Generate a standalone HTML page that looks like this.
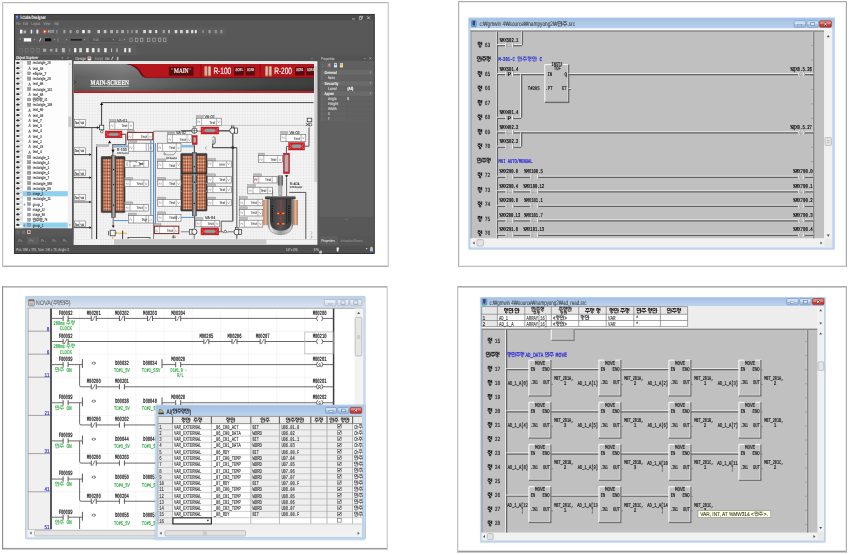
<!DOCTYPE html>
<html><head><meta charset="utf-8"><title>screens</title>
<style>html,body{margin:0;padding:0;background:#fff;overflow:hidden}svg{display:block}</style></head><body>
<svg width="851" height="555" viewBox="0 0 851 555" font-family="Liberation Sans, sans-serif" shape-rendering="auto" text-rendering="geometricPrecision">
<defs>
<pattern id="grid" width="2.78" height="2.78" patternUnits="userSpaceOnUse"><rect width="2.78" height="2.78" fill="#f5f5f5"/><path d="M0 0.4H2.78M0.4 0V2.78" stroke="#e9e9e9" stroke-width="0.8"/></pattern>
<linearGradient id="bannerg" x1="0" x2="1" y1="0" y2="0"><stop offset="0" stop-color="#5a5a5a"/><stop offset="0.2" stop-color="#6e6e6e"/><stop offset="0.5" stop-color="#525252"/><stop offset="0.8" stop-color="#3e3e3e"/><stop offset="1" stop-color="#383838"/></linearGradient>
<linearGradient id="tb7" x1="0" x2="0" y1="0" y2="1"><stop offset="0" stop-color="#a2c0e4"/><stop offset="1" stop-color="#bfd5ee"/></linearGradient>
<linearGradient id="tb7l" x1="0" x2="0" y1="0" y2="1"><stop offset="0" stop-color="#bed0e5"/><stop offset="1" stop-color="#dbe5f1"/></linearGradient>
<linearGradient id="copper" x1="0" x2="1" y1="0" y2="0"><stop offset="0" stop-color="#a85c3c"/><stop offset="0.5" stop-color="#cf8860"/><stop offset="1" stop-color="#a85c3c"/></linearGradient>
<linearGradient id="steel" x1="0" x2="1" y1="0" y2="0"><stop offset="0" stop-color="#555"/><stop offset="0.5" stop-color="#aaa"/><stop offset="1" stop-color="#555"/></linearGradient>
<filter id="soft" x="-2%" y="-2%" width="104%" height="104%"><feGaussianBlur stdDeviation="0.35"/></filter>
<pattern id="tubes" width="1.7" height="1.45" patternUnits="userSpaceOnUse"><rect width="1.7" height="1.45" fill="#c67a52"/><rect x="0" y="0" width="0.8" height="0.7" fill="#64281a"/><rect x="0.85" y="0.7" width="0.8" height="0.7" fill="#fbe4d2"/></pattern>
</defs>
<rect width="851" height="555" fill="#fff"/>
<g filter="url(#soft)">
<rect x="2.00" y="2.00" width="387.00" height="265.00" fill="#fff" />
<rect x="3.50" y="3.50" width="384.00" height="262.00" fill="none" stroke="#ededed" stroke-width="1" />
<line x1="2.00" y1="2.50" x2="389.00" y2="2.50" stroke="#b6b6b6" stroke-width="1.0" />
<line x1="2.00" y1="266.35" x2="389.00" y2="266.35" stroke="#acacac" stroke-width="1.3" />
<line x1="2.50" y1="2.00" x2="2.50" y2="267.00" stroke="#c2c2c2" stroke-width="1" />
<line x1="388.50" y1="2.00" x2="388.50" y2="267.00" stroke="#cfcfcf" stroke-width="1" />
<rect x="458.00" y="1.00" width="389.00" height="266.00" fill="#fff" />
<rect x="459.50" y="2.50" width="386.00" height="263.00" fill="none" stroke="#ededed" stroke-width="1" />
<line x1="458.00" y1="1.50" x2="847.00" y2="1.50" stroke="#ababab" stroke-width="1.0" />
<line x1="458.00" y1="266.50" x2="847.00" y2="266.50" stroke="#bdbdbd" stroke-width="1.0" />
<line x1="458.50" y1="1.00" x2="458.50" y2="267.00" stroke="#b4b4b4" stroke-width="1" />
<line x1="846.50" y1="1.00" x2="846.50" y2="267.00" stroke="#a8a8a8" stroke-width="1" />
<rect x="2.00" y="286.00" width="386.00" height="263.40" fill="#fff" />
<rect x="3.50" y="287.50" width="383.00" height="260.40" fill="none" stroke="#ededed" stroke-width="1" />
<line x1="2.00" y1="286.80" x2="388.00" y2="286.80" stroke="#b0b0b0" stroke-width="1.6" />
<line x1="2.00" y1="548.65" x2="388.00" y2="548.65" stroke="#9c9c9c" stroke-width="1.5" />
<line x1="2.50" y1="286.00" x2="2.50" y2="549.40" stroke="#8e8e8e" stroke-width="1" />
<line x1="387.50" y1="286.00" x2="387.50" y2="549.40" stroke="#d2d2d2" stroke-width="1" />
<rect x="457.00" y="286.00" width="390.00" height="266.40" fill="#fff" />
<rect x="458.50" y="287.50" width="387.00" height="263.40" fill="none" stroke="#ededed" stroke-width="1" />
<line x1="457.00" y1="286.75" x2="847.00" y2="286.75" stroke="#adadad" stroke-width="1.5" />
<line x1="457.00" y1="551.60" x2="847.00" y2="551.60" stroke="#9a9a9a" stroke-width="1.6" />
<line x1="457.50" y1="286.00" x2="457.50" y2="552.40" stroke="#c2c2c2" stroke-width="1" />
<line x1="846.50" y1="286.00" x2="846.50" y2="552.40" stroke="#b0b0b0" stroke-width="1" />
<rect x="468.20" y="17.60" width="366.80" height="232.10" fill="#bad3ee" rx="1.2" />
<rect x="468.50" y="17.90" width="366.20" height="231.50" fill="none" stroke="#d3e2f4" stroke-width="0.6" rx="1.2" />
<rect x="468.80" y="18.20" width="365.60" height="12.40" fill="url(#tb7)" />
<rect x="471.30" y="20.40" width="5.20" height="6.50" fill="#3fc9c0" rx="0.8" />
<path d="M472.60 20.70h2.4v3.6l-1.2 1.6l-1.2-1.6z" fill="#7a1e8a" />
<rect x="471.50" y="20.60" width="4.80" height="6.10" fill="none" stroke="#4a6a8a" stroke-width="0.4" rx="0.8" />
<text x="479.40" y="26.40" font-size="6.6" fill="#4a4a4a" font-family="Liberation Sans, sans-serif" textLength="78.00" lengthAdjust="spacingAndGlyphs" stroke="#4a4a4a" stroke-width="0.12">c:₩gmwin 4₩source₩nampyong2₩</text>
<g fill="none" stroke="#333" stroke-width="0.78" opacity="0.85"><path d="M558.00 21.62H560.32V23.80H558.00ZM561.55 21.2V26.40M561.55 23.54H562.54M558.34 24.84V26.14H560.81"/></g>
<g fill="none" stroke="#333" stroke-width="0.78" opacity="0.85"><path d="M562.89 21.72H566.85M564.87 21.72L563.14 23.80M564.87 21.98L566.75 23.80M562.40 24.63H567.34M564.87 24.63V26.40"/></g>
<text x="567.60" y="26.40" font-size="6.6" fill="#4a4a4a" font-family="Liberation Sans, sans-serif" textLength="7.40" lengthAdjust="spacingAndGlyphs" stroke="#4a4a4a" stroke-width="0.12">.src</text>
<rect x="794.10" y="20.80" width="11.50" height="6.50" fill="#a3bfe2" stroke="#7696c0" stroke-width="0.6" rx="1.2" />
<rect x="794.60" y="21.30" width="10.50" height="2.93" fill="#cfdff2" rx="0.8" />
<rect x="806.90" y="20.80" width="11.50" height="6.50" fill="#a3bfe2" stroke="#7696c0" stroke-width="0.6" rx="1.2" />
<rect x="807.40" y="21.30" width="10.50" height="2.93" fill="#cfdff2" rx="0.8" />
<rect x="797.85" y="24.30" width="4.00" height="1.60" fill="#eef2f8" stroke="#5f7696" stroke-width="0.45" />
<rect x="810.75" y="22.50" width="3.80" height="3.10" fill="#e4ecf6" stroke="#5f7696" stroke-width="0.6" />
<rect x="819.60" y="20.80" width="11.80" height="6.50" fill="#c23a2e" stroke="#8f3a36" stroke-width="0.6" rx="1.2" />
<rect x="820.10" y="21.30" width="10.80" height="2.93" fill="#de877c" rx="0.8" />
<path d="M824.20 22.80L826.80 25.30M826.80 22.80L824.20 25.30" fill="none" stroke="#6a2a26" stroke-width="1.9" />
<path d="M824.20 22.80L826.80 25.30M826.80 22.80L824.20 25.30" fill="none" stroke="#fff" stroke-width="1.0" />
<rect x="470.60" y="28.20" width="361.60" height="2.00" fill="#f6f8fb" />
<rect x="470.60" y="30.00" width="361.60" height="217.30" fill="#f0f0f0" />
<rect x="470.60" y="30.00" width="353.60" height="208.40" fill="#c0c0c0" />
<line x1="470.60" y1="30.20" x2="832.20" y2="30.20" stroke="#fbfbfb" stroke-width="0.8" />
<line x1="470.60" y1="31.00" x2="824.20" y2="31.00" stroke="#6e6e6e" stroke-width="1" />
<line x1="471.00" y1="30.50" x2="471.00" y2="238.40" stroke="#8c8c8c" stroke-width="0.8" />
<rect x="824.20" y="31.00" width="8.00" height="207.40" fill="#f1f1f1" />
<path d="M826.6 37.2l1.6-2.2l1.6 2.2z" fill="#555" />
<path d="M826.6 234.6l1.6 2.2l1.6-2.2z" fill="#555" />
<rect x="825.00" y="137.50" width="6.40" height="8.00" fill="#e4e4e4" stroke="#a8a8a8" stroke-width="0.6" rx="1" />
<line x1="826.80" y1="140.50" x2="829.60" y2="140.50" stroke="#999" stroke-width="0.5" />
<line x1="826.80" y1="142.50" x2="829.60" y2="142.50" stroke="#999" stroke-width="0.5" />
<rect x="470.60" y="238.40" width="361.60" height="8.90" fill="#f1f1f1" />
<path d="M474.6 241.4l-2 1.5l2 1.5z" fill="#555" />
<path d="M820.4 241.4l2 1.5l-2 1.5z" fill="#555" />
<rect x="477.00" y="239.60" width="6.40" height="6.40" fill="#e2e2e2" stroke="#a5a5a5" stroke-width="0.6" rx="1" />
<rect x="824.60" y="239.00" width="7.40" height="8.00" fill="#e9e9e9" />
<g fill="none" stroke="#000" stroke-width="0.84" opacity="1"><circle cx="479.10" cy="43.93" r="1.12"/><path d="M477.67 42.25H480.59M481.66 41.8V45.27M480.33 43.48H481.66"/><circle cx="480.06" cy="46.50" r="0.84"/></g>
<text x="484.80" y="46.68" font-size="6.2" fill="#2e2e2e" font-family="Liberation Mono, monospace" textLength="5.60" lengthAdjust="spacingAndGlyphs" stroke="#2e2e2e" stroke-width="0.2">63</text>
<g fill="none" stroke="#000" stroke-width="0.78" opacity="1"><path d="M477.40 56.72H479.72V58.90H477.40ZM480.95 56.300000000000004V61.50M480.95 58.64H481.94M477.74 59.94V61.24H480.21"/></g>
<g fill="none" stroke="#000" stroke-width="0.78" opacity="1"><path d="M482.09 56.82H486.05M484.07 56.82L482.34 58.90M484.07 57.08L485.95 58.90M481.60 59.73H486.54M484.07 59.73V61.50"/></g>
<g fill="none" stroke="#000" stroke-width="0.78" opacity="1"><circle cx="487.78" cy="58.28" r="1.04"/><path d="M486.45 56.72H489.16M490.15 56.300000000000004V59.52M488.92 57.86H490.15"/><circle cx="488.67" cy="60.67" r="0.78"/></g>
<g fill="none" stroke="#000" stroke-width="0.84" opacity="1"><circle cx="479.10" cy="73.33" r="1.12"/><path d="M477.67 71.65H480.59M481.66 71.2V74.67M480.33 72.88H481.66"/><circle cx="480.06" cy="75.90" r="0.84"/></g>
<text x="484.80" y="76.08" font-size="6.2" fill="#2e2e2e" font-family="Liberation Mono, monospace" textLength="5.60" lengthAdjust="spacingAndGlyphs" stroke="#2e2e2e" stroke-width="0.2">65</text>
<g fill="none" stroke="#000" stroke-width="0.84" opacity="1"><circle cx="479.10" cy="87.73" r="1.12"/><path d="M477.67 86.05H480.59M481.66 85.60000000000001V89.07M480.33 87.28H481.66"/><circle cx="480.06" cy="90.30" r="0.84"/></g>
<text x="484.80" y="90.48" font-size="6.2" fill="#2e2e2e" font-family="Liberation Mono, monospace" textLength="5.60" lengthAdjust="spacingAndGlyphs" stroke="#2e2e2e" stroke-width="0.2">66</text>
<g fill="none" stroke="#000" stroke-width="0.84" opacity="1"><circle cx="479.10" cy="102.13" r="1.12"/><path d="M477.67 100.45H480.59M481.66 100.0V103.47M480.33 101.68H481.66"/><circle cx="480.06" cy="104.70" r="0.84"/></g>
<text x="484.80" y="104.88" font-size="6.2" fill="#2e2e2e" font-family="Liberation Mono, monospace" textLength="5.60" lengthAdjust="spacingAndGlyphs" stroke="#2e2e2e" stroke-width="0.2">67</text>
<g fill="none" stroke="#000" stroke-width="0.84" opacity="1"><circle cx="479.10" cy="116.63" r="1.12"/><path d="M477.67 114.95H480.59M481.66 114.5V117.97M480.33 116.18H481.66"/><circle cx="480.06" cy="119.20" r="0.84"/></g>
<text x="484.80" y="119.38" font-size="6.2" fill="#2e2e2e" font-family="Liberation Mono, monospace" textLength="5.60" lengthAdjust="spacingAndGlyphs" stroke="#2e2e2e" stroke-width="0.2">68</text>
<g fill="none" stroke="#000" stroke-width="0.84" opacity="1"><circle cx="479.10" cy="131.13" r="1.12"/><path d="M477.67 129.45H480.59M481.66 129.00000000000003V132.47M480.33 130.68H481.66"/><circle cx="480.06" cy="133.70" r="0.84"/></g>
<text x="484.80" y="133.88" font-size="6.2" fill="#2e2e2e" font-family="Liberation Mono, monospace" textLength="5.60" lengthAdjust="spacingAndGlyphs" stroke="#2e2e2e" stroke-width="0.2">69</text>
<g fill="none" stroke="#000" stroke-width="0.84" opacity="1"><circle cx="479.10" cy="145.53" r="1.12"/><path d="M477.67 143.85H480.59M481.66 143.4V146.87M480.33 145.08H481.66"/><circle cx="480.06" cy="148.10" r="0.84"/></g>
<text x="484.80" y="148.28" font-size="6.2" fill="#2e2e2e" font-family="Liberation Mono, monospace" textLength="5.60" lengthAdjust="spacingAndGlyphs" stroke="#2e2e2e" stroke-width="0.2">70</text>
<g fill="none" stroke="#000" stroke-width="0.78" opacity="1"><path d="M477.40 158.22H479.72V160.40H477.40ZM480.95 157.79999999999998V163.00M480.95 160.14H481.94M477.74 161.44V162.74H480.21"/></g>
<g fill="none" stroke="#000" stroke-width="0.78" opacity="1"><path d="M482.09 158.32H486.05M484.07 158.32L482.34 160.40M484.07 158.58L485.95 160.40M481.60 161.23H486.54M484.07 161.23V163.00"/></g>
<g fill="none" stroke="#000" stroke-width="0.78" opacity="1"><circle cx="487.78" cy="159.78" r="1.04"/><path d="M486.45 158.22H489.16M490.15 157.79999999999998V161.02M488.92 159.36H490.15"/><circle cx="488.67" cy="162.17" r="0.78"/></g>
<g fill="none" stroke="#000" stroke-width="0.84" opacity="1"><circle cx="479.10" cy="174.53" r="1.12"/><path d="M477.67 172.85H480.59M481.66 172.4V175.87M480.33 174.08H481.66"/><circle cx="480.06" cy="177.10" r="0.84"/></g>
<text x="484.80" y="177.28" font-size="6.2" fill="#2e2e2e" font-family="Liberation Mono, monospace" textLength="5.60" lengthAdjust="spacingAndGlyphs" stroke="#2e2e2e" stroke-width="0.2">72</text>
<g fill="none" stroke="#000" stroke-width="0.84" opacity="1"><circle cx="479.10" cy="189.13" r="1.12"/><path d="M477.67 187.45H480.59M481.66 187.00000000000003V190.47M480.33 188.68H481.66"/><circle cx="480.06" cy="191.70" r="0.84"/></g>
<text x="484.80" y="191.88" font-size="6.2" fill="#2e2e2e" font-family="Liberation Mono, monospace" textLength="5.60" lengthAdjust="spacingAndGlyphs" stroke="#2e2e2e" stroke-width="0.2">73</text>
<g fill="none" stroke="#000" stroke-width="0.84" opacity="1"><circle cx="479.10" cy="203.63" r="1.12"/><path d="M477.67 201.95H480.59M481.66 201.50000000000003V204.97M480.33 203.18H481.66"/><circle cx="480.06" cy="206.20" r="0.84"/></g>
<text x="484.80" y="206.38" font-size="6.2" fill="#2e2e2e" font-family="Liberation Mono, monospace" textLength="5.60" lengthAdjust="spacingAndGlyphs" stroke="#2e2e2e" stroke-width="0.2">74</text>
<g fill="none" stroke="#000" stroke-width="0.84" opacity="1"><circle cx="479.10" cy="218.13" r="1.12"/><path d="M477.67 216.45H480.59M481.66 216.00000000000003V219.47M480.33 217.68H481.66"/><circle cx="480.06" cy="220.70" r="0.84"/></g>
<text x="484.80" y="220.88" font-size="6.2" fill="#2e2e2e" font-family="Liberation Mono, monospace" textLength="5.60" lengthAdjust="spacingAndGlyphs" stroke="#2e2e2e" stroke-width="0.2">75</text>
<g fill="none" stroke="#000" stroke-width="0.84" opacity="1"><circle cx="479.10" cy="232.53" r="1.12"/><path d="M477.67 230.85H480.59M481.66 230.4V233.87M480.33 232.08H481.66"/><circle cx="480.06" cy="235.10" r="0.84"/></g>
<text x="484.80" y="235.28" font-size="6.2" fill="#2e2e2e" font-family="Liberation Mono, monospace" textLength="5.60" lengthAdjust="spacingAndGlyphs" stroke="#2e2e2e" stroke-width="0.2">76</text>
<line x1="496.40" y1="31.50" x2="496.40" y2="238.40" stroke="#f4f4f4" stroke-width="0.9" />
<line x1="497.45" y1="31.50" x2="497.45" y2="238.40" stroke="#626262" stroke-width="1.2" />
<line x1="813.60" y1="31.50" x2="813.60" y2="238.40" stroke="#7d7d7d" stroke-width="1.3" />
<line x1="812.70" y1="31.50" x2="812.70" y2="238.40" stroke="#d8d8d8" stroke-width="0.6" />
<line x1="811.20" y1="45.60" x2="813.60" y2="45.60" stroke="#8a8a8a" stroke-width="0.7" />
<line x1="811.20" y1="60.10" x2="813.60" y2="60.10" stroke="#8a8a8a" stroke-width="0.7" />
<line x1="811.20" y1="75.00" x2="813.60" y2="75.00" stroke="#8a8a8a" stroke-width="0.7" />
<line x1="811.20" y1="89.40" x2="813.60" y2="89.40" stroke="#8a8a8a" stroke-width="0.7" />
<line x1="811.20" y1="103.80" x2="813.60" y2="103.80" stroke="#8a8a8a" stroke-width="0.7" />
<line x1="811.20" y1="118.30" x2="813.60" y2="118.30" stroke="#8a8a8a" stroke-width="0.7" />
<line x1="811.20" y1="132.80" x2="813.60" y2="132.80" stroke="#8a8a8a" stroke-width="0.7" />
<line x1="811.20" y1="147.20" x2="813.60" y2="147.20" stroke="#8a8a8a" stroke-width="0.7" />
<line x1="811.20" y1="161.60" x2="813.60" y2="161.60" stroke="#8a8a8a" stroke-width="0.7" />
<line x1="811.20" y1="176.20" x2="813.60" y2="176.20" stroke="#8a8a8a" stroke-width="0.7" />
<line x1="811.20" y1="190.80" x2="813.60" y2="190.80" stroke="#8a8a8a" stroke-width="0.7" />
<line x1="811.20" y1="205.30" x2="813.60" y2="205.30" stroke="#8a8a8a" stroke-width="0.7" />
<line x1="811.20" y1="219.80" x2="813.60" y2="219.80" stroke="#8a8a8a" stroke-width="0.7" />
<line x1="811.20" y1="234.20" x2="813.60" y2="234.20" stroke="#8a8a8a" stroke-width="0.7" />
<line x1="497.00" y1="44.65" x2="522.00" y2="44.65" stroke="#f4f4f4" stroke-width="0.9" />
<line x1="497.00" y1="45.70" x2="522.00" y2="45.70" stroke="#626262" stroke-width="1.2" />
<rect x="505.40" y="44.00" width="7.50" height="2.40" fill="#c0c0c0" />
<line x1="505.80" y1="42.90" x2="505.80" y2="47.50" stroke="#f4f4f4" stroke-width="1.1" />
<line x1="512.50" y1="42.90" x2="512.50" y2="47.50" stroke="#f4f4f4" stroke-width="1.1" />
<line x1="506.60" y1="42.90" x2="506.60" y2="47.50" stroke="#8a8a8a" stroke-width="0.6" />
<line x1="513.30" y1="42.90" x2="513.30" y2="47.50" stroke="#8a8a8a" stroke-width="0.6" />
<line x1="521.40" y1="31.50" x2="521.40" y2="45.20" stroke="#f4f4f4" stroke-width="0.9" />
<line x1="522.45" y1="31.50" x2="522.45" y2="45.20" stroke="#626262" stroke-width="1.2" />
<text x="499.80" y="41.70" font-size="5.9" fill="#111" font-family="Liberation Mono, monospace" textLength="18.60" lengthAdjust="spacingAndGlyphs" stroke="#111" stroke-width="0.22">%MX502.1</text>
<text x="498.40" y="61.10" font-size="5.9" fill="#1c1cd8" font-family="Liberation Mono, monospace" textLength="16.40" lengthAdjust="spacingAndGlyphs" stroke="#1c1cd8" stroke-width="0.22">M-201-C</text>
<g fill="none" stroke="#2222dd" stroke-width="0.72" opacity="0.95"><path d="M517.96 56.88H520.11V58.90H517.96ZM521.25 56.5V61.30M521.25 58.66H522.16M518.28 59.86V61.06H520.56"/></g>
<g fill="none" stroke="#2222dd" stroke-width="0.72" opacity="0.95"><path d="M522.96 56.98H526.60M524.78 56.98L523.18 58.90M524.78 57.22L526.51 58.90M522.50 59.67H527.06M524.78 59.67V61.30"/></g>
<g fill="none" stroke="#2222dd" stroke-width="0.72" opacity="0.95"><circle cx="528.86" cy="58.32" r="0.96"/><path d="M527.63 56.88H530.14M531.05 56.5V59.48M529.91 57.94H531.05"/><circle cx="529.68" cy="60.53" r="0.72"/></g>
<g fill="none" stroke="#2222dd" stroke-width="0.72" opacity="0.95"><path d="M532.66 56.88H534.81V58.90H532.66ZM535.95 56.5V61.30M535.95 58.66H536.86M532.98 59.86V61.06H535.26"/></g>
<text x="539.40" y="61.10" font-size="5.9" fill="#1c1cd8" font-family="Liberation Mono, monospace" textLength="2.80" lengthAdjust="spacingAndGlyphs" stroke="#1c1cd8" stroke-width="0.22">C</text>
<line x1="497.00" y1="73.65" x2="545.00" y2="73.65" stroke="#f4f4f4" stroke-width="0.9" />
<line x1="497.00" y1="74.70" x2="545.00" y2="74.70" stroke="#626262" stroke-width="1.2" />
<rect x="505.60" y="73.00" width="7.50" height="2.40" fill="#c0c0c0" />
<line x1="506.00" y1="71.90" x2="506.00" y2="76.50" stroke="#f4f4f4" stroke-width="1.1" />
<line x1="512.70" y1="71.90" x2="512.70" y2="76.50" stroke="#f4f4f4" stroke-width="1.1" />
<line x1="506.80" y1="71.90" x2="506.80" y2="76.50" stroke="#8a8a8a" stroke-width="0.6" />
<line x1="513.50" y1="71.90" x2="513.50" y2="76.50" stroke="#8a8a8a" stroke-width="0.6" />
<text x="509.40" y="76.30" font-size="5.6" fill="#111" text-anchor="middle" font-weight="bold" >P</text>
<text x="499.80" y="70.70" font-size="5.9" fill="#111" font-family="Liberation Mono, monospace" textLength="18.60" lengthAdjust="spacingAndGlyphs" stroke="#111" stroke-width="0.22">%MX501.4</text>
<line x1="520.60" y1="74.20" x2="520.60" y2="117.90" stroke="#f4f4f4" stroke-width="0.9" />
<line x1="521.65" y1="74.20" x2="521.65" y2="117.90" stroke="#626262" stroke-width="1.2" />
<rect x="544.80" y="64.60" width="23.80" height="37.80" fill="#c0c0c0" />
<line x1="544.80" y1="64.60" x2="544.80" y2="102.40" stroke="#f6f6f6" stroke-width="1.1" />
<line x1="544.80" y1="64.60" x2="551.50" y2="64.60" stroke="#f6f6f6" stroke-width="1.1" />
<line x1="562.50" y1="64.60" x2="568.60" y2="64.60" stroke="#f6f6f6" stroke-width="1.1" />
<line x1="568.60" y1="64.60" x2="568.60" y2="102.40" stroke="#6a6a6a" stroke-width="1.4" />
<line x1="544.80" y1="102.40" x2="569.30" y2="102.40" stroke="#6a6a6a" stroke-width="1.4" />
<line x1="567.60" y1="65.10" x2="567.60" y2="101.40" stroke="#e6e6e6" stroke-width="0.6" />
<text x="551.60" y="66.00" font-size="5.6" fill="#222" font-family="Liberation Mono, monospace" textLength="10.80" lengthAdjust="spacingAndGlyphs" stroke="#222" stroke-width="0.22">INST3</text>
<text x="554.00" y="70.40" font-size="5.6" fill="#222" font-family="Liberation Mono, monospace" textLength="6.60" lengthAdjust="spacingAndGlyphs" stroke="#222" stroke-width="0.22">TOF</text>
<text x="547.40" y="75.60" font-size="5.6" fill="#222" font-family="Liberation Mono, monospace" textLength="4.80" lengthAdjust="spacingAndGlyphs" stroke="#222" stroke-width="0.22">IN</text>
<text x="564.60" y="75.60" font-size="5.6" fill="#222" font-family="Liberation Mono, monospace" textLength="2.60" lengthAdjust="spacingAndGlyphs" stroke="#222" stroke-width="0.22">Q</text>
<text x="545.60" y="90.20" font-size="5.6" fill="#222" font-family="Liberation Mono, monospace" textLength="6.80" lengthAdjust="spacingAndGlyphs" stroke="#222" stroke-width="0.22">.PT</text>
<text x="562.00" y="90.20" font-size="5.6" fill="#222" font-family="Liberation Mono, monospace" textLength="4.60" lengthAdjust="spacingAndGlyphs" stroke="#222" stroke-width="0.22">ET</text>
<line x1="568.60" y1="73.65" x2="813.60" y2="73.65" stroke="#f4f4f4" stroke-width="0.9" />
<line x1="568.60" y1="74.70" x2="813.60" y2="74.70" stroke="#626262" stroke-width="1.2" />
<line x1="568.60" y1="88.45" x2="571.00" y2="88.45" stroke="#f4f4f4" stroke-width="0.9" />
<line x1="568.60" y1="89.50" x2="571.00" y2="89.50" stroke="#626262" stroke-width="1.2" />
<text x="527.80" y="90.20" font-size="5.6" fill="#222" font-family="Liberation Mono, monospace" textLength="11.80" lengthAdjust="spacingAndGlyphs" stroke="#222" stroke-width="0.22">T#20S</text>
<rect x="797.80" y="73.00" width="7.00" height="2.40" fill="#c0c0c0" />
<path d="M799.60 71.80Q797.60 74.20 799.60 76.60" fill="none" stroke="#f4f4f4" stroke-width="1" />
<path d="M803.00 71.80Q805.00 74.20 803.00 76.60" fill="none" stroke="#f4f4f4" stroke-width="1" />
<path d="M800.30 71.80Q798.30 74.20 800.30 76.60" fill="none" stroke="#888" stroke-width="0.5" />
<path d="M803.70 71.80Q805.70 74.20 803.70 76.60" fill="none" stroke="#888" stroke-width="0.5" />
<text x="790.40" y="70.50" font-size="5.9" fill="#111" font-family="Liberation Mono, monospace" textLength="21.60" lengthAdjust="spacingAndGlyphs" stroke="#111" stroke-width="0.22">%QX0.5.26</text>
<line x1="497.00" y1="117.35" x2="521.20" y2="117.35" stroke="#f4f4f4" stroke-width="0.9" />
<line x1="497.00" y1="118.40" x2="521.20" y2="118.40" stroke="#626262" stroke-width="1.2" />
<rect x="505.60" y="116.70" width="7.50" height="2.40" fill="#c0c0c0" />
<line x1="506.00" y1="115.60" x2="506.00" y2="120.20" stroke="#f4f4f4" stroke-width="1.1" />
<line x1="512.70" y1="115.60" x2="512.70" y2="120.20" stroke="#f4f4f4" stroke-width="1.1" />
<line x1="506.80" y1="115.60" x2="506.80" y2="120.20" stroke="#8a8a8a" stroke-width="0.6" />
<line x1="513.50" y1="115.60" x2="513.50" y2="120.20" stroke="#8a8a8a" stroke-width="0.6" />
<text x="509.40" y="120.00" font-size="5.6" fill="#111" text-anchor="middle" font-weight="bold" >P</text>
<text x="499.80" y="114.40" font-size="5.9" fill="#111" font-family="Liberation Mono, monospace" textLength="18.60" lengthAdjust="spacingAndGlyphs" stroke="#111" stroke-width="0.22">%MX401.4</text>
<line x1="497.00" y1="131.85" x2="813.60" y2="131.85" stroke="#f4f4f4" stroke-width="0.9" />
<line x1="497.00" y1="132.90" x2="813.60" y2="132.90" stroke="#626262" stroke-width="1.2" />
<rect x="505.60" y="131.20" width="7.50" height="2.40" fill="#c0c0c0" />
<line x1="506.00" y1="130.10" x2="506.00" y2="134.70" stroke="#f4f4f4" stroke-width="1.1" />
<line x1="512.70" y1="130.10" x2="512.70" y2="134.70" stroke="#f4f4f4" stroke-width="1.1" />
<line x1="506.80" y1="130.10" x2="506.80" y2="134.70" stroke="#8a8a8a" stroke-width="0.6" />
<line x1="513.50" y1="130.10" x2="513.50" y2="134.70" stroke="#8a8a8a" stroke-width="0.6" />
<text x="499.80" y="128.90" font-size="5.9" fill="#111" font-family="Liberation Mono, monospace" textLength="18.60" lengthAdjust="spacingAndGlyphs" stroke="#111" stroke-width="0.22">%MX402.2</text>
<rect x="797.80" y="131.20" width="7.00" height="2.40" fill="#c0c0c0" />
<path d="M799.60 130.00Q797.60 132.40 799.60 134.80" fill="none" stroke="#f4f4f4" stroke-width="1" />
<path d="M803.00 130.00Q805.00 132.40 803.00 134.80" fill="none" stroke="#f4f4f4" stroke-width="1" />
<path d="M800.30 130.00Q798.30 132.40 800.30 134.80" fill="none" stroke="#888" stroke-width="0.5" />
<path d="M803.70 130.00Q805.70 132.40 803.70 134.80" fill="none" stroke="#888" stroke-width="0.5" />
<text x="790.40" y="128.70" font-size="5.9" fill="#111" font-family="Liberation Mono, monospace" textLength="21.60" lengthAdjust="spacingAndGlyphs" stroke="#111" stroke-width="0.22">%QX0.5.27</text>
<line x1="520.60" y1="132.40" x2="520.60" y2="146.80" stroke="#f4f4f4" stroke-width="0.9" />
<line x1="521.65" y1="132.40" x2="521.65" y2="146.80" stroke="#626262" stroke-width="1.2" />
<line x1="497.00" y1="146.25" x2="521.20" y2="146.25" stroke="#f4f4f4" stroke-width="0.9" />
<line x1="497.00" y1="147.30" x2="521.20" y2="147.30" stroke="#626262" stroke-width="1.2" />
<rect x="505.60" y="145.60" width="7.50" height="2.40" fill="#c0c0c0" />
<line x1="506.00" y1="144.50" x2="506.00" y2="149.10" stroke="#f4f4f4" stroke-width="1.1" />
<line x1="512.70" y1="144.50" x2="512.70" y2="149.10" stroke="#f4f4f4" stroke-width="1.1" />
<line x1="506.80" y1="144.50" x2="506.80" y2="149.10" stroke="#8a8a8a" stroke-width="0.6" />
<line x1="513.50" y1="144.50" x2="513.50" y2="149.10" stroke="#8a8a8a" stroke-width="0.6" />
<text x="499.80" y="143.30" font-size="5.9" fill="#111" font-family="Liberation Mono, monospace" textLength="18.60" lengthAdjust="spacingAndGlyphs" stroke="#111" stroke-width="0.22">%MX502.2</text>
<text x="498.60" y="162.60" font-size="5.9" fill="#1c1cd8" font-family="Liberation Mono, monospace" textLength="34.00" lengthAdjust="spacingAndGlyphs" stroke="#1c1cd8" stroke-width="0.22">MHI AUTO/MENUAL</text>
<line x1="497.00" y1="176.25" x2="813.60" y2="176.25" stroke="#f4f4f4" stroke-width="0.9" />
<line x1="497.00" y1="177.30" x2="813.60" y2="177.30" stroke="#626262" stroke-width="1.2" />
<rect x="505.80" y="175.60" width="7.50" height="2.40" fill="#c0c0c0" />
<line x1="506.20" y1="174.50" x2="506.20" y2="179.10" stroke="#f4f4f4" stroke-width="1.1" />
<line x1="512.90" y1="174.50" x2="512.90" y2="179.10" stroke="#f4f4f4" stroke-width="1.1" />
<line x1="507.00" y1="174.50" x2="507.00" y2="179.10" stroke="#8a8a8a" stroke-width="0.6" />
<line x1="513.70" y1="174.50" x2="513.70" y2="179.10" stroke="#8a8a8a" stroke-width="0.6" />
<rect x="530.60" y="175.60" width="7.50" height="2.40" fill="#c0c0c0" />
<line x1="531.00" y1="174.50" x2="531.00" y2="179.10" stroke="#f4f4f4" stroke-width="1.1" />
<line x1="537.70" y1="174.50" x2="537.70" y2="179.10" stroke="#f4f4f4" stroke-width="1.1" />
<line x1="531.80" y1="174.50" x2="531.80" y2="179.10" stroke="#8a8a8a" stroke-width="0.6" />
<line x1="538.50" y1="174.50" x2="538.50" y2="179.10" stroke="#8a8a8a" stroke-width="0.6" />
<text x="499.60" y="173.20" font-size="5.9" fill="#111" font-family="Liberation Mono, monospace" textLength="18.60" lengthAdjust="spacingAndGlyphs" stroke="#111" stroke-width="0.22">%MX200.0</text>
<text x="524.20" y="173.20" font-size="5.9" fill="#111" font-family="Liberation Mono, monospace" textLength="18.60" lengthAdjust="spacingAndGlyphs" stroke="#111" stroke-width="0.22">%MX100.5</text>
<rect x="797.80" y="175.60" width="7.00" height="2.40" fill="#c0c0c0" />
<path d="M799.60 174.40Q797.60 176.80 799.60 179.20" fill="none" stroke="#f4f4f4" stroke-width="1" />
<path d="M803.00 174.40Q805.00 176.80 803.00 179.20" fill="none" stroke="#f4f4f4" stroke-width="1" />
<path d="M800.30 174.40Q798.30 176.80 800.30 179.20" fill="none" stroke="#888" stroke-width="0.5" />
<path d="M803.70 174.40Q805.70 176.80 803.70 179.20" fill="none" stroke="#888" stroke-width="0.5" />
<text x="793.20" y="173.00" font-size="5.9" fill="#111" font-family="Liberation Mono, monospace" textLength="19.60" lengthAdjust="spacingAndGlyphs" stroke="#111" stroke-width="0.22">%MX700.0</text>
<line x1="497.00" y1="190.85" x2="813.60" y2="190.85" stroke="#f4f4f4" stroke-width="0.9" />
<line x1="497.00" y1="191.90" x2="813.60" y2="191.90" stroke="#626262" stroke-width="1.2" />
<rect x="505.80" y="190.20" width="7.50" height="2.40" fill="#c0c0c0" />
<line x1="506.20" y1="189.10" x2="506.20" y2="193.70" stroke="#f4f4f4" stroke-width="1.1" />
<line x1="512.90" y1="189.10" x2="512.90" y2="193.70" stroke="#f4f4f4" stroke-width="1.1" />
<line x1="507.00" y1="189.10" x2="507.00" y2="193.70" stroke="#8a8a8a" stroke-width="0.6" />
<line x1="513.70" y1="189.10" x2="513.70" y2="193.70" stroke="#8a8a8a" stroke-width="0.6" />
<rect x="530.60" y="190.20" width="7.50" height="2.40" fill="#c0c0c0" />
<line x1="531.00" y1="189.10" x2="531.00" y2="193.70" stroke="#f4f4f4" stroke-width="1.1" />
<line x1="537.70" y1="189.10" x2="537.70" y2="193.70" stroke="#f4f4f4" stroke-width="1.1" />
<line x1="531.80" y1="189.10" x2="531.80" y2="193.70" stroke="#8a8a8a" stroke-width="0.6" />
<line x1="538.50" y1="189.10" x2="538.50" y2="193.70" stroke="#8a8a8a" stroke-width="0.6" />
<text x="499.60" y="187.80" font-size="5.9" fill="#111" font-family="Liberation Mono, monospace" textLength="18.60" lengthAdjust="spacingAndGlyphs" stroke="#111" stroke-width="0.22">%MX200.4</text>
<text x="523.40" y="187.80" font-size="5.9" fill="#111" font-family="Liberation Mono, monospace" textLength="20.80" lengthAdjust="spacingAndGlyphs" stroke="#111" stroke-width="0.22">%MX100.12</text>
<rect x="797.80" y="190.20" width="7.00" height="2.40" fill="#c0c0c0" />
<path d="M799.60 189.00Q797.60 191.40 799.60 193.80" fill="none" stroke="#f4f4f4" stroke-width="1" />
<path d="M803.00 189.00Q805.00 191.40 803.00 193.80" fill="none" stroke="#f4f4f4" stroke-width="1" />
<path d="M800.30 189.00Q798.30 191.40 800.30 193.80" fill="none" stroke="#888" stroke-width="0.5" />
<path d="M803.70 189.00Q805.70 191.40 803.70 193.80" fill="none" stroke="#888" stroke-width="0.5" />
<text x="793.20" y="187.60" font-size="5.9" fill="#111" font-family="Liberation Mono, monospace" textLength="19.60" lengthAdjust="spacingAndGlyphs" stroke="#111" stroke-width="0.22">%MX700.1</text>
<line x1="497.00" y1="205.35" x2="813.60" y2="205.35" stroke="#f4f4f4" stroke-width="0.9" />
<line x1="497.00" y1="206.40" x2="813.60" y2="206.40" stroke="#626262" stroke-width="1.2" />
<rect x="505.80" y="204.70" width="7.50" height="2.40" fill="#c0c0c0" />
<line x1="506.20" y1="203.60" x2="506.20" y2="208.20" stroke="#f4f4f4" stroke-width="1.1" />
<line x1="512.90" y1="203.60" x2="512.90" y2="208.20" stroke="#f4f4f4" stroke-width="1.1" />
<line x1="507.00" y1="203.60" x2="507.00" y2="208.20" stroke="#8a8a8a" stroke-width="0.6" />
<line x1="513.70" y1="203.60" x2="513.70" y2="208.20" stroke="#8a8a8a" stroke-width="0.6" />
<rect x="530.60" y="204.70" width="7.50" height="2.40" fill="#c0c0c0" />
<line x1="531.00" y1="203.60" x2="531.00" y2="208.20" stroke="#f4f4f4" stroke-width="1.1" />
<line x1="537.70" y1="203.60" x2="537.70" y2="208.20" stroke="#f4f4f4" stroke-width="1.1" />
<line x1="531.80" y1="203.60" x2="531.80" y2="208.20" stroke="#8a8a8a" stroke-width="0.6" />
<line x1="538.50" y1="203.60" x2="538.50" y2="208.20" stroke="#8a8a8a" stroke-width="0.6" />
<text x="499.60" y="202.30" font-size="5.9" fill="#111" font-family="Liberation Mono, monospace" textLength="18.60" lengthAdjust="spacingAndGlyphs" stroke="#111" stroke-width="0.22">%MX200.8</text>
<text x="524.20" y="202.30" font-size="5.9" fill="#111" font-family="Liberation Mono, monospace" textLength="18.60" lengthAdjust="spacingAndGlyphs" stroke="#111" stroke-width="0.22">%MX101.1</text>
<rect x="797.80" y="204.70" width="7.00" height="2.40" fill="#c0c0c0" />
<path d="M799.60 203.50Q797.60 205.90 799.60 208.30" fill="none" stroke="#f4f4f4" stroke-width="1" />
<path d="M803.00 203.50Q805.00 205.90 803.00 208.30" fill="none" stroke="#f4f4f4" stroke-width="1" />
<path d="M800.30 203.50Q798.30 205.90 800.30 208.30" fill="none" stroke="#888" stroke-width="0.5" />
<path d="M803.70 203.50Q805.70 205.90 803.70 208.30" fill="none" stroke="#888" stroke-width="0.5" />
<text x="793.20" y="202.10" font-size="5.9" fill="#111" font-family="Liberation Mono, monospace" textLength="19.60" lengthAdjust="spacingAndGlyphs" stroke="#111" stroke-width="0.22">%MX700.2</text>
<line x1="497.00" y1="219.85" x2="813.60" y2="219.85" stroke="#f4f4f4" stroke-width="0.9" />
<line x1="497.00" y1="220.90" x2="813.60" y2="220.90" stroke="#626262" stroke-width="1.2" />
<rect x="505.80" y="219.20" width="7.50" height="2.40" fill="#c0c0c0" />
<line x1="506.20" y1="218.10" x2="506.20" y2="222.70" stroke="#f4f4f4" stroke-width="1.1" />
<line x1="512.90" y1="218.10" x2="512.90" y2="222.70" stroke="#f4f4f4" stroke-width="1.1" />
<line x1="507.00" y1="218.10" x2="507.00" y2="222.70" stroke="#8a8a8a" stroke-width="0.6" />
<line x1="513.70" y1="218.10" x2="513.70" y2="222.70" stroke="#8a8a8a" stroke-width="0.6" />
<rect x="530.60" y="219.20" width="7.50" height="2.40" fill="#c0c0c0" />
<line x1="531.00" y1="218.10" x2="531.00" y2="222.70" stroke="#f4f4f4" stroke-width="1.1" />
<line x1="537.70" y1="218.10" x2="537.70" y2="222.70" stroke="#f4f4f4" stroke-width="1.1" />
<line x1="531.80" y1="218.10" x2="531.80" y2="222.70" stroke="#8a8a8a" stroke-width="0.6" />
<line x1="538.50" y1="218.10" x2="538.50" y2="222.70" stroke="#8a8a8a" stroke-width="0.6" />
<text x="499.60" y="216.80" font-size="5.9" fill="#111" font-family="Liberation Mono, monospace" textLength="20.60" lengthAdjust="spacingAndGlyphs" stroke="#111" stroke-width="0.22">%MX200.12</text>
<text x="524.20" y="216.80" font-size="5.9" fill="#111" font-family="Liberation Mono, monospace" textLength="18.60" lengthAdjust="spacingAndGlyphs" stroke="#111" stroke-width="0.22">%MX101.7</text>
<rect x="797.80" y="219.20" width="7.00" height="2.40" fill="#c0c0c0" />
<path d="M799.60 218.00Q797.60 220.40 799.60 222.80" fill="none" stroke="#f4f4f4" stroke-width="1" />
<path d="M803.00 218.00Q805.00 220.40 803.00 222.80" fill="none" stroke="#f4f4f4" stroke-width="1" />
<path d="M800.30 218.00Q798.30 220.40 800.30 222.80" fill="none" stroke="#888" stroke-width="0.5" />
<path d="M803.70 218.00Q805.70 220.40 803.70 222.80" fill="none" stroke="#888" stroke-width="0.5" />
<text x="793.20" y="216.60" font-size="5.9" fill="#111" font-family="Liberation Mono, monospace" textLength="19.60" lengthAdjust="spacingAndGlyphs" stroke="#111" stroke-width="0.22">%MX700.3</text>
<line x1="497.00" y1="234.25" x2="813.60" y2="234.25" stroke="#f4f4f4" stroke-width="0.9" />
<line x1="497.00" y1="235.30" x2="813.60" y2="235.30" stroke="#626262" stroke-width="1.2" />
<rect x="505.80" y="233.60" width="7.50" height="2.40" fill="#c0c0c0" />
<line x1="506.20" y1="232.50" x2="506.20" y2="237.10" stroke="#f4f4f4" stroke-width="1.1" />
<line x1="512.90" y1="232.50" x2="512.90" y2="237.10" stroke="#f4f4f4" stroke-width="1.1" />
<line x1="507.00" y1="232.50" x2="507.00" y2="237.10" stroke="#8a8a8a" stroke-width="0.6" />
<line x1="513.70" y1="232.50" x2="513.70" y2="237.10" stroke="#8a8a8a" stroke-width="0.6" />
<rect x="530.60" y="233.60" width="7.50" height="2.40" fill="#c0c0c0" />
<line x1="531.00" y1="232.50" x2="531.00" y2="237.10" stroke="#f4f4f4" stroke-width="1.1" />
<line x1="537.70" y1="232.50" x2="537.70" y2="237.10" stroke="#f4f4f4" stroke-width="1.1" />
<line x1="531.80" y1="232.50" x2="531.80" y2="237.10" stroke="#8a8a8a" stroke-width="0.6" />
<line x1="538.50" y1="232.50" x2="538.50" y2="237.10" stroke="#8a8a8a" stroke-width="0.6" />
<text x="499.60" y="231.20" font-size="5.9" fill="#111" font-family="Liberation Mono, monospace" textLength="18.60" lengthAdjust="spacingAndGlyphs" stroke="#111" stroke-width="0.22">%MX201.0</text>
<text x="523.40" y="231.20" font-size="5.9" fill="#111" font-family="Liberation Mono, monospace" textLength="20.80" lengthAdjust="spacingAndGlyphs" stroke="#111" stroke-width="0.22">%MX101.13</text>
<rect x="797.80" y="233.60" width="7.00" height="2.40" fill="#c0c0c0" />
<path d="M799.60 232.40Q797.60 234.80 799.60 237.20" fill="none" stroke="#f4f4f4" stroke-width="1" />
<path d="M803.00 232.40Q805.00 234.80 803.00 237.20" fill="none" stroke="#f4f4f4" stroke-width="1" />
<path d="M800.30 232.40Q798.30 234.80 800.30 237.20" fill="none" stroke="#888" stroke-width="0.5" />
<path d="M803.70 232.40Q805.70 234.80 803.70 237.20" fill="none" stroke="#888" stroke-width="0.5" />
<text x="793.20" y="231.00" font-size="5.9" fill="#111" font-family="Liberation Mono, monospace" textLength="19.60" lengthAdjust="spacingAndGlyphs" stroke="#111" stroke-width="0.22">%MX700.4</text>
<rect x="480.00" y="297.00" width="345.80" height="245.70" fill="#bad3ee" rx="1.2" />
<rect x="480.30" y="297.30" width="345.20" height="245.10" fill="none" stroke="#d3e2f4" stroke-width="0.6" rx="1.2" />
<rect x="480.60" y="297.60" width="344.60" height="9.20" fill="url(#tb7)" />
<rect x="481.80" y="298.80" width="5.20" height="6.50" fill="#3fc9c0" rx="0.8" />
<path d="M483.10 299.10h2.4v3.6l-1.2 1.6l-1.2-1.6z" fill="#7a1e8a" />
<rect x="482.00" y="299.00" width="4.80" height="6.10" fill="none" stroke="#4a6a8a" stroke-width="0.4" rx="0.8" />
<text x="489.60" y="304.60" font-size="6.6" fill="#4a4a4a" font-family="Liberation Sans, sans-serif" textLength="96.80" lengthAdjust="spacingAndGlyphs" stroke="#4a4a4a" stroke-width="0.12">c:₩gmwin 4₩source₩nampyong2₩ad_read.src</text>
<rect x="786.70" y="298.60" width="11.60" height="6.20" fill="#a3bfe2" stroke="#7696c0" stroke-width="0.6" rx="1.2" />
<rect x="787.20" y="299.10" width="10.60" height="2.79" fill="#cfdff2" rx="0.8" />
<rect x="799.60" y="298.60" width="11.60" height="6.20" fill="#a3bfe2" stroke="#7696c0" stroke-width="0.6" rx="1.2" />
<rect x="800.10" y="299.10" width="10.60" height="2.79" fill="#cfdff2" rx="0.8" />
<rect x="790.50" y="301.80" width="4.00" height="1.60" fill="#eef2f8" stroke="#5f7696" stroke-width="0.45" />
<rect x="803.50" y="300.30" width="3.80" height="2.80" fill="#e4ecf6" stroke="#5f7696" stroke-width="0.6" />
<rect x="812.40" y="298.60" width="11.60" height="6.20" fill="#c23a2e" stroke="#8f3a36" stroke-width="0.6" rx="1.2" />
<rect x="812.90" y="299.10" width="10.60" height="2.79" fill="#de877c" rx="0.8" />
<path d="M816.90 300.60L819.50 302.80M819.50 300.60L816.90 302.80" fill="none" stroke="#6a2a26" stroke-width="1.9" />
<path d="M816.90 300.60L819.50 302.80M819.50 300.60L816.90 302.80" fill="none" stroke="#fff" stroke-width="1.0" />
<rect x="481.60" y="306.40" width="342.40" height="22.40" fill="#fdfdfd" />
<rect x="687.60" y="306.40" width="129.80" height="21.60" fill="#ededed" />
<rect x="481.60" y="306.60" width="206.00" height="7.70" fill="#e6e6e6" />
<rect x="481.60" y="314.30" width="15.80" height="12.30" fill="#e6e6e6" />
<line x1="481.60" y1="306.60" x2="687.60" y2="306.60" stroke="#7d7d7d" stroke-width="0.7" />
<line x1="481.60" y1="314.30" x2="687.60" y2="314.30" stroke="#7d7d7d" stroke-width="0.7" />
<line x1="481.60" y1="320.50" x2="687.60" y2="320.50" stroke="#7d7d7d" stroke-width="0.7" />
<line x1="481.60" y1="326.60" x2="687.60" y2="326.60" stroke="#7d7d7d" stroke-width="0.7" />
<line x1="481.60" y1="306.60" x2="481.60" y2="326.60" stroke="#7d7d7d" stroke-width="0.7" />
<line x1="497.40" y1="306.60" x2="497.40" y2="326.60" stroke="#7d7d7d" stroke-width="0.7" />
<line x1="524.80" y1="306.60" x2="524.80" y2="326.60" stroke="#7d7d7d" stroke-width="0.7" />
<line x1="551.30" y1="306.60" x2="551.30" y2="326.60" stroke="#7d7d7d" stroke-width="0.7" />
<line x1="578.70" y1="306.60" x2="578.70" y2="326.60" stroke="#7d7d7d" stroke-width="0.7" />
<line x1="606.20" y1="306.60" x2="606.20" y2="326.60" stroke="#7d7d7d" stroke-width="0.7" />
<line x1="633.80" y1="306.60" x2="633.80" y2="326.60" stroke="#7d7d7d" stroke-width="0.7" />
<line x1="660.40" y1="306.60" x2="660.40" y2="326.60" stroke="#7d7d7d" stroke-width="0.7" />
<line x1="687.60" y1="306.60" x2="687.60" y2="326.60" stroke="#7d7d7d" stroke-width="0.7" />
<g fill="none" stroke="#000" stroke-width="0.78" opacity="1"><circle cx="505.38" cy="309.98" r="1.04"/><path d="M504.05 308.42H506.76M507.75 308.0V311.22M506.52 309.56H507.75"/><circle cx="506.27" cy="312.37" r="0.78"/></g>
<g fill="none" stroke="#000" stroke-width="0.78" opacity="1"><path d="M509.00 308.42H511.32V310.60H509.00ZM512.55 308.0V313.20M512.55 310.34H513.54M509.34 311.64V312.94H511.81"/></g>
<g fill="none" stroke="#000" stroke-width="0.78" opacity="1"><path d="M515.00 308.42H517.32V310.60H515.00ZM518.55 308.0V313.20M518.55 310.34H519.54M515.34 311.64V312.94H517.81"/></g>
<g fill="none" stroke="#000" stroke-width="0.69" opacity="1"><path d="M531.75 307.17H533.80V309.10H531.75ZM534.90 306.8V311.40M534.90 308.87H535.77M532.06 310.02V311.17H534.24"/></g>
<g fill="none" stroke="#000" stroke-width="0.69" opacity="1"><path d="M536.24 307.26H539.73M537.98 307.26L536.46 309.10M537.98 307.49L539.65 309.10M535.80 309.84H540.17M537.98 309.84V311.40"/></g>
<g fill="none" stroke="#000" stroke-width="0.69" opacity="1"><circle cx="541.60" cy="308.55" r="0.92"/><path d="M540.42 307.17H542.82M543.70 306.8V309.65M542.60 308.18H543.70"/><circle cx="542.38" cy="310.66" r="0.69"/></g>
<g fill="none" stroke="#000" stroke-width="0.50" opacity="1"><path d="M533.70 311.52H536.14M534.92 311.52L533.86 312.80M534.92 311.68L536.08 312.80M533.40 313.31H536.44M534.92 313.31V314.40"/></g>
<g fill="none" stroke="#000" stroke-width="0.50" opacity="1"><circle cx="537.97" cy="312.42" r="0.64"/><path d="M537.15 311.46H538.82M539.43 311.2V313.18M538.67 312.16H539.43"/><circle cx="538.52" cy="313.89" r="0.48"/></g>
<g fill="none" stroke="#000" stroke-width="0.69" opacity="1"><path d="M559.04 307.26H562.53M560.78 307.26L559.26 309.10M560.78 307.49L562.45 309.10M558.60 309.84H562.97M560.78 309.84V311.40"/></g>
<g fill="none" stroke="#000" stroke-width="0.69" opacity="1"><circle cx="564.40" cy="308.55" r="0.92"/><path d="M563.22 307.17H565.62M566.50 306.8V309.65M565.40 308.18H566.50"/><circle cx="565.18" cy="310.66" r="0.69"/></g>
<g fill="none" stroke="#000" stroke-width="0.69" opacity="1"><path d="M567.75 307.17H569.80V309.10H567.75ZM570.90 306.8V311.40M570.90 308.87H571.77M568.06 310.02V311.17H570.24"/></g>
<g fill="none" stroke="#000" stroke-width="0.50" opacity="1"><circle cx="561.37" cy="312.42" r="0.64"/><path d="M560.55 311.46H562.22M562.83 311.2V313.18M562.07 312.16H562.83"/><circle cx="561.92" cy="313.89" r="0.48"/></g>
<g fill="none" stroke="#000" stroke-width="0.50" opacity="1"><path d="M564.24 311.46H565.67V312.80H564.24ZM566.43 311.2V314.40M566.43 312.64H567.04M564.46 313.44V314.24H565.98"/></g>
<g fill="none" stroke="#000" stroke-width="0.78" opacity="1"><path d="M585.49 308.52H589.45M587.47 308.52L585.74 310.60M587.47 308.78L589.35 310.60M585.00 311.43H589.94M587.47 311.43V313.20"/></g>
<g fill="none" stroke="#000" stroke-width="0.78" opacity="1"><circle cx="591.38" cy="309.98" r="1.04"/><path d="M590.05 308.42H592.76M593.75 308.0V311.22M592.52 309.56H593.75"/><circle cx="592.27" cy="312.37" r="0.78"/></g>
<g fill="none" stroke="#000" stroke-width="0.78" opacity="1"><circle cx="597.58" cy="309.98" r="1.04"/><path d="M596.25 308.42H598.96M599.95 308.0V311.22M598.72 309.56H599.95"/><circle cx="598.47" cy="312.37" r="0.78"/></g>
<g fill="none" stroke="#000" stroke-width="0.78" opacity="1"><circle cx="610.78" cy="309.98" r="1.04"/><path d="M609.45 308.42H612.16M613.15 308.0V311.22M611.92 309.56H613.15"/><circle cx="611.67" cy="312.37" r="0.78"/></g>
<g fill="none" stroke="#000" stroke-width="0.78" opacity="1"><path d="M614.40 308.42H616.72V310.60H614.40ZM617.95 308.0V313.20M617.95 310.34H618.94M614.74 311.64V312.94H617.21"/></g>
<g fill="none" stroke="#000" stroke-width="0.78" opacity="1"><path d="M620.69 308.52H624.65M622.67 308.52L620.94 310.60M622.67 308.78L624.55 310.60M620.20 311.43H625.14M622.67 311.43V313.20"/></g>
<g fill="none" stroke="#000" stroke-width="0.78" opacity="1"><circle cx="626.58" cy="309.98" r="1.04"/><path d="M625.25 308.42H627.96M628.95 308.0V311.22M627.72 309.56H628.95"/><circle cx="627.47" cy="312.37" r="0.78"/></g>
<g fill="none" stroke="#000" stroke-width="0.78" opacity="1"><path d="M637.00 308.42H639.32V310.60H637.00ZM640.55 308.0V313.20M640.55 310.34H641.54M637.34 311.64V312.94H639.81"/></g>
<g fill="none" stroke="#000" stroke-width="0.78" opacity="1"><path d="M641.89 308.52H645.85M643.87 308.52L642.14 310.60M643.87 308.78L645.75 310.60M641.40 311.43H646.34M643.87 311.43V313.20"/></g>
<g fill="none" stroke="#000" stroke-width="0.78" opacity="1"><circle cx="649.18" cy="309.98" r="1.04"/><path d="M647.85 308.42H650.56M651.55 308.0V311.22M650.32 309.56H651.55"/><circle cx="650.07" cy="312.37" r="0.78"/></g>
<g fill="none" stroke="#000" stroke-width="0.78" opacity="1"><path d="M652.80 308.42H655.12V310.60H652.80ZM656.35 308.0V313.20M656.35 310.34H657.34M653.14 311.64V312.94H655.61"/></g>
<g fill="none" stroke="#000" stroke-width="0.78" opacity="1"><path d="M667.40 308.42H669.72V310.60H667.40ZM670.95 308.0V313.20M670.95 310.34H671.94M667.74 311.64V312.94H670.21"/></g>
<g fill="none" stroke="#000" stroke-width="0.78" opacity="1"><path d="M672.29 308.52H676.25M674.27 308.52L672.54 310.60M674.27 308.78L676.15 310.60M671.80 311.43H676.74M674.27 311.43V313.20"/></g>
<g fill="none" stroke="#000" stroke-width="0.78" opacity="1"><circle cx="678.18" cy="309.98" r="1.04"/><path d="M676.85 308.42H679.56M680.55 308.0V311.22M679.32 309.56H680.55"/><circle cx="679.07" cy="312.37" r="0.78"/></g>
<text x="482.40" y="319.60" font-size="6.0" fill="#222" font-family="Liberation Mono, monospace" textLength="2.80" lengthAdjust="spacingAndGlyphs" stroke="#222" stroke-width="0.1">1</text>
<text x="499.00" y="319.60" font-size="6.0" fill="#3a3a3a" font-family="Liberation Mono, monospace" textLength="9.00" lengthAdjust="spacingAndGlyphs" stroke="#3a3a3a" stroke-width="0.12">AD_1</text>
<text x="526.60" y="319.60" font-size="6.0" fill="#3a3a3a" font-family="Liberation Mono, monospace" textLength="20.40" lengthAdjust="spacingAndGlyphs" stroke="#3a3a3a" stroke-width="0.12">ARRAY[16]</text>
<text x="553.00" y="319.60" font-size="6.0" fill="#222" font-family="Liberation Mono, monospace" textLength="2.40" lengthAdjust="spacingAndGlyphs" stroke="#222" stroke-width="0.22">&lt;</text>
<g fill="none" stroke="#222" stroke-width="0.66" opacity="1"><circle cx="557.14" cy="317.07" r="0.88"/><path d="M556.01 315.75H558.31M559.14 315.40000000000003V318.13M558.10 316.72H559.14"/><circle cx="557.89" cy="319.10" r="0.66"/></g>
<g fill="none" stroke="#222" stroke-width="0.66" opacity="1"><path d="M560.33 315.75H562.30V317.60H560.33ZM563.34 315.40000000000003V319.80M563.34 317.38H564.18M560.63 318.48V319.58H562.72"/></g>
<text x="564.40" y="319.60" font-size="6.0" fill="#222" font-family="Liberation Mono, monospace" textLength="2.40" lengthAdjust="spacingAndGlyphs" stroke="#222" stroke-width="0.22">&gt;</text>
<text x="608.00" y="319.60" font-size="6.0" fill="#3a3a3a" font-family="Liberation Mono, monospace" textLength="7.40" lengthAdjust="spacingAndGlyphs" stroke="#3a3a3a" stroke-width="0.12">VAR</text>
<text x="636.00" y="320.20" font-size="6.0" fill="#222" font-family="Liberation Mono, monospace" textLength="2.20" lengthAdjust="spacingAndGlyphs" stroke="#222" stroke-width="0.22">*</text>
<text x="482.40" y="325.80" font-size="6.0" fill="#222" font-family="Liberation Mono, monospace" textLength="2.80" lengthAdjust="spacingAndGlyphs" stroke="#222" stroke-width="0.1">2</text>
<text x="499.00" y="325.80" font-size="6.0" fill="#3a3a3a" font-family="Liberation Mono, monospace" textLength="14.60" lengthAdjust="spacingAndGlyphs" stroke="#3a3a3a" stroke-width="0.12">AD_1_A</text>
<text x="526.60" y="325.80" font-size="6.0" fill="#3a3a3a" font-family="Liberation Mono, monospace" textLength="20.40" lengthAdjust="spacingAndGlyphs" stroke="#3a3a3a" stroke-width="0.12">ARRAY[16]</text>
<text x="553.00" y="325.80" font-size="6.0" fill="#222" font-family="Liberation Mono, monospace" textLength="2.40" lengthAdjust="spacingAndGlyphs" stroke="#222" stroke-width="0.22">&lt;</text>
<g fill="none" stroke="#222" stroke-width="0.66" opacity="1"><circle cx="557.14" cy="323.27" r="0.88"/><path d="M556.01 321.95H558.31M559.14 321.6V324.33M558.10 322.92H559.14"/><circle cx="557.89" cy="325.30" r="0.66"/></g>
<g fill="none" stroke="#222" stroke-width="0.66" opacity="1"><path d="M560.33 321.95H562.30V323.80H560.33ZM563.34 321.6V326.00M563.34 323.58H564.18M560.63 324.68V325.78H562.72"/></g>
<text x="564.40" y="325.80" font-size="6.0" fill="#222" font-family="Liberation Mono, monospace" textLength="2.40" lengthAdjust="spacingAndGlyphs" stroke="#222" stroke-width="0.22">&gt;</text>
<text x="608.00" y="325.80" font-size="6.0" fill="#3a3a3a" font-family="Liberation Mono, monospace" textLength="7.40" lengthAdjust="spacingAndGlyphs" stroke="#3a3a3a" stroke-width="0.12">VAR</text>
<text x="636.00" y="326.40" font-size="6.0" fill="#222" font-family="Liberation Mono, monospace" textLength="2.20" lengthAdjust="spacingAndGlyphs" stroke="#222" stroke-width="0.22">*</text>
<g fill="none" stroke="#222" stroke-width="0.69" opacity="1"><circle cx="581.80" cy="316.95" r="0.92"/><path d="M580.62 315.57H583.02M583.90 315.2V318.05M582.80 316.58H583.90"/><circle cx="582.58" cy="319.06" r="0.69"/></g>
<g fill="none" stroke="#222" stroke-width="0.69" opacity="1"><path d="M585.35 315.57H587.40V317.50H585.35ZM588.50 315.2V319.80M588.50 317.27H589.37M585.66 318.42V319.57H587.84"/></g>
<rect x="817.40" y="306.40" width="6.60" height="22.40" fill="#f1f1f1" />
<path d="M819.2 311.2l1.5-2l1.5 2z" fill="#555" />
<path d="M819.2 322.6l1.5 2l1.5-2z" fill="#555" />
<rect x="481.60" y="328.80" width="335.80" height="203.80" fill="#c0c0c0" />
<line x1="481.60" y1="329.20" x2="817.40" y2="329.20" stroke="#6e6e6e" stroke-width="1" />
<line x1="482.00" y1="328.80" x2="482.00" y2="532.60" stroke="#8c8c8c" stroke-width="0.8" />
<rect x="817.40" y="328.80" width="6.60" height="203.80" fill="#f1f1f1" />
<path d="M819.2 334.6l1.5-2l1.5 2z" fill="#555" />
<path d="M819.2 527.0l1.5 2l1.5-2z" fill="#555" />
<rect x="818.00" y="361.80" width="5.80" height="8.60" fill="#e4e4e4" stroke="#a8a8a8" stroke-width="0.6" rx="1" />
<rect x="481.60" y="532.60" width="342.40" height="7.90" fill="#f1f1f1" />
<path d="M485.0 535.0l-2 1.5l2 1.5z" fill="#555" />
<path d="M813.4 535.0l2 1.5l-2 1.5z" fill="#555" />
<rect x="487.40" y="533.60" width="5.80" height="6.00" fill="#e2e2e2" stroke="#a5a5a5" stroke-width="0.6" rx="1" />
<rect x="817.40" y="532.60" width="6.60" height="7.90" fill="#e9e9e9" />
<g fill="none" stroke="#000" stroke-width="0.84" opacity="1"><circle cx="489.10" cy="339.93" r="1.12"/><path d="M487.67 338.25H490.59M491.66 337.8V341.27M490.33 339.48H491.66"/><circle cx="490.06" cy="342.50" r="0.84"/></g>
<text x="494.80" y="342.68" font-size="6.2" fill="#2e2e2e" font-family="Liberation Mono, monospace" textLength="5.60" lengthAdjust="spacingAndGlyphs" stroke="#2e2e2e" stroke-width="0.2">15</text>
<g fill="none" stroke="#000" stroke-width="0.78" opacity="1"><path d="M486.40 352.28H488.72V354.46H486.40ZM489.95 351.86V357.06M489.95 354.20H490.94M486.74 355.50V356.80H489.21"/></g>
<g fill="none" stroke="#000" stroke-width="0.78" opacity="1"><path d="M490.99 352.38H494.95M492.97 352.38L491.24 354.46M492.97 352.64L494.85 354.46M490.50 355.29H495.44M492.97 355.29V357.06"/></g>
<g fill="none" stroke="#000" stroke-width="0.78" opacity="1"><circle cx="496.58" cy="353.84" r="1.04"/><path d="M495.25 352.28H497.96M498.95 351.86V355.08M497.72 353.42H498.95"/><circle cx="497.47" cy="356.23" r="0.78"/></g>
<g fill="none" stroke="#000" stroke-width="0.84" opacity="1"><circle cx="489.10" cy="368.05" r="1.12"/><path d="M487.67 366.37H490.59M491.66 365.92V369.39M490.33 367.60H491.66"/><circle cx="490.06" cy="370.62" r="0.84"/></g>
<text x="494.80" y="370.80" font-size="6.2" fill="#2e2e2e" font-family="Liberation Mono, monospace" textLength="5.60" lengthAdjust="spacingAndGlyphs" stroke="#2e2e2e" stroke-width="0.2">17</text>
<g fill="none" stroke="#000" stroke-width="0.84" opacity="1"><circle cx="489.10" cy="382.11" r="1.12"/><path d="M487.67 380.43H490.59M491.66 379.98V383.45M490.33 381.66H491.66"/><circle cx="490.06" cy="384.68" r="0.84"/></g>
<text x="494.80" y="384.86" font-size="6.2" fill="#2e2e2e" font-family="Liberation Mono, monospace" textLength="5.60" lengthAdjust="spacingAndGlyphs" stroke="#2e2e2e" stroke-width="0.2">18</text>
<g fill="none" stroke="#000" stroke-width="0.84" opacity="1"><circle cx="489.10" cy="396.17" r="1.12"/><path d="M487.67 394.49H490.59M491.66 394.04V397.51M490.33 395.72H491.66"/><circle cx="490.06" cy="398.74" r="0.84"/></g>
<text x="494.80" y="398.92" font-size="6.2" fill="#2e2e2e" font-family="Liberation Mono, monospace" textLength="5.60" lengthAdjust="spacingAndGlyphs" stroke="#2e2e2e" stroke-width="0.2">19</text>
<g fill="none" stroke="#000" stroke-width="0.84" opacity="1"><circle cx="489.10" cy="410.23" r="1.12"/><path d="M487.67 408.55H490.59M491.66 408.1V411.57M490.33 409.78H491.66"/><circle cx="490.06" cy="412.80" r="0.84"/></g>
<text x="494.80" y="412.98" font-size="6.2" fill="#2e2e2e" font-family="Liberation Mono, monospace" textLength="5.60" lengthAdjust="spacingAndGlyphs" stroke="#2e2e2e" stroke-width="0.2">20</text>
<g fill="none" stroke="#000" stroke-width="0.84" opacity="1"><circle cx="489.10" cy="424.29" r="1.12"/><path d="M487.67 422.61H490.59M491.66 422.16V425.63M490.33 423.84H491.66"/><circle cx="490.06" cy="426.86" r="0.84"/></g>
<text x="494.80" y="427.04" font-size="6.2" fill="#2e2e2e" font-family="Liberation Mono, monospace" textLength="5.60" lengthAdjust="spacingAndGlyphs" stroke="#2e2e2e" stroke-width="0.2">21</text>
<g fill="none" stroke="#000" stroke-width="0.84" opacity="1"><circle cx="489.10" cy="438.35" r="1.12"/><path d="M487.67 436.67H490.59M491.66 436.22V439.69M490.33 437.90H491.66"/><circle cx="490.06" cy="440.92" r="0.84"/></g>
<text x="494.80" y="441.10" font-size="6.2" fill="#2e2e2e" font-family="Liberation Mono, monospace" textLength="5.60" lengthAdjust="spacingAndGlyphs" stroke="#2e2e2e" stroke-width="0.2">22</text>
<g fill="none" stroke="#000" stroke-width="0.84" opacity="1"><circle cx="489.10" cy="452.41" r="1.12"/><path d="M487.67 450.73H490.59M491.66 450.28000000000003V453.75M490.33 451.96H491.66"/><circle cx="490.06" cy="454.98" r="0.84"/></g>
<text x="494.80" y="455.16" font-size="6.2" fill="#2e2e2e" font-family="Liberation Mono, monospace" textLength="5.60" lengthAdjust="spacingAndGlyphs" stroke="#2e2e2e" stroke-width="0.2">23</text>
<g fill="none" stroke="#000" stroke-width="0.84" opacity="1"><circle cx="489.10" cy="466.47" r="1.12"/><path d="M487.67 464.79H490.59M491.66 464.34000000000003V467.81M490.33 466.02H491.66"/><circle cx="490.06" cy="469.04" r="0.84"/></g>
<text x="494.80" y="469.22" font-size="6.2" fill="#2e2e2e" font-family="Liberation Mono, monospace" textLength="5.60" lengthAdjust="spacingAndGlyphs" stroke="#2e2e2e" stroke-width="0.2">24</text>
<g fill="none" stroke="#000" stroke-width="0.84" opacity="1"><circle cx="489.10" cy="480.53" r="1.12"/><path d="M487.67 478.85H490.59M491.66 478.40000000000003V481.87M490.33 480.08H491.66"/><circle cx="490.06" cy="483.10" r="0.84"/></g>
<text x="494.80" y="483.28" font-size="6.2" fill="#2e2e2e" font-family="Liberation Mono, monospace" textLength="5.60" lengthAdjust="spacingAndGlyphs" stroke="#2e2e2e" stroke-width="0.2">25</text>
<g fill="none" stroke="#000" stroke-width="0.84" opacity="1"><circle cx="489.10" cy="494.59" r="1.12"/><path d="M487.67 492.91H490.59M491.66 492.46V495.93M490.33 494.14H491.66"/><circle cx="490.06" cy="497.16" r="0.84"/></g>
<text x="494.80" y="497.34" font-size="6.2" fill="#2e2e2e" font-family="Liberation Mono, monospace" textLength="5.60" lengthAdjust="spacingAndGlyphs" stroke="#2e2e2e" stroke-width="0.2">26</text>
<g fill="none" stroke="#000" stroke-width="0.84" opacity="1"><circle cx="489.10" cy="508.65" r="1.12"/><path d="M487.67 506.97H490.59M491.66 506.52000000000004V509.99M490.33 508.20H491.66"/><circle cx="490.06" cy="511.22" r="0.84"/></g>
<text x="494.80" y="511.40" font-size="6.2" fill="#2e2e2e" font-family="Liberation Mono, monospace" textLength="5.60" lengthAdjust="spacingAndGlyphs" stroke="#2e2e2e" stroke-width="0.2">27</text>
<g fill="none" stroke="#000" stroke-width="0.84" opacity="1"><circle cx="489.10" cy="522.71" r="1.12"/><path d="M487.67 521.03H490.59M491.66 520.5799999999999V524.05M490.33 522.26H491.66"/><circle cx="490.06" cy="525.28" r="0.84"/></g>
<text x="494.80" y="525.46" font-size="6.2" fill="#2e2e2e" font-family="Liberation Mono, monospace" textLength="5.60" lengthAdjust="spacingAndGlyphs" stroke="#2e2e2e" stroke-width="0.2">28</text>
<line x1="505.60" y1="329.60" x2="505.60" y2="532.60" stroke="#f4f4f4" stroke-width="0.9" />
<line x1="506.65" y1="329.60" x2="506.65" y2="532.60" stroke="#626262" stroke-width="1.2" />
<line x1="807.60" y1="329.60" x2="807.60" y2="532.60" stroke="#7d7d7d" stroke-width="1.3" />
<line x1="806.70" y1="329.60" x2="806.70" y2="532.60" stroke="#d8d8d8" stroke-width="0.6" />
<line x1="805.20" y1="341.60" x2="807.60" y2="341.60" stroke="#8a8a8a" stroke-width="0.7" />
<line x1="805.20" y1="355.66" x2="807.60" y2="355.66" stroke="#8a8a8a" stroke-width="0.7" />
<line x1="805.20" y1="369.72" x2="807.60" y2="369.72" stroke="#8a8a8a" stroke-width="0.7" />
<line x1="805.20" y1="383.78" x2="807.60" y2="383.78" stroke="#8a8a8a" stroke-width="0.7" />
<line x1="805.20" y1="397.84" x2="807.60" y2="397.84" stroke="#8a8a8a" stroke-width="0.7" />
<line x1="805.20" y1="411.90" x2="807.60" y2="411.90" stroke="#8a8a8a" stroke-width="0.7" />
<line x1="805.20" y1="425.96" x2="807.60" y2="425.96" stroke="#8a8a8a" stroke-width="0.7" />
<line x1="805.20" y1="440.02" x2="807.60" y2="440.02" stroke="#8a8a8a" stroke-width="0.7" />
<line x1="805.20" y1="454.08" x2="807.60" y2="454.08" stroke="#8a8a8a" stroke-width="0.7" />
<line x1="805.20" y1="468.14" x2="807.60" y2="468.14" stroke="#8a8a8a" stroke-width="0.7" />
<line x1="805.20" y1="482.20" x2="807.60" y2="482.20" stroke="#8a8a8a" stroke-width="0.7" />
<line x1="805.20" y1="496.26" x2="807.60" y2="496.26" stroke="#8a8a8a" stroke-width="0.7" />
<line x1="805.20" y1="510.32" x2="807.60" y2="510.32" stroke="#8a8a8a" stroke-width="0.7" />
<line x1="805.20" y1="524.38" x2="807.60" y2="524.38" stroke="#8a8a8a" stroke-width="0.7" />
<rect x="551.30" y="329.40" width="22.80" height="11.00" fill="#c0c0c0" />
<line x1="551.30" y1="329.40" x2="551.30" y2="340.40" stroke="#f6f6f6" stroke-width="1.1" />
<line x1="574.10" y1="329.40" x2="574.10" y2="340.40" stroke="#7b7b7b" stroke-width="1.1" />
<line x1="551.30" y1="340.40" x2="574.60" y2="340.40" stroke="#7b7b7b" stroke-width="1.1" />
<g fill="none" stroke="#1c1cd8" stroke-width="0.72" opacity="1"><circle cx="508.66" cy="353.88" r="0.96"/><path d="M507.43 352.44H509.94M510.85 352.06V355.04M509.71 353.50H510.85"/><circle cx="509.48" cy="356.09" r="0.72"/></g>
<g fill="none" stroke="#1c1cd8" stroke-width="0.72" opacity="1"><path d="M511.86 352.44H514.01V354.46H511.86ZM515.15 352.06V356.86M515.15 354.22H516.06M512.18 355.42V356.62H514.46"/></g>
<g fill="none" stroke="#1c1cd8" stroke-width="0.72" opacity="1"><path d="M516.26 352.54H519.90M518.08 352.54L516.48 354.46M518.08 352.78L519.81 354.46M515.80 355.23H520.36M518.08 355.23V356.86"/></g>
<g fill="none" stroke="#1c1cd8" stroke-width="0.72" opacity="1"><circle cx="521.56" cy="353.88" r="0.96"/><path d="M520.33 352.44H522.84M523.75 352.06V355.04M522.61 353.50H523.75"/><circle cx="522.38" cy="356.09" r="0.72"/></g>
<text x="525.60" y="356.86" font-size="6.4" fill="#1c1cd8" font-family="Liberation Mono, monospace" textLength="17.60" lengthAdjust="spacingAndGlyphs" stroke="#1c1cd8" stroke-width="0.22">AD_DATA</text>
<g fill="none" stroke="#1c1cd8" stroke-width="0.72" opacity="1"><path d="M545.36 352.44H547.51V354.46H545.36ZM548.65 352.06V356.86M548.65 354.22H549.56M545.68 355.42V356.62H547.96"/></g>
<g fill="none" stroke="#1c1cd8" stroke-width="0.72" opacity="1"><path d="M549.76 352.54H553.40M551.58 352.54L549.98 354.46M551.58 352.78L553.31 354.46M549.30 355.23H553.86M551.58 355.23V356.86"/></g>
<text x="555.60" y="356.86" font-size="6.4" fill="#1c1cd8" font-family="Liberation Mono, monospace" textLength="11.60" lengthAdjust="spacingAndGlyphs" stroke="#1c1cd8" stroke-width="0.22">MOVE</text>
<line x1="506.20" y1="368.67" x2="760.90" y2="368.67" stroke="#f4f4f4" stroke-width="0.9" />
<line x1="506.20" y1="369.72" x2="760.90" y2="369.72" stroke="#626262" stroke-width="1.2" />
<line x1="505.60" y1="369.22" x2="505.60" y2="369.22" stroke="#f4f4f4" stroke-width="0.9" />
<line x1="506.65" y1="369.22" x2="506.65" y2="369.22" stroke="#626262" stroke-width="1.2" />
<rect x="528.90" y="360.12" width="21.90" height="35.80" fill="#c0c0c0" />
<line x1="528.90" y1="360.12" x2="528.90" y2="395.92" stroke="#f6f6f6" stroke-width="1.1" />
<line x1="528.90" y1="360.12" x2="534.40" y2="360.12" stroke="#f6f6f6" stroke-width="1.1" />
<line x1="545.40" y1="360.12" x2="550.80" y2="360.12" stroke="#f6f6f6" stroke-width="1.1" />
<line x1="550.80" y1="360.12" x2="550.80" y2="395.92" stroke="#6e6e6e" stroke-width="1.3" />
<line x1="528.90" y1="395.92" x2="551.40" y2="395.92" stroke="#6e6e6e" stroke-width="1.3" />
<line x1="549.80" y1="360.72" x2="549.80" y2="395.12" stroke="#e4e4e4" stroke-width="0.6" />
<line x1="529.70" y1="394.92" x2="550.00" y2="394.92" stroke="#e0e0e0" stroke-width="0.5" />
<text x="534.90" y="364.72" font-size="5.8" fill="#1a1a1a" font-family="Liberation Mono, monospace" textLength="10.20" lengthAdjust="spacingAndGlyphs" stroke="#1a1a1a" stroke-width="0.2">MOVE</text>
<text x="530.70" y="370.92" font-size="5.8" fill="#1a1a1a" font-family="Liberation Mono, monospace" textLength="4.40" lengthAdjust="spacingAndGlyphs" stroke="#1a1a1a" stroke-width="0.2">EN</text>
<text x="542.50" y="370.92" font-size="5.8" fill="#1a1a1a" font-family="Liberation Mono, monospace" textLength="7.20" lengthAdjust="spacingAndGlyphs" stroke="#1a1a1a" stroke-width="0.2">ENO</text>
<text x="530.50" y="384.38" font-size="5.8" fill="#1a1a1a" font-family="Liberation Mono, monospace" textLength="7.20" lengthAdjust="spacingAndGlyphs" stroke="#1a1a1a" stroke-width="0.2">.IN1</text>
<text x="542.90" y="384.38" font-size="5.8" fill="#1a1a1a" font-family="Liberation Mono, monospace" textLength="6.80" lengthAdjust="spacingAndGlyphs" stroke="#1a1a1a" stroke-width="0.2">OUT</text>
<line x1="550.80" y1="384.38" x2="553.00" y2="384.38" stroke="#7b7b7b" stroke-width="0.8" />
<line x1="551.20" y1="369.92" x2="552.80" y2="369.92" stroke="#7b7b7b" stroke-width="0.8" />
<text x="507.70" y="384.78" font-size="5.8" fill="#1a1a1a" font-family="Liberation Mono, monospace" textLength="20.20" lengthAdjust="spacingAndGlyphs" stroke="#1a1a1a" stroke-width="0.2">AD_1_A[0]</text>
<text x="554.20" y="379.98" font-size="5.8" fill="#1a1a1a" font-family="Liberation Mono, monospace" textLength="19.20" lengthAdjust="spacingAndGlyphs" stroke="#1a1a1a" stroke-width="0.2">MBT_201A,</text>
<text x="563.80" y="384.98" font-size="5.8" fill="#1a1a1a" font-family="Liberation Mono, monospace" textLength="2.60" lengthAdjust="spacingAndGlyphs" stroke="#1a1a1a" stroke-width="0.2">1</text>
<rect x="598.90" y="360.12" width="21.90" height="35.80" fill="#c0c0c0" />
<line x1="598.90" y1="360.12" x2="598.90" y2="395.92" stroke="#f6f6f6" stroke-width="1.1" />
<line x1="598.90" y1="360.12" x2="604.40" y2="360.12" stroke="#f6f6f6" stroke-width="1.1" />
<line x1="615.40" y1="360.12" x2="620.80" y2="360.12" stroke="#f6f6f6" stroke-width="1.1" />
<line x1="620.80" y1="360.12" x2="620.80" y2="395.92" stroke="#6e6e6e" stroke-width="1.3" />
<line x1="598.90" y1="395.92" x2="621.40" y2="395.92" stroke="#6e6e6e" stroke-width="1.3" />
<line x1="619.80" y1="360.72" x2="619.80" y2="395.12" stroke="#e4e4e4" stroke-width="0.6" />
<line x1="599.70" y1="394.92" x2="620.00" y2="394.92" stroke="#e0e0e0" stroke-width="0.5" />
<text x="604.90" y="364.72" font-size="5.8" fill="#1a1a1a" font-family="Liberation Mono, monospace" textLength="10.20" lengthAdjust="spacingAndGlyphs" stroke="#1a1a1a" stroke-width="0.2">MOVE</text>
<text x="600.70" y="370.92" font-size="5.8" fill="#1a1a1a" font-family="Liberation Mono, monospace" textLength="4.40" lengthAdjust="spacingAndGlyphs" stroke="#1a1a1a" stroke-width="0.2">EN</text>
<text x="612.50" y="370.92" font-size="5.8" fill="#1a1a1a" font-family="Liberation Mono, monospace" textLength="7.20" lengthAdjust="spacingAndGlyphs" stroke="#1a1a1a" stroke-width="0.2">ENO</text>
<text x="600.50" y="384.38" font-size="5.8" fill="#1a1a1a" font-family="Liberation Mono, monospace" textLength="7.20" lengthAdjust="spacingAndGlyphs" stroke="#1a1a1a" stroke-width="0.2">.IN1</text>
<text x="612.90" y="384.38" font-size="5.8" fill="#1a1a1a" font-family="Liberation Mono, monospace" textLength="6.80" lengthAdjust="spacingAndGlyphs" stroke="#1a1a1a" stroke-width="0.2">OUT</text>
<line x1="620.80" y1="384.38" x2="623.00" y2="384.38" stroke="#7b7b7b" stroke-width="0.8" />
<line x1="621.20" y1="369.92" x2="622.80" y2="369.92" stroke="#7b7b7b" stroke-width="0.8" />
<text x="577.70" y="384.78" font-size="5.8" fill="#1a1a1a" font-family="Liberation Mono, monospace" textLength="20.20" lengthAdjust="spacingAndGlyphs" stroke="#1a1a1a" stroke-width="0.2">AD_1_A[1]</text>
<text x="624.20" y="379.98" font-size="5.8" fill="#1a1a1a" font-family="Liberation Mono, monospace" textLength="19.20" lengthAdjust="spacingAndGlyphs" stroke="#1a1a1a" stroke-width="0.2">MBT_201A,</text>
<text x="633.80" y="384.98" font-size="5.8" fill="#1a1a1a" font-family="Liberation Mono, monospace" textLength="2.60" lengthAdjust="spacingAndGlyphs" stroke="#1a1a1a" stroke-width="0.2">2</text>
<rect x="668.90" y="360.12" width="21.90" height="35.80" fill="#c0c0c0" />
<line x1="668.90" y1="360.12" x2="668.90" y2="395.92" stroke="#f6f6f6" stroke-width="1.1" />
<line x1="668.90" y1="360.12" x2="674.40" y2="360.12" stroke="#f6f6f6" stroke-width="1.1" />
<line x1="685.40" y1="360.12" x2="690.80" y2="360.12" stroke="#f6f6f6" stroke-width="1.1" />
<line x1="690.80" y1="360.12" x2="690.80" y2="395.92" stroke="#6e6e6e" stroke-width="1.3" />
<line x1="668.90" y1="395.92" x2="691.40" y2="395.92" stroke="#6e6e6e" stroke-width="1.3" />
<line x1="689.80" y1="360.72" x2="689.80" y2="395.12" stroke="#e4e4e4" stroke-width="0.6" />
<line x1="669.70" y1="394.92" x2="690.00" y2="394.92" stroke="#e0e0e0" stroke-width="0.5" />
<text x="674.90" y="364.72" font-size="5.8" fill="#1a1a1a" font-family="Liberation Mono, monospace" textLength="10.20" lengthAdjust="spacingAndGlyphs" stroke="#1a1a1a" stroke-width="0.2">MOVE</text>
<text x="670.70" y="370.92" font-size="5.8" fill="#1a1a1a" font-family="Liberation Mono, monospace" textLength="4.40" lengthAdjust="spacingAndGlyphs" stroke="#1a1a1a" stroke-width="0.2">EN</text>
<text x="682.50" y="370.92" font-size="5.8" fill="#1a1a1a" font-family="Liberation Mono, monospace" textLength="7.20" lengthAdjust="spacingAndGlyphs" stroke="#1a1a1a" stroke-width="0.2">ENO</text>
<text x="670.50" y="384.38" font-size="5.8" fill="#1a1a1a" font-family="Liberation Mono, monospace" textLength="7.20" lengthAdjust="spacingAndGlyphs" stroke="#1a1a1a" stroke-width="0.2">.IN1</text>
<text x="682.90" y="384.38" font-size="5.8" fill="#1a1a1a" font-family="Liberation Mono, monospace" textLength="6.80" lengthAdjust="spacingAndGlyphs" stroke="#1a1a1a" stroke-width="0.2">OUT</text>
<line x1="690.80" y1="384.38" x2="693.00" y2="384.38" stroke="#7b7b7b" stroke-width="0.8" />
<line x1="691.20" y1="369.92" x2="692.80" y2="369.92" stroke="#7b7b7b" stroke-width="0.8" />
<text x="647.70" y="384.78" font-size="5.8" fill="#1a1a1a" font-family="Liberation Mono, monospace" textLength="20.20" lengthAdjust="spacingAndGlyphs" stroke="#1a1a1a" stroke-width="0.2">AD_1_A[2]</text>
<text x="694.20" y="379.98" font-size="5.8" fill="#1a1a1a" font-family="Liberation Mono, monospace" textLength="19.20" lengthAdjust="spacingAndGlyphs" stroke="#1a1a1a" stroke-width="0.2">MBT_201A,</text>
<text x="703.80" y="384.98" font-size="5.8" fill="#1a1a1a" font-family="Liberation Mono, monospace" textLength="2.60" lengthAdjust="spacingAndGlyphs" stroke="#1a1a1a" stroke-width="0.2">1</text>
<rect x="738.90" y="360.12" width="21.90" height="35.80" fill="#c0c0c0" />
<line x1="738.90" y1="360.12" x2="738.90" y2="395.92" stroke="#f6f6f6" stroke-width="1.1" />
<line x1="738.90" y1="360.12" x2="744.40" y2="360.12" stroke="#f6f6f6" stroke-width="1.1" />
<line x1="755.40" y1="360.12" x2="760.80" y2="360.12" stroke="#f6f6f6" stroke-width="1.1" />
<line x1="760.80" y1="360.12" x2="760.80" y2="395.92" stroke="#6e6e6e" stroke-width="1.3" />
<line x1="738.90" y1="395.92" x2="761.40" y2="395.92" stroke="#6e6e6e" stroke-width="1.3" />
<line x1="759.80" y1="360.72" x2="759.80" y2="395.12" stroke="#e4e4e4" stroke-width="0.6" />
<line x1="739.70" y1="394.92" x2="760.00" y2="394.92" stroke="#e0e0e0" stroke-width="0.5" />
<text x="744.90" y="364.72" font-size="5.8" fill="#1a1a1a" font-family="Liberation Mono, monospace" textLength="10.20" lengthAdjust="spacingAndGlyphs" stroke="#1a1a1a" stroke-width="0.2">MOVE</text>
<text x="740.70" y="370.92" font-size="5.8" fill="#1a1a1a" font-family="Liberation Mono, monospace" textLength="4.40" lengthAdjust="spacingAndGlyphs" stroke="#1a1a1a" stroke-width="0.2">EN</text>
<text x="752.50" y="370.92" font-size="5.8" fill="#1a1a1a" font-family="Liberation Mono, monospace" textLength="7.20" lengthAdjust="spacingAndGlyphs" stroke="#1a1a1a" stroke-width="0.2">ENO</text>
<text x="740.50" y="384.38" font-size="5.8" fill="#1a1a1a" font-family="Liberation Mono, monospace" textLength="7.20" lengthAdjust="spacingAndGlyphs" stroke="#1a1a1a" stroke-width="0.2">.IN1</text>
<text x="752.90" y="384.38" font-size="5.8" fill="#1a1a1a" font-family="Liberation Mono, monospace" textLength="6.80" lengthAdjust="spacingAndGlyphs" stroke="#1a1a1a" stroke-width="0.2">OUT</text>
<line x1="760.80" y1="384.38" x2="763.00" y2="384.38" stroke="#7b7b7b" stroke-width="0.8" />
<line x1="761.20" y1="369.92" x2="762.80" y2="369.92" stroke="#7b7b7b" stroke-width="0.8" />
<text x="717.70" y="384.78" font-size="5.8" fill="#1a1a1a" font-family="Liberation Mono, monospace" textLength="20.20" lengthAdjust="spacingAndGlyphs" stroke="#1a1a1a" stroke-width="0.2">AD_1_A[3]</text>
<text x="764.20" y="379.98" font-size="5.8" fill="#1a1a1a" font-family="Liberation Mono, monospace" textLength="19.20" lengthAdjust="spacingAndGlyphs" stroke="#1a1a1a" stroke-width="0.2">MBT_201A,</text>
<text x="773.80" y="384.98" font-size="5.8" fill="#1a1a1a" font-family="Liberation Mono, monospace" textLength="2.60" lengthAdjust="spacingAndGlyphs" stroke="#1a1a1a" stroke-width="0.2">2</text>
<line x1="506.20" y1="410.85" x2="760.90" y2="410.85" stroke="#f4f4f4" stroke-width="0.9" />
<line x1="506.20" y1="411.90" x2="760.90" y2="411.90" stroke="#626262" stroke-width="1.2" />
<line x1="505.60" y1="411.40" x2="505.60" y2="411.40" stroke="#f4f4f4" stroke-width="0.9" />
<line x1="506.65" y1="411.40" x2="506.65" y2="411.40" stroke="#626262" stroke-width="1.2" />
<rect x="528.90" y="402.30" width="21.90" height="35.80" fill="#c0c0c0" />
<line x1="528.90" y1="402.30" x2="528.90" y2="438.10" stroke="#f6f6f6" stroke-width="1.1" />
<line x1="528.90" y1="402.30" x2="534.40" y2="402.30" stroke="#f6f6f6" stroke-width="1.1" />
<line x1="545.40" y1="402.30" x2="550.80" y2="402.30" stroke="#f6f6f6" stroke-width="1.1" />
<line x1="550.80" y1="402.30" x2="550.80" y2="438.10" stroke="#6e6e6e" stroke-width="1.3" />
<line x1="528.90" y1="438.10" x2="551.40" y2="438.10" stroke="#6e6e6e" stroke-width="1.3" />
<line x1="549.80" y1="402.90" x2="549.80" y2="437.30" stroke="#e4e4e4" stroke-width="0.6" />
<line x1="529.70" y1="437.10" x2="550.00" y2="437.10" stroke="#e0e0e0" stroke-width="0.5" />
<text x="534.90" y="406.90" font-size="5.8" fill="#1a1a1a" font-family="Liberation Mono, monospace" textLength="10.20" lengthAdjust="spacingAndGlyphs" stroke="#1a1a1a" stroke-width="0.2">MOVE</text>
<text x="530.70" y="413.10" font-size="5.8" fill="#1a1a1a" font-family="Liberation Mono, monospace" textLength="4.40" lengthAdjust="spacingAndGlyphs" stroke="#1a1a1a" stroke-width="0.2">EN</text>
<text x="542.50" y="413.10" font-size="5.8" fill="#1a1a1a" font-family="Liberation Mono, monospace" textLength="7.20" lengthAdjust="spacingAndGlyphs" stroke="#1a1a1a" stroke-width="0.2">ENO</text>
<text x="530.50" y="426.56" font-size="5.8" fill="#1a1a1a" font-family="Liberation Mono, monospace" textLength="7.20" lengthAdjust="spacingAndGlyphs" stroke="#1a1a1a" stroke-width="0.2">.IN1</text>
<text x="542.90" y="426.56" font-size="5.8" fill="#1a1a1a" font-family="Liberation Mono, monospace" textLength="6.80" lengthAdjust="spacingAndGlyphs" stroke="#1a1a1a" stroke-width="0.2">OUT</text>
<line x1="550.80" y1="426.56" x2="553.00" y2="426.56" stroke="#7b7b7b" stroke-width="0.8" />
<line x1="551.20" y1="412.10" x2="552.80" y2="412.10" stroke="#7b7b7b" stroke-width="0.8" />
<text x="507.70" y="426.96" font-size="5.8" fill="#1a1a1a" font-family="Liberation Mono, monospace" textLength="20.20" lengthAdjust="spacingAndGlyphs" stroke="#1a1a1a" stroke-width="0.2">AD_1_A[4]</text>
<text x="554.20" y="422.16" font-size="5.8" fill="#1a1a1a" font-family="Liberation Mono, monospace" textLength="19.20" lengthAdjust="spacingAndGlyphs" stroke="#1a1a1a" stroke-width="0.2">MBT_201A,</text>
<text x="563.80" y="427.16" font-size="5.8" fill="#1a1a1a" font-family="Liberation Mono, monospace" textLength="2.60" lengthAdjust="spacingAndGlyphs" stroke="#1a1a1a" stroke-width="0.2">3</text>
<rect x="598.90" y="402.30" width="21.90" height="35.80" fill="#c0c0c0" />
<line x1="598.90" y1="402.30" x2="598.90" y2="438.10" stroke="#f6f6f6" stroke-width="1.1" />
<line x1="598.90" y1="402.30" x2="604.40" y2="402.30" stroke="#f6f6f6" stroke-width="1.1" />
<line x1="615.40" y1="402.30" x2="620.80" y2="402.30" stroke="#f6f6f6" stroke-width="1.1" />
<line x1="620.80" y1="402.30" x2="620.80" y2="438.10" stroke="#6e6e6e" stroke-width="1.3" />
<line x1="598.90" y1="438.10" x2="621.40" y2="438.10" stroke="#6e6e6e" stroke-width="1.3" />
<line x1="619.80" y1="402.90" x2="619.80" y2="437.30" stroke="#e4e4e4" stroke-width="0.6" />
<line x1="599.70" y1="437.10" x2="620.00" y2="437.10" stroke="#e0e0e0" stroke-width="0.5" />
<text x="604.90" y="406.90" font-size="5.8" fill="#1a1a1a" font-family="Liberation Mono, monospace" textLength="10.20" lengthAdjust="spacingAndGlyphs" stroke="#1a1a1a" stroke-width="0.2">MOVE</text>
<text x="600.70" y="413.10" font-size="5.8" fill="#1a1a1a" font-family="Liberation Mono, monospace" textLength="4.40" lengthAdjust="spacingAndGlyphs" stroke="#1a1a1a" stroke-width="0.2">EN</text>
<text x="612.50" y="413.10" font-size="5.8" fill="#1a1a1a" font-family="Liberation Mono, monospace" textLength="7.20" lengthAdjust="spacingAndGlyphs" stroke="#1a1a1a" stroke-width="0.2">ENO</text>
<text x="600.50" y="426.56" font-size="5.8" fill="#1a1a1a" font-family="Liberation Mono, monospace" textLength="7.20" lengthAdjust="spacingAndGlyphs" stroke="#1a1a1a" stroke-width="0.2">.IN1</text>
<text x="612.90" y="426.56" font-size="5.8" fill="#1a1a1a" font-family="Liberation Mono, monospace" textLength="6.80" lengthAdjust="spacingAndGlyphs" stroke="#1a1a1a" stroke-width="0.2">OUT</text>
<line x1="620.80" y1="426.56" x2="623.00" y2="426.56" stroke="#7b7b7b" stroke-width="0.8" />
<line x1="621.20" y1="412.10" x2="622.80" y2="412.10" stroke="#7b7b7b" stroke-width="0.8" />
<text x="577.70" y="426.96" font-size="5.8" fill="#1a1a1a" font-family="Liberation Mono, monospace" textLength="20.20" lengthAdjust="spacingAndGlyphs" stroke="#1a1a1a" stroke-width="0.2">AD_1_A[5]</text>
<text x="624.20" y="422.16" font-size="5.8" fill="#1a1a1a" font-family="Liberation Mono, monospace" textLength="19.20" lengthAdjust="spacingAndGlyphs" stroke="#1a1a1a" stroke-width="0.2">MBT_201B,</text>
<text x="633.80" y="427.16" font-size="5.8" fill="#1a1a1a" font-family="Liberation Mono, monospace" textLength="2.60" lengthAdjust="spacingAndGlyphs" stroke="#1a1a1a" stroke-width="0.2">1</text>
<rect x="668.90" y="402.30" width="21.90" height="35.80" fill="#c0c0c0" />
<line x1="668.90" y1="402.30" x2="668.90" y2="438.10" stroke="#f6f6f6" stroke-width="1.1" />
<line x1="668.90" y1="402.30" x2="674.40" y2="402.30" stroke="#f6f6f6" stroke-width="1.1" />
<line x1="685.40" y1="402.30" x2="690.80" y2="402.30" stroke="#f6f6f6" stroke-width="1.1" />
<line x1="690.80" y1="402.30" x2="690.80" y2="438.10" stroke="#6e6e6e" stroke-width="1.3" />
<line x1="668.90" y1="438.10" x2="691.40" y2="438.10" stroke="#6e6e6e" stroke-width="1.3" />
<line x1="689.80" y1="402.90" x2="689.80" y2="437.30" stroke="#e4e4e4" stroke-width="0.6" />
<line x1="669.70" y1="437.10" x2="690.00" y2="437.10" stroke="#e0e0e0" stroke-width="0.5" />
<text x="674.90" y="406.90" font-size="5.8" fill="#1a1a1a" font-family="Liberation Mono, monospace" textLength="10.20" lengthAdjust="spacingAndGlyphs" stroke="#1a1a1a" stroke-width="0.2">MOVE</text>
<text x="670.70" y="413.10" font-size="5.8" fill="#1a1a1a" font-family="Liberation Mono, monospace" textLength="4.40" lengthAdjust="spacingAndGlyphs" stroke="#1a1a1a" stroke-width="0.2">EN</text>
<text x="682.50" y="413.10" font-size="5.8" fill="#1a1a1a" font-family="Liberation Mono, monospace" textLength="7.20" lengthAdjust="spacingAndGlyphs" stroke="#1a1a1a" stroke-width="0.2">ENO</text>
<text x="670.50" y="426.56" font-size="5.8" fill="#1a1a1a" font-family="Liberation Mono, monospace" textLength="7.20" lengthAdjust="spacingAndGlyphs" stroke="#1a1a1a" stroke-width="0.2">.IN1</text>
<text x="682.90" y="426.56" font-size="5.8" fill="#1a1a1a" font-family="Liberation Mono, monospace" textLength="6.80" lengthAdjust="spacingAndGlyphs" stroke="#1a1a1a" stroke-width="0.2">OUT</text>
<line x1="690.80" y1="426.56" x2="693.00" y2="426.56" stroke="#7b7b7b" stroke-width="0.8" />
<line x1="691.20" y1="412.10" x2="692.80" y2="412.10" stroke="#7b7b7b" stroke-width="0.8" />
<text x="647.70" y="426.96" font-size="5.8" fill="#1a1a1a" font-family="Liberation Mono, monospace" textLength="20.20" lengthAdjust="spacingAndGlyphs" stroke="#1a1a1a" stroke-width="0.2">AD_1_A[6]</text>
<text x="694.20" y="422.16" font-size="5.8" fill="#1a1a1a" font-family="Liberation Mono, monospace" textLength="19.20" lengthAdjust="spacingAndGlyphs" stroke="#1a1a1a" stroke-width="0.2">MBT_201B,</text>
<text x="703.80" y="427.16" font-size="5.8" fill="#1a1a1a" font-family="Liberation Mono, monospace" textLength="2.60" lengthAdjust="spacingAndGlyphs" stroke="#1a1a1a" stroke-width="0.2">2</text>
<rect x="738.90" y="402.30" width="21.90" height="35.80" fill="#c0c0c0" />
<line x1="738.90" y1="402.30" x2="738.90" y2="438.10" stroke="#f6f6f6" stroke-width="1.1" />
<line x1="738.90" y1="402.30" x2="744.40" y2="402.30" stroke="#f6f6f6" stroke-width="1.1" />
<line x1="755.40" y1="402.30" x2="760.80" y2="402.30" stroke="#f6f6f6" stroke-width="1.1" />
<line x1="760.80" y1="402.30" x2="760.80" y2="438.10" stroke="#6e6e6e" stroke-width="1.3" />
<line x1="738.90" y1="438.10" x2="761.40" y2="438.10" stroke="#6e6e6e" stroke-width="1.3" />
<line x1="759.80" y1="402.90" x2="759.80" y2="437.30" stroke="#e4e4e4" stroke-width="0.6" />
<line x1="739.70" y1="437.10" x2="760.00" y2="437.10" stroke="#e0e0e0" stroke-width="0.5" />
<text x="744.90" y="406.90" font-size="5.8" fill="#1a1a1a" font-family="Liberation Mono, monospace" textLength="10.20" lengthAdjust="spacingAndGlyphs" stroke="#1a1a1a" stroke-width="0.2">MOVE</text>
<text x="740.70" y="413.10" font-size="5.8" fill="#1a1a1a" font-family="Liberation Mono, monospace" textLength="4.40" lengthAdjust="spacingAndGlyphs" stroke="#1a1a1a" stroke-width="0.2">EN</text>
<text x="752.50" y="413.10" font-size="5.8" fill="#1a1a1a" font-family="Liberation Mono, monospace" textLength="7.20" lengthAdjust="spacingAndGlyphs" stroke="#1a1a1a" stroke-width="0.2">ENO</text>
<text x="740.50" y="426.56" font-size="5.8" fill="#1a1a1a" font-family="Liberation Mono, monospace" textLength="7.20" lengthAdjust="spacingAndGlyphs" stroke="#1a1a1a" stroke-width="0.2">.IN1</text>
<text x="752.90" y="426.56" font-size="5.8" fill="#1a1a1a" font-family="Liberation Mono, monospace" textLength="6.80" lengthAdjust="spacingAndGlyphs" stroke="#1a1a1a" stroke-width="0.2">OUT</text>
<line x1="760.80" y1="426.56" x2="763.00" y2="426.56" stroke="#7b7b7b" stroke-width="0.8" />
<line x1="761.20" y1="412.10" x2="762.80" y2="412.10" stroke="#7b7b7b" stroke-width="0.8" />
<text x="717.70" y="426.96" font-size="5.8" fill="#1a1a1a" font-family="Liberation Mono, monospace" textLength="20.20" lengthAdjust="spacingAndGlyphs" stroke="#1a1a1a" stroke-width="0.2">AD_1_A[7]</text>
<text x="764.20" y="422.16" font-size="5.8" fill="#1a1a1a" font-family="Liberation Mono, monospace" textLength="19.20" lengthAdjust="spacingAndGlyphs" stroke="#1a1a1a" stroke-width="0.2">MBT_201B,</text>
<text x="773.80" y="427.16" font-size="5.8" fill="#1a1a1a" font-family="Liberation Mono, monospace" textLength="2.60" lengthAdjust="spacingAndGlyphs" stroke="#1a1a1a" stroke-width="0.2">1</text>
<line x1="506.20" y1="453.03" x2="760.90" y2="453.03" stroke="#f4f4f4" stroke-width="0.9" />
<line x1="506.20" y1="454.08" x2="760.90" y2="454.08" stroke="#626262" stroke-width="1.2" />
<line x1="505.60" y1="453.58" x2="505.60" y2="453.58" stroke="#f4f4f4" stroke-width="0.9" />
<line x1="506.65" y1="453.58" x2="506.65" y2="453.58" stroke="#626262" stroke-width="1.2" />
<rect x="528.90" y="444.48" width="21.90" height="35.80" fill="#c0c0c0" />
<line x1="528.90" y1="444.48" x2="528.90" y2="480.28" stroke="#f6f6f6" stroke-width="1.1" />
<line x1="528.90" y1="444.48" x2="534.40" y2="444.48" stroke="#f6f6f6" stroke-width="1.1" />
<line x1="545.40" y1="444.48" x2="550.80" y2="444.48" stroke="#f6f6f6" stroke-width="1.1" />
<line x1="550.80" y1="444.48" x2="550.80" y2="480.28" stroke="#6e6e6e" stroke-width="1.3" />
<line x1="528.90" y1="480.28" x2="551.40" y2="480.28" stroke="#6e6e6e" stroke-width="1.3" />
<line x1="549.80" y1="445.08" x2="549.80" y2="479.48" stroke="#e4e4e4" stroke-width="0.6" />
<line x1="529.70" y1="479.28" x2="550.00" y2="479.28" stroke="#e0e0e0" stroke-width="0.5" />
<text x="534.90" y="449.08" font-size="5.8" fill="#1a1a1a" font-family="Liberation Mono, monospace" textLength="10.20" lengthAdjust="spacingAndGlyphs" stroke="#1a1a1a" stroke-width="0.2">MOVE</text>
<text x="530.70" y="455.28" font-size="5.8" fill="#1a1a1a" font-family="Liberation Mono, monospace" textLength="4.40" lengthAdjust="spacingAndGlyphs" stroke="#1a1a1a" stroke-width="0.2">EN</text>
<text x="542.50" y="455.28" font-size="5.8" fill="#1a1a1a" font-family="Liberation Mono, monospace" textLength="7.20" lengthAdjust="spacingAndGlyphs" stroke="#1a1a1a" stroke-width="0.2">ENO</text>
<text x="530.50" y="468.74" font-size="5.8" fill="#1a1a1a" font-family="Liberation Mono, monospace" textLength="7.20" lengthAdjust="spacingAndGlyphs" stroke="#1a1a1a" stroke-width="0.2">.IN1</text>
<text x="542.90" y="468.74" font-size="5.8" fill="#1a1a1a" font-family="Liberation Mono, monospace" textLength="6.80" lengthAdjust="spacingAndGlyphs" stroke="#1a1a1a" stroke-width="0.2">OUT</text>
<line x1="550.80" y1="468.74" x2="553.00" y2="468.74" stroke="#7b7b7b" stroke-width="0.8" />
<line x1="551.20" y1="454.28" x2="552.80" y2="454.28" stroke="#7b7b7b" stroke-width="0.8" />
<text x="507.70" y="469.14" font-size="5.8" fill="#1a1a1a" font-family="Liberation Mono, monospace" textLength="20.20" lengthAdjust="spacingAndGlyphs" stroke="#1a1a1a" stroke-width="0.2">AD_1_A[8]</text>
<text x="554.20" y="464.34" font-size="5.8" fill="#1a1a1a" font-family="Liberation Mono, monospace" textLength="19.20" lengthAdjust="spacingAndGlyphs" stroke="#1a1a1a" stroke-width="0.2">MBT_201B,</text>
<text x="563.80" y="469.34" font-size="5.8" fill="#1a1a1a" font-family="Liberation Mono, monospace" textLength="2.60" lengthAdjust="spacingAndGlyphs" stroke="#1a1a1a" stroke-width="0.2">2</text>
<rect x="598.90" y="444.48" width="21.90" height="35.80" fill="#c0c0c0" />
<line x1="598.90" y1="444.48" x2="598.90" y2="480.28" stroke="#f6f6f6" stroke-width="1.1" />
<line x1="598.90" y1="444.48" x2="604.40" y2="444.48" stroke="#f6f6f6" stroke-width="1.1" />
<line x1="615.40" y1="444.48" x2="620.80" y2="444.48" stroke="#f6f6f6" stroke-width="1.1" />
<line x1="620.80" y1="444.48" x2="620.80" y2="480.28" stroke="#6e6e6e" stroke-width="1.3" />
<line x1="598.90" y1="480.28" x2="621.40" y2="480.28" stroke="#6e6e6e" stroke-width="1.3" />
<line x1="619.80" y1="445.08" x2="619.80" y2="479.48" stroke="#e4e4e4" stroke-width="0.6" />
<line x1="599.70" y1="479.28" x2="620.00" y2="479.28" stroke="#e0e0e0" stroke-width="0.5" />
<text x="604.90" y="449.08" font-size="5.8" fill="#1a1a1a" font-family="Liberation Mono, monospace" textLength="10.20" lengthAdjust="spacingAndGlyphs" stroke="#1a1a1a" stroke-width="0.2">MOVE</text>
<text x="600.70" y="455.28" font-size="5.8" fill="#1a1a1a" font-family="Liberation Mono, monospace" textLength="4.40" lengthAdjust="spacingAndGlyphs" stroke="#1a1a1a" stroke-width="0.2">EN</text>
<text x="612.50" y="455.28" font-size="5.8" fill="#1a1a1a" font-family="Liberation Mono, monospace" textLength="7.20" lengthAdjust="spacingAndGlyphs" stroke="#1a1a1a" stroke-width="0.2">ENO</text>
<text x="600.50" y="468.74" font-size="5.8" fill="#1a1a1a" font-family="Liberation Mono, monospace" textLength="7.20" lengthAdjust="spacingAndGlyphs" stroke="#1a1a1a" stroke-width="0.2">.IN1</text>
<text x="612.90" y="468.74" font-size="5.8" fill="#1a1a1a" font-family="Liberation Mono, monospace" textLength="6.80" lengthAdjust="spacingAndGlyphs" stroke="#1a1a1a" stroke-width="0.2">OUT</text>
<line x1="620.80" y1="468.74" x2="623.00" y2="468.74" stroke="#7b7b7b" stroke-width="0.8" />
<line x1="621.20" y1="454.28" x2="622.80" y2="454.28" stroke="#7b7b7b" stroke-width="0.8" />
<text x="577.70" y="469.14" font-size="5.8" fill="#1a1a1a" font-family="Liberation Mono, monospace" textLength="20.20" lengthAdjust="spacingAndGlyphs" stroke="#1a1a1a" stroke-width="0.2">AD_1_A[9]</text>
<text x="624.20" y="464.34" font-size="5.8" fill="#1a1a1a" font-family="Liberation Mono, monospace" textLength="19.20" lengthAdjust="spacingAndGlyphs" stroke="#1a1a1a" stroke-width="0.2">MBT_201B,</text>
<text x="633.80" y="469.34" font-size="5.8" fill="#1a1a1a" font-family="Liberation Mono, monospace" textLength="2.60" lengthAdjust="spacingAndGlyphs" stroke="#1a1a1a" stroke-width="0.2">3</text>
<rect x="668.90" y="444.48" width="21.90" height="35.80" fill="#c0c0c0" />
<line x1="668.90" y1="444.48" x2="668.90" y2="480.28" stroke="#f6f6f6" stroke-width="1.1" />
<line x1="668.90" y1="444.48" x2="674.40" y2="444.48" stroke="#f6f6f6" stroke-width="1.1" />
<line x1="685.40" y1="444.48" x2="690.80" y2="444.48" stroke="#f6f6f6" stroke-width="1.1" />
<line x1="690.80" y1="444.48" x2="690.80" y2="480.28" stroke="#6e6e6e" stroke-width="1.3" />
<line x1="668.90" y1="480.28" x2="691.40" y2="480.28" stroke="#6e6e6e" stroke-width="1.3" />
<line x1="689.80" y1="445.08" x2="689.80" y2="479.48" stroke="#e4e4e4" stroke-width="0.6" />
<line x1="669.70" y1="479.28" x2="690.00" y2="479.28" stroke="#e0e0e0" stroke-width="0.5" />
<text x="674.90" y="449.08" font-size="5.8" fill="#1a1a1a" font-family="Liberation Mono, monospace" textLength="10.20" lengthAdjust="spacingAndGlyphs" stroke="#1a1a1a" stroke-width="0.2">MOVE</text>
<text x="670.70" y="455.28" font-size="5.8" fill="#1a1a1a" font-family="Liberation Mono, monospace" textLength="4.40" lengthAdjust="spacingAndGlyphs" stroke="#1a1a1a" stroke-width="0.2">EN</text>
<text x="682.50" y="455.28" font-size="5.8" fill="#1a1a1a" font-family="Liberation Mono, monospace" textLength="7.20" lengthAdjust="spacingAndGlyphs" stroke="#1a1a1a" stroke-width="0.2">ENO</text>
<text x="670.50" y="468.74" font-size="5.8" fill="#1a1a1a" font-family="Liberation Mono, monospace" textLength="7.20" lengthAdjust="spacingAndGlyphs" stroke="#1a1a1a" stroke-width="0.2">.IN1</text>
<text x="682.90" y="468.74" font-size="5.8" fill="#1a1a1a" font-family="Liberation Mono, monospace" textLength="6.80" lengthAdjust="spacingAndGlyphs" stroke="#1a1a1a" stroke-width="0.2">OUT</text>
<line x1="690.80" y1="468.74" x2="693.00" y2="468.74" stroke="#7b7b7b" stroke-width="0.8" />
<line x1="691.20" y1="454.28" x2="692.80" y2="454.28" stroke="#7b7b7b" stroke-width="0.8" />
<text x="647.30" y="464.54" font-size="5.8" fill="#1a1a1a" font-family="Liberation Mono, monospace" textLength="20.60" lengthAdjust="spacingAndGlyphs" stroke="#1a1a1a" stroke-width="0.2">AD_1_A[10</text>
<text x="661.50" y="469.74" font-size="5.8" fill="#1a1a1a" font-family="Liberation Mono, monospace" textLength="1.40" lengthAdjust="spacingAndGlyphs" stroke="#1a1a1a" stroke-width="0.2">]</text>
<text x="694.20" y="464.34" font-size="5.8" fill="#1a1a1a" font-family="Liberation Mono, monospace" textLength="19.20" lengthAdjust="spacingAndGlyphs" stroke="#1a1a1a" stroke-width="0.2">MBT_201C,</text>
<text x="703.80" y="469.34" font-size="5.8" fill="#1a1a1a" font-family="Liberation Mono, monospace" textLength="2.60" lengthAdjust="spacingAndGlyphs" stroke="#1a1a1a" stroke-width="0.2">1</text>
<rect x="738.90" y="444.48" width="21.90" height="35.80" fill="#c0c0c0" />
<line x1="738.90" y1="444.48" x2="738.90" y2="480.28" stroke="#f6f6f6" stroke-width="1.1" />
<line x1="738.90" y1="444.48" x2="744.40" y2="444.48" stroke="#f6f6f6" stroke-width="1.1" />
<line x1="755.40" y1="444.48" x2="760.80" y2="444.48" stroke="#f6f6f6" stroke-width="1.1" />
<line x1="760.80" y1="444.48" x2="760.80" y2="480.28" stroke="#6e6e6e" stroke-width="1.3" />
<line x1="738.90" y1="480.28" x2="761.40" y2="480.28" stroke="#6e6e6e" stroke-width="1.3" />
<line x1="759.80" y1="445.08" x2="759.80" y2="479.48" stroke="#e4e4e4" stroke-width="0.6" />
<line x1="739.70" y1="479.28" x2="760.00" y2="479.28" stroke="#e0e0e0" stroke-width="0.5" />
<text x="744.90" y="449.08" font-size="5.8" fill="#1a1a1a" font-family="Liberation Mono, monospace" textLength="10.20" lengthAdjust="spacingAndGlyphs" stroke="#1a1a1a" stroke-width="0.2">MOVE</text>
<text x="740.70" y="455.28" font-size="5.8" fill="#1a1a1a" font-family="Liberation Mono, monospace" textLength="4.40" lengthAdjust="spacingAndGlyphs" stroke="#1a1a1a" stroke-width="0.2">EN</text>
<text x="752.50" y="455.28" font-size="5.8" fill="#1a1a1a" font-family="Liberation Mono, monospace" textLength="7.20" lengthAdjust="spacingAndGlyphs" stroke="#1a1a1a" stroke-width="0.2">ENO</text>
<text x="740.50" y="468.74" font-size="5.8" fill="#1a1a1a" font-family="Liberation Mono, monospace" textLength="7.20" lengthAdjust="spacingAndGlyphs" stroke="#1a1a1a" stroke-width="0.2">.IN1</text>
<text x="752.90" y="468.74" font-size="5.8" fill="#1a1a1a" font-family="Liberation Mono, monospace" textLength="6.80" lengthAdjust="spacingAndGlyphs" stroke="#1a1a1a" stroke-width="0.2">OUT</text>
<line x1="760.80" y1="468.74" x2="763.00" y2="468.74" stroke="#7b7b7b" stroke-width="0.8" />
<line x1="761.20" y1="454.28" x2="762.80" y2="454.28" stroke="#7b7b7b" stroke-width="0.8" />
<text x="717.30" y="464.54" font-size="5.8" fill="#1a1a1a" font-family="Liberation Mono, monospace" textLength="20.60" lengthAdjust="spacingAndGlyphs" stroke="#1a1a1a" stroke-width="0.2">AD_1_A[11</text>
<text x="731.50" y="469.74" font-size="5.8" fill="#1a1a1a" font-family="Liberation Mono, monospace" textLength="1.40" lengthAdjust="spacingAndGlyphs" stroke="#1a1a1a" stroke-width="0.2">]</text>
<text x="764.20" y="464.34" font-size="5.8" fill="#1a1a1a" font-family="Liberation Mono, monospace" textLength="19.20" lengthAdjust="spacingAndGlyphs" stroke="#1a1a1a" stroke-width="0.2">MBT_201C,</text>
<text x="773.80" y="469.34" font-size="5.8" fill="#1a1a1a" font-family="Liberation Mono, monospace" textLength="2.60" lengthAdjust="spacingAndGlyphs" stroke="#1a1a1a" stroke-width="0.2">2</text>
<line x1="506.20" y1="495.21" x2="690.90" y2="495.21" stroke="#f4f4f4" stroke-width="0.9" />
<line x1="506.20" y1="496.26" x2="690.90" y2="496.26" stroke="#626262" stroke-width="1.2" />
<line x1="505.60" y1="495.76" x2="505.60" y2="495.76" stroke="#f4f4f4" stroke-width="0.9" />
<line x1="506.65" y1="495.76" x2="506.65" y2="495.76" stroke="#626262" stroke-width="1.2" />
<rect x="528.90" y="486.66" width="21.90" height="35.80" fill="#c0c0c0" />
<line x1="528.90" y1="486.66" x2="528.90" y2="522.46" stroke="#f6f6f6" stroke-width="1.1" />
<line x1="528.90" y1="486.66" x2="534.40" y2="486.66" stroke="#f6f6f6" stroke-width="1.1" />
<line x1="545.40" y1="486.66" x2="550.80" y2="486.66" stroke="#f6f6f6" stroke-width="1.1" />
<line x1="550.80" y1="486.66" x2="550.80" y2="522.46" stroke="#6e6e6e" stroke-width="1.3" />
<line x1="528.90" y1="522.46" x2="551.40" y2="522.46" stroke="#6e6e6e" stroke-width="1.3" />
<line x1="549.80" y1="487.26" x2="549.80" y2="521.66" stroke="#e4e4e4" stroke-width="0.6" />
<line x1="529.70" y1="521.46" x2="550.00" y2="521.46" stroke="#e0e0e0" stroke-width="0.5" />
<text x="534.90" y="491.26" font-size="5.8" fill="#1a1a1a" font-family="Liberation Mono, monospace" textLength="10.20" lengthAdjust="spacingAndGlyphs" stroke="#1a1a1a" stroke-width="0.2">MOVE</text>
<text x="530.70" y="497.46" font-size="5.8" fill="#1a1a1a" font-family="Liberation Mono, monospace" textLength="4.40" lengthAdjust="spacingAndGlyphs" stroke="#1a1a1a" stroke-width="0.2">EN</text>
<text x="542.50" y="497.46" font-size="5.8" fill="#1a1a1a" font-family="Liberation Mono, monospace" textLength="7.20" lengthAdjust="spacingAndGlyphs" stroke="#1a1a1a" stroke-width="0.2">ENO</text>
<text x="530.50" y="510.92" font-size="5.8" fill="#1a1a1a" font-family="Liberation Mono, monospace" textLength="7.20" lengthAdjust="spacingAndGlyphs" stroke="#1a1a1a" stroke-width="0.2">.IN1</text>
<text x="542.90" y="510.92" font-size="5.8" fill="#1a1a1a" font-family="Liberation Mono, monospace" textLength="6.80" lengthAdjust="spacingAndGlyphs" stroke="#1a1a1a" stroke-width="0.2">OUT</text>
<line x1="550.80" y1="510.92" x2="553.00" y2="510.92" stroke="#7b7b7b" stroke-width="0.8" />
<line x1="551.20" y1="496.46" x2="552.80" y2="496.46" stroke="#7b7b7b" stroke-width="0.8" />
<text x="507.30" y="506.72" font-size="5.8" fill="#1a1a1a" font-family="Liberation Mono, monospace" textLength="20.60" lengthAdjust="spacingAndGlyphs" stroke="#1a1a1a" stroke-width="0.2">AD_1_A[12</text>
<text x="521.50" y="511.92" font-size="5.8" fill="#1a1a1a" font-family="Liberation Mono, monospace" textLength="1.40" lengthAdjust="spacingAndGlyphs" stroke="#1a1a1a" stroke-width="0.2">]</text>
<text x="554.20" y="506.52" font-size="5.8" fill="#1a1a1a" font-family="Liberation Mono, monospace" textLength="19.20" lengthAdjust="spacingAndGlyphs" stroke="#1a1a1a" stroke-width="0.2">MBT_201C,</text>
<text x="563.80" y="511.52" font-size="5.8" fill="#1a1a1a" font-family="Liberation Mono, monospace" textLength="2.60" lengthAdjust="spacingAndGlyphs" stroke="#1a1a1a" stroke-width="0.2">1</text>
<rect x="598.90" y="486.66" width="21.90" height="35.80" fill="#c0c0c0" />
<line x1="598.90" y1="486.66" x2="598.90" y2="522.46" stroke="#f6f6f6" stroke-width="1.1" />
<line x1="598.90" y1="486.66" x2="604.40" y2="486.66" stroke="#f6f6f6" stroke-width="1.1" />
<line x1="615.40" y1="486.66" x2="620.80" y2="486.66" stroke="#f6f6f6" stroke-width="1.1" />
<line x1="620.80" y1="486.66" x2="620.80" y2="522.46" stroke="#6e6e6e" stroke-width="1.3" />
<line x1="598.90" y1="522.46" x2="621.40" y2="522.46" stroke="#6e6e6e" stroke-width="1.3" />
<line x1="619.80" y1="487.26" x2="619.80" y2="521.66" stroke="#e4e4e4" stroke-width="0.6" />
<line x1="599.70" y1="521.46" x2="620.00" y2="521.46" stroke="#e0e0e0" stroke-width="0.5" />
<text x="604.90" y="491.26" font-size="5.8" fill="#1a1a1a" font-family="Liberation Mono, monospace" textLength="10.20" lengthAdjust="spacingAndGlyphs" stroke="#1a1a1a" stroke-width="0.2">MOVE</text>
<text x="600.70" y="497.46" font-size="5.8" fill="#1a1a1a" font-family="Liberation Mono, monospace" textLength="4.40" lengthAdjust="spacingAndGlyphs" stroke="#1a1a1a" stroke-width="0.2">EN</text>
<text x="612.50" y="497.46" font-size="5.8" fill="#1a1a1a" font-family="Liberation Mono, monospace" textLength="7.20" lengthAdjust="spacingAndGlyphs" stroke="#1a1a1a" stroke-width="0.2">ENO</text>
<text x="600.50" y="510.92" font-size="5.8" fill="#1a1a1a" font-family="Liberation Mono, monospace" textLength="7.20" lengthAdjust="spacingAndGlyphs" stroke="#1a1a1a" stroke-width="0.2">.IN1</text>
<text x="612.90" y="510.92" font-size="5.8" fill="#1a1a1a" font-family="Liberation Mono, monospace" textLength="6.80" lengthAdjust="spacingAndGlyphs" stroke="#1a1a1a" stroke-width="0.2">OUT</text>
<line x1="620.80" y1="510.92" x2="623.00" y2="510.92" stroke="#7b7b7b" stroke-width="0.8" />
<line x1="621.20" y1="496.46" x2="622.80" y2="496.46" stroke="#7b7b7b" stroke-width="0.8" />
<text x="577.30" y="506.72" font-size="5.8" fill="#1a1a1a" font-family="Liberation Mono, monospace" textLength="20.60" lengthAdjust="spacingAndGlyphs" stroke="#1a1a1a" stroke-width="0.2">AD_1_A[13</text>
<text x="591.50" y="511.92" font-size="5.8" fill="#1a1a1a" font-family="Liberation Mono, monospace" textLength="1.40" lengthAdjust="spacingAndGlyphs" stroke="#1a1a1a" stroke-width="0.2">]</text>
<text x="624.20" y="506.52" font-size="5.8" fill="#1a1a1a" font-family="Liberation Mono, monospace" textLength="19.20" lengthAdjust="spacingAndGlyphs" stroke="#1a1a1a" stroke-width="0.2">MBT_201C,</text>
<text x="633.80" y="511.52" font-size="5.8" fill="#1a1a1a" font-family="Liberation Mono, monospace" textLength="2.60" lengthAdjust="spacingAndGlyphs" stroke="#1a1a1a" stroke-width="0.2">2</text>
<rect x="668.90" y="486.66" width="21.90" height="35.80" fill="#c0c0c0" />
<line x1="668.90" y1="486.66" x2="668.90" y2="522.46" stroke="#f6f6f6" stroke-width="1.1" />
<line x1="668.90" y1="486.66" x2="674.40" y2="486.66" stroke="#f6f6f6" stroke-width="1.1" />
<line x1="685.40" y1="486.66" x2="690.80" y2="486.66" stroke="#f6f6f6" stroke-width="1.1" />
<line x1="690.80" y1="486.66" x2="690.80" y2="522.46" stroke="#6e6e6e" stroke-width="1.3" />
<line x1="668.90" y1="522.46" x2="691.40" y2="522.46" stroke="#6e6e6e" stroke-width="1.3" />
<line x1="689.80" y1="487.26" x2="689.80" y2="521.66" stroke="#e4e4e4" stroke-width="0.6" />
<line x1="669.70" y1="521.46" x2="690.00" y2="521.46" stroke="#e0e0e0" stroke-width="0.5" />
<text x="674.90" y="491.26" font-size="5.8" fill="#1a1a1a" font-family="Liberation Mono, monospace" textLength="10.20" lengthAdjust="spacingAndGlyphs" stroke="#1a1a1a" stroke-width="0.2">MOVE</text>
<text x="670.70" y="497.46" font-size="5.8" fill="#1a1a1a" font-family="Liberation Mono, monospace" textLength="4.40" lengthAdjust="spacingAndGlyphs" stroke="#1a1a1a" stroke-width="0.2">EN</text>
<text x="682.50" y="497.46" font-size="5.8" fill="#1a1a1a" font-family="Liberation Mono, monospace" textLength="7.20" lengthAdjust="spacingAndGlyphs" stroke="#1a1a1a" stroke-width="0.2">ENO</text>
<text x="670.50" y="510.92" font-size="5.8" fill="#1a1a1a" font-family="Liberation Mono, monospace" textLength="7.20" lengthAdjust="spacingAndGlyphs" stroke="#1a1a1a" stroke-width="0.2">.IN1</text>
<text x="682.90" y="510.92" font-size="5.8" fill="#1a1a1a" font-family="Liberation Mono, monospace" textLength="6.80" lengthAdjust="spacingAndGlyphs" stroke="#1a1a1a" stroke-width="0.2">OUT</text>
<line x1="690.80" y1="510.92" x2="693.00" y2="510.92" stroke="#7b7b7b" stroke-width="0.8" />
<line x1="691.20" y1="496.46" x2="692.80" y2="496.46" stroke="#7b7b7b" stroke-width="0.8" />
<text x="647.30" y="506.72" font-size="5.8" fill="#1a1a1a" font-family="Liberation Mono, monospace" textLength="20.60" lengthAdjust="spacingAndGlyphs" stroke="#1a1a1a" stroke-width="0.2">AD_1_A[14</text>
<text x="661.50" y="511.92" font-size="5.8" fill="#1a1a1a" font-family="Liberation Mono, monospace" textLength="1.40" lengthAdjust="spacingAndGlyphs" stroke="#1a1a1a" stroke-width="0.2">]</text>
<text x="694.20" y="506.52" font-size="5.8" fill="#1a1a1a" font-family="Liberation Mono, monospace" textLength="19.20" lengthAdjust="spacingAndGlyphs" stroke="#1a1a1a" stroke-width="0.2">MBT_201C,</text>
<text x="703.80" y="511.52" font-size="5.8" fill="#1a1a1a" font-family="Liberation Mono, monospace" textLength="2.60" lengthAdjust="spacingAndGlyphs" stroke="#1a1a1a" stroke-width="0.2">3</text>
<rect x="698.00" y="510.60" width="72.80" height="6.90" fill="#ffffe1" stroke="#8a8a8a" stroke-width="0.6" />
<text x="700.20" y="516.00" font-size="5.6" fill="#333" font-family="Liberation Sans, sans-serif" textLength="53.60" lengthAdjust="spacingAndGlyphs" stroke="#333" stroke-width="0.08">VAR, INT,  AT %MW314 &lt;</text>
<g fill="none" stroke="#333" stroke-width="0.66" opacity="0.9"><path d="M754.93 511.95H756.90V513.80H754.93ZM757.94 511.6V516.00M757.94 513.58H758.78M755.23 514.68V515.78H757.32"/></g>
<g fill="none" stroke="#333" stroke-width="0.66" opacity="0.9"><path d="M759.22 512.04H762.56M760.89 512.04L759.43 513.80M760.89 512.26L762.48 513.80M758.80 514.50H762.98M760.89 514.50V516.00"/></g>
<text x="763.60" y="516.00" font-size="5.6" fill="#333" font-family="Liberation Sans, sans-serif" textLength="4.60" lengthAdjust="spacingAndGlyphs" stroke="#333" stroke-width="0.08">&gt;.</text>
<rect x="25.20" y="296.00" width="340.20" height="243.20" fill="#d3dfed" rx="1.2" />
<rect x="25.50" y="296.30" width="339.60" height="242.60" fill="none" stroke="#b4bfcc" stroke-width="0.6" rx="1.2" />
<rect x="25.80" y="296.60" width="339.00" height="11.60" fill="url(#tb7l)" />
<rect x="28.60" y="299.60" width="5.60" height="6.20" fill="#e8e4da" stroke="#666" stroke-width="0.7" rx="0.6" />
<rect x="28.60" y="299.60" width="5.60" height="1.80" fill="#777" />
<line x1="29.60" y1="303.20" x2="33.20" y2="303.20" stroke="#b55" stroke-width="0.7" />
<line x1="29.60" y1="304.60" x2="33.20" y2="304.60" stroke="#888" stroke-width="0.6" />
<text x="35.80" y="305.20" font-size="6.4" fill="#6a6a6a" font-family="Liberation Sans, sans-serif" textLength="17.00" lengthAdjust="spacingAndGlyphs" stroke="#6a6a6a" stroke-width="0.1">NOVA(</text>
<g fill="none" stroke="#6a6a6a" stroke-width="0.72" opacity="0.9"><path d="M53.46 300.68H57.10M55.28 300.68L53.68 302.60M55.28 300.92L57.01 302.60M53.00 303.37H57.56M55.28 303.37V305.00"/></g>
<g fill="none" stroke="#6a6a6a" stroke-width="0.72" opacity="0.9"><circle cx="58.36" cy="302.02" r="0.96"/><path d="M57.13 300.58H59.64M60.55 300.2V303.18M59.41 301.64H60.55"/><circle cx="59.18" cy="304.23" r="0.72"/></g>
<g fill="none" stroke="#6a6a6a" stroke-width="0.72" opacity="0.9"><path d="M61.16 300.58H63.31V302.60H61.16ZM64.45 300.2V305.00M64.45 302.36H65.36M61.48 303.56V304.76H63.76"/></g>
<g fill="none" stroke="#6a6a6a" stroke-width="0.72" opacity="0.9"><path d="M65.16 300.68H68.80M66.98 300.68L65.38 302.60M66.98 300.92L68.71 302.60M64.70 303.37H69.26M66.98 303.37V305.00"/></g>
<text x="68.80" y="305.20" font-size="6.4" fill="#6a6a6a" font-family="Liberation Sans, sans-serif" textLength="1.80" lengthAdjust="spacingAndGlyphs" stroke="#6a6a6a" stroke-width="0.1">)</text>
<rect x="324.30" y="299.40" width="11.60" height="6.40" fill="#d6e0ed" stroke="#9aa8bc" stroke-width="0.6" rx="1.2" />
<rect x="324.80" y="299.90" width="10.60" height="2.88" fill="#e6edf6" rx="0.8" />
<rect x="337.20" y="299.40" width="11.60" height="6.40" fill="#d6e0ed" stroke="#9aa8bc" stroke-width="0.6" rx="1.2" />
<rect x="337.70" y="299.90" width="10.60" height="2.88" fill="#e6edf6" rx="0.8" />
<rect x="350.00" y="299.40" width="11.80" height="6.40" fill="#d6e0ed" stroke="#9aa8bc" stroke-width="0.6" rx="1.2" />
<rect x="350.50" y="299.90" width="10.80" height="2.88" fill="#e6edf6" rx="0.8" />
<rect x="328.10" y="303.20" width="4.00" height="1.30" fill="#f8f8f8" stroke="#8896aa" stroke-width="0.4" />
<rect x="341.00" y="300.90" width="4.00" height="3.40" fill="none" stroke="#8896aa" stroke-width="0.6" />
<rect x="353.90" y="300.90" width="4.00" height="3.40" fill="none" stroke="#8896aa" stroke-width="0.6" />
<rect x="27.80" y="308.00" width="334.80" height="228.60" fill="#ffffff" />
<line x1="27.80" y1="308.30" x2="362.60" y2="308.30" stroke="#8a8a8a" stroke-width="0.8" />
<line x1="79.60" y1="309.00" x2="79.60" y2="529.00" stroke="#f0f0f3" stroke-width="0.7" />
<line x1="107.75" y1="309.00" x2="107.75" y2="529.00" stroke="#f0f0f3" stroke-width="0.7" />
<line x1="135.90" y1="309.00" x2="135.90" y2="529.00" stroke="#f0f0f3" stroke-width="0.7" />
<line x1="164.05" y1="309.00" x2="164.05" y2="529.00" stroke="#f0f0f3" stroke-width="0.7" />
<line x1="192.20" y1="309.00" x2="192.20" y2="529.00" stroke="#f0f0f3" stroke-width="0.7" />
<line x1="220.35" y1="309.00" x2="220.35" y2="529.00" stroke="#f0f0f3" stroke-width="0.7" />
<line x1="248.50" y1="309.00" x2="248.50" y2="529.00" stroke="#f0f0f3" stroke-width="0.7" />
<line x1="276.65" y1="309.00" x2="276.65" y2="529.00" stroke="#f0f0f3" stroke-width="0.7" />
<line x1="304.80" y1="309.00" x2="304.80" y2="529.00" stroke="#f0f0f3" stroke-width="0.7" />
<line x1="332.95" y1="309.00" x2="332.95" y2="529.00" stroke="#f0f0f3" stroke-width="0.7" />
<rect x="27.80" y="308.60" width="22.40" height="221.40" fill="#f0f0f0" />
<line x1="28.20" y1="308.00" x2="28.20" y2="529.40" stroke="#a0a0a0" stroke-width="0.8" />
<line x1="27.80" y1="331.20" x2="50.20" y2="331.20" stroke="#9a9a9a" stroke-width="0.9" />
<line x1="27.80" y1="354.20" x2="50.20" y2="354.20" stroke="#9a9a9a" stroke-width="0.9" />
<line x1="27.80" y1="377.20" x2="50.20" y2="377.20" stroke="#9a9a9a" stroke-width="0.9" />
<line x1="27.80" y1="415.40" x2="50.20" y2="415.40" stroke="#9a9a9a" stroke-width="0.9" />
<line x1="27.80" y1="453.60" x2="50.20" y2="453.60" stroke="#9a9a9a" stroke-width="0.9" />
<line x1="27.80" y1="491.80" x2="50.20" y2="491.80" stroke="#9a9a9a" stroke-width="0.9" />
<line x1="27.80" y1="529.60" x2="50.20" y2="529.60" stroke="#9a9a9a" stroke-width="0.9" />
<line x1="52.00" y1="331.20" x2="333.00" y2="331.20" stroke="#f0f0f3" stroke-width="0.7" />
<line x1="52.00" y1="354.20" x2="333.00" y2="354.20" stroke="#f0f0f3" stroke-width="0.7" />
<line x1="52.00" y1="377.20" x2="333.00" y2="377.20" stroke="#f0f0f3" stroke-width="0.7" />
<line x1="52.00" y1="415.40" x2="333.00" y2="415.40" stroke="#f0f0f3" stroke-width="0.7" />
<line x1="52.00" y1="453.60" x2="333.00" y2="453.60" stroke="#f0f0f3" stroke-width="0.7" />
<line x1="52.00" y1="491.80" x2="333.00" y2="491.80" stroke="#f0f0f3" stroke-width="0.7" />
<text x="46.80" y="330.60" font-size="5.8" fill="#3030e8" font-family="Liberation Mono, monospace" textLength="2.60" lengthAdjust="spacingAndGlyphs" stroke="#3030e8" stroke-width="0.2">0</text>
<text x="46.80" y="353.60" font-size="5.8" fill="#3030e8" font-family="Liberation Mono, monospace" textLength="2.60" lengthAdjust="spacingAndGlyphs" stroke="#3030e8" stroke-width="0.2">6</text>
<text x="44.40" y="376.60" font-size="5.8" fill="#3030e8" font-family="Liberation Mono, monospace" textLength="5.00" lengthAdjust="spacingAndGlyphs" stroke="#3030e8" stroke-width="0.2">11</text>
<text x="44.40" y="414.80" font-size="5.8" fill="#3030e8" font-family="Liberation Mono, monospace" textLength="5.00" lengthAdjust="spacingAndGlyphs" stroke="#3030e8" stroke-width="0.2">21</text>
<text x="44.40" y="453.00" font-size="5.8" fill="#3030e8" font-family="Liberation Mono, monospace" textLength="5.00" lengthAdjust="spacingAndGlyphs" stroke="#3030e8" stroke-width="0.2">31</text>
<text x="44.40" y="491.20" font-size="5.8" fill="#3030e8" font-family="Liberation Mono, monospace" textLength="5.00" lengthAdjust="spacingAndGlyphs" stroke="#3030e8" stroke-width="0.2">41</text>
<text x="44.40" y="529.40" font-size="5.8" fill="#3030e8" font-family="Liberation Mono, monospace" textLength="5.00" lengthAdjust="spacingAndGlyphs" stroke="#3030e8" stroke-width="0.2">51</text>
<line x1="51.00" y1="308.60" x2="51.00" y2="529.60" stroke="#3c3c3c" stroke-width="1.7" />
<line x1="333.60" y1="308.60" x2="333.60" y2="492.00" stroke="#3c3c3c" stroke-width="1.5" />
<line x1="51.00" y1="318.40" x2="333.60" y2="318.40" stroke="#5a5a5a" stroke-width="0.9" />
<rect x="63.20" y="317.40" width="4.80" height="2.00" fill="#fff" />
<line x1="63.10" y1="315.80" x2="63.10" y2="321.00" stroke="#5a5a5a" stroke-width="1.0" />
<line x1="68.10" y1="315.80" x2="68.10" y2="321.00" stroke="#5a5a5a" stroke-width="1.0" />
<text x="58.64" y="314.90" font-size="6.4" fill="#111" font-family="Liberation Mono, monospace" textLength="13.92" lengthAdjust="spacingAndGlyphs" stroke="#111" stroke-width="0.2">F00092</text>
<rect x="91.35" y="317.40" width="4.80" height="2.00" fill="#fff" />
<line x1="91.25" y1="315.80" x2="91.25" y2="321.00" stroke="#5a5a5a" stroke-width="1.0" />
<line x1="96.25" y1="315.80" x2="96.25" y2="321.00" stroke="#5a5a5a" stroke-width="1.0" />
<line x1="92.25" y1="321.00" x2="95.25" y2="315.80" stroke="#5a5a5a" stroke-width="0.8" />
<text x="86.79" y="314.90" font-size="6.4" fill="#111" font-family="Liberation Mono, monospace" textLength="13.92" lengthAdjust="spacingAndGlyphs" stroke="#111" stroke-width="0.2">M00201</text>
<rect x="119.50" y="317.40" width="4.80" height="2.00" fill="#fff" />
<line x1="119.40" y1="315.80" x2="119.40" y2="321.00" stroke="#5a5a5a" stroke-width="1.0" />
<line x1="124.40" y1="315.80" x2="124.40" y2="321.00" stroke="#5a5a5a" stroke-width="1.0" />
<line x1="120.40" y1="321.00" x2="123.40" y2="315.80" stroke="#5a5a5a" stroke-width="0.8" />
<text x="114.94" y="314.90" font-size="6.4" fill="#111" font-family="Liberation Mono, monospace" textLength="13.92" lengthAdjust="spacingAndGlyphs" stroke="#111" stroke-width="0.2">M00202</text>
<rect x="147.65" y="317.40" width="4.80" height="2.00" fill="#fff" />
<line x1="147.55" y1="315.80" x2="147.55" y2="321.00" stroke="#5a5a5a" stroke-width="1.0" />
<line x1="152.55" y1="315.80" x2="152.55" y2="321.00" stroke="#5a5a5a" stroke-width="1.0" />
<line x1="148.55" y1="321.00" x2="151.55" y2="315.80" stroke="#5a5a5a" stroke-width="0.8" />
<text x="143.09" y="314.90" font-size="6.4" fill="#111" font-family="Liberation Mono, monospace" textLength="13.92" lengthAdjust="spacingAndGlyphs" stroke="#111" stroke-width="0.2">M00203</text>
<rect x="175.80" y="317.40" width="4.80" height="2.00" fill="#fff" />
<line x1="175.70" y1="315.80" x2="175.70" y2="321.00" stroke="#5a5a5a" stroke-width="1.0" />
<line x1="180.70" y1="315.80" x2="180.70" y2="321.00" stroke="#5a5a5a" stroke-width="1.0" />
<line x1="176.70" y1="321.00" x2="179.70" y2="315.80" stroke="#5a5a5a" stroke-width="0.8" />
<text x="171.24" y="314.90" font-size="6.4" fill="#111" font-family="Liberation Mono, monospace" textLength="13.92" lengthAdjust="spacingAndGlyphs" stroke="#111" stroke-width="0.2">M00204</text>
<rect x="316.60" y="317.40" width="6.00" height="2.00" fill="#fff" />
<path d="M317.60 315.80Q315.20 318.40 317.60 321.00" fill="none" stroke="#5a5a5a" stroke-width="0.9" />
<path d="M321.60 315.80Q324.00 318.40 321.60 321.00" fill="none" stroke="#5a5a5a" stroke-width="0.9" />
<text x="312.64" y="314.90" font-size="6.4" fill="#111" font-family="Liberation Mono, monospace" textLength="13.92" lengthAdjust="spacingAndGlyphs" stroke="#111" stroke-width="0.2">M00200</text>
<text x="53.40" y="325.00" font-size="5.8" fill="#36aa46" font-family="Liberation Mono, monospace" textLength="11.40" lengthAdjust="spacingAndGlyphs" stroke="#36aa46" stroke-width="0.2">200ms</text>
<g fill="none" stroke="#36aa46" stroke-width="0.69" opacity="1"><path d="M66.64 320.86H70.13M68.39 320.86L66.86 322.70M68.39 321.09L70.05 322.70M66.20 323.44H70.57M68.39 323.44V325.00"/></g>
<g fill="none" stroke="#36aa46" stroke-width="0.69" opacity="1"><circle cx="72.20" cy="322.15" r="0.92"/><path d="M71.02 320.77H73.42M74.30 320.4V323.25M73.20 321.78H74.30"/><circle cx="72.98" cy="324.26" r="0.69"/></g>
<text x="59.70" y="330.30" font-size="5.8" fill="#36aa46" font-family="Liberation Mono, monospace" textLength="12.20" lengthAdjust="spacingAndGlyphs" stroke="#36aa46" stroke-width="0.2">CLOCK</text>
<line x1="51.00" y1="341.50" x2="333.60" y2="341.50" stroke="#5a5a5a" stroke-width="0.9" />
<rect x="63.20" y="340.50" width="4.80" height="2.00" fill="#fff" />
<line x1="63.10" y1="338.90" x2="63.10" y2="344.10" stroke="#5a5a5a" stroke-width="1.0" />
<line x1="68.10" y1="338.90" x2="68.10" y2="344.10" stroke="#5a5a5a" stroke-width="1.0" />
<line x1="64.10" y1="344.10" x2="67.10" y2="338.90" stroke="#5a5a5a" stroke-width="0.8" />
<text x="58.64" y="337.90" font-size="6.4" fill="#111" font-family="Liberation Mono, monospace" textLength="13.92" lengthAdjust="spacingAndGlyphs" stroke="#111" stroke-width="0.2">F00092</text>
<rect x="203.95" y="340.50" width="4.80" height="2.00" fill="#fff" />
<line x1="203.85" y1="338.90" x2="203.85" y2="344.10" stroke="#5a5a5a" stroke-width="1.0" />
<line x1="208.85" y1="338.90" x2="208.85" y2="344.10" stroke="#5a5a5a" stroke-width="1.0" />
<line x1="204.85" y1="344.10" x2="207.85" y2="338.90" stroke="#5a5a5a" stroke-width="0.8" />
<text x="199.39" y="337.90" font-size="6.4" fill="#111" font-family="Liberation Mono, monospace" textLength="13.92" lengthAdjust="spacingAndGlyphs" stroke="#111" stroke-width="0.2">M00205</text>
<rect x="232.10" y="340.50" width="4.80" height="2.00" fill="#fff" />
<line x1="232.00" y1="338.90" x2="232.00" y2="344.10" stroke="#5a5a5a" stroke-width="1.0" />
<line x1="237.00" y1="338.90" x2="237.00" y2="344.10" stroke="#5a5a5a" stroke-width="1.0" />
<line x1="233.00" y1="344.10" x2="236.00" y2="338.90" stroke="#5a5a5a" stroke-width="0.8" />
<text x="227.54" y="337.90" font-size="6.4" fill="#111" font-family="Liberation Mono, monospace" textLength="13.92" lengthAdjust="spacingAndGlyphs" stroke="#111" stroke-width="0.2">M00206</text>
<rect x="260.25" y="340.50" width="4.80" height="2.00" fill="#fff" />
<line x1="260.15" y1="338.90" x2="260.15" y2="344.10" stroke="#5a5a5a" stroke-width="1.0" />
<line x1="265.15" y1="338.90" x2="265.15" y2="344.10" stroke="#5a5a5a" stroke-width="1.0" />
<line x1="261.15" y1="344.10" x2="264.15" y2="338.90" stroke="#5a5a5a" stroke-width="0.8" />
<text x="255.69" y="337.90" font-size="6.4" fill="#111" font-family="Liberation Mono, monospace" textLength="13.92" lengthAdjust="spacingAndGlyphs" stroke="#111" stroke-width="0.2">M00207</text>
<rect x="304.80" y="332.00" width="28.40" height="21.80" fill="none" stroke="#b5b5b5" stroke-width="0.7" />
<rect x="316.60" y="340.50" width="6.00" height="2.00" fill="#fff" />
<path d="M317.60 338.90Q315.20 341.50 317.60 344.10" fill="none" stroke="#5a5a5a" stroke-width="0.9" />
<path d="M321.60 338.90Q324.00 341.50 321.60 344.10" fill="none" stroke="#5a5a5a" stroke-width="0.9" />
<text x="312.64" y="337.90" font-size="6.4" fill="#111" font-family="Liberation Mono, monospace" textLength="13.92" lengthAdjust="spacingAndGlyphs" stroke="#111" stroke-width="0.2">M00210</text>
<text x="53.40" y="348.20" font-size="5.8" fill="#36aa46" font-family="Liberation Mono, monospace" textLength="11.40" lengthAdjust="spacingAndGlyphs" stroke="#36aa46" stroke-width="0.2">200ms</text>
<g fill="none" stroke="#36aa46" stroke-width="0.69" opacity="1"><path d="M66.64 344.06H70.13M68.39 344.06L66.86 345.90M68.39 344.29L70.05 345.90M66.20 346.64H70.57M68.39 346.64V348.20"/></g>
<g fill="none" stroke="#36aa46" stroke-width="0.69" opacity="1"><circle cx="72.20" cy="345.35" r="0.92"/><path d="M71.02 343.97H73.42M74.30 343.6V346.45M73.20 344.98H74.30"/><circle cx="72.98" cy="347.46" r="0.69"/></g>
<text x="59.70" y="353.50" font-size="5.8" fill="#36aa46" font-family="Liberation Mono, monospace" textLength="12.20" lengthAdjust="spacingAndGlyphs" stroke="#36aa46" stroke-width="0.2">CLOCK</text>
<line x1="51.00" y1="364.60" x2="82.40" y2="364.60" stroke="#5a5a5a" stroke-width="0.9" />
<rect x="63.20" y="363.60" width="4.80" height="2.00" fill="#fff" />
<line x1="63.10" y1="362.00" x2="63.10" y2="367.20" stroke="#5a5a5a" stroke-width="1.0" />
<line x1="68.10" y1="362.00" x2="68.10" y2="367.20" stroke="#5a5a5a" stroke-width="1.0" />
<text x="58.64" y="360.90" font-size="6.4" fill="#111" font-family="Liberation Mono, monospace" textLength="13.92" lengthAdjust="spacingAndGlyphs" stroke="#111" stroke-width="0.2">F00099</text>
<line x1="82.40" y1="359.20" x2="82.40" y2="368.00" stroke="#5a5a5a" stroke-width="1.0" />
<g fill="none" stroke="#36aa46" stroke-width="0.69" opacity="1"><path d="M55.55 367.57H57.60V369.50H55.55ZM58.70 367.20000000000005V371.80M58.70 369.27H59.57M55.86 370.42V371.57H58.04"/></g>
<g fill="none" stroke="#36aa46" stroke-width="0.69" opacity="1"><path d="M60.04 367.66H63.53M61.79 367.66L60.26 369.50M61.79 367.89L63.45 369.50M59.60 370.24H63.97M61.79 370.24V371.80"/></g>
<text x="66.40" y="371.60" font-size="5.8" fill="#36aa46" font-family="Liberation Mono, monospace" textLength="5.40" lengthAdjust="spacingAndGlyphs" stroke="#36aa46" stroke-width="0.2">ON</text>
<text x="91.45" y="364.50" font-size="5.6" fill="#5a5a5a" font-family="Liberation Mono, monospace" textLength="4.60" lengthAdjust="spacingAndGlyphs" stroke="#5a5a5a" stroke-width="0.2">&lt;&gt;</text>
<text x="114.94" y="364.50" font-size="6.4" fill="#111" font-family="Liberation Mono, monospace" textLength="13.92" lengthAdjust="spacingAndGlyphs" stroke="#111" stroke-width="0.2">D00032</text>
<text x="143.09" y="364.50" font-size="6.4" fill="#111" font-family="Liberation Mono, monospace" textLength="13.92" lengthAdjust="spacingAndGlyphs" stroke="#111" stroke-width="0.2">D00034</text>
<text x="114.00" y="372.10" font-size="5.8" fill="#36aa46" font-family="Liberation Mono, monospace" textLength="15.80" lengthAdjust="spacingAndGlyphs" stroke="#36aa46" stroke-width="0.2">TC#1_SV</text>
<text x="141.85" y="372.10" font-size="5.8" fill="#36aa46" font-family="Liberation Mono, monospace" textLength="18.40" lengthAdjust="spacingAndGlyphs" stroke="#36aa46" stroke-width="0.2">TC#1_SSV</text>
<line x1="162.00" y1="359.20" x2="162.00" y2="368.00" stroke="#5a5a5a" stroke-width="1.0" />
<line x1="162.00" y1="364.60" x2="333.60" y2="364.60" stroke="#5a5a5a" stroke-width="0.9" />
<rect x="175.80" y="363.60" width="4.80" height="2.00" fill="#fff" />
<line x1="175.70" y1="362.00" x2="175.70" y2="367.20" stroke="#5a5a5a" stroke-width="1.0" />
<line x1="180.70" y1="362.00" x2="180.70" y2="367.20" stroke="#5a5a5a" stroke-width="1.0" />
<text x="171.24" y="360.90" font-size="6.4" fill="#111" font-family="Liberation Mono, monospace" textLength="13.92" lengthAdjust="spacingAndGlyphs" stroke="#111" stroke-width="0.2">M00020</text>
<text x="170.60" y="372.10" font-size="5.8" fill="#36aa46" font-family="Liberation Mono, monospace" textLength="16.40" lengthAdjust="spacingAndGlyphs" stroke="#36aa46" stroke-width="0.2">D1#1.0 -</text>
<text x="177.20" y="376.50" font-size="5.8" fill="#36aa46" font-family="Liberation Mono, monospace" textLength="6.40" lengthAdjust="spacingAndGlyphs" stroke="#36aa46" stroke-width="0.2">R/L</text>
<rect x="316.60" y="363.60" width="6.00" height="2.00" fill="#fff" />
<path d="M317.60 362.00Q315.20 364.60 317.60 367.20" fill="none" stroke="#5a5a5a" stroke-width="0.9" />
<path d="M321.60 362.00Q324.00 364.60 321.60 367.20" fill="none" stroke="#5a5a5a" stroke-width="0.9" />
<text x="318.30" y="366.50" font-size="5.2" fill="#333" font-family="Liberation Mono, monospace" textLength="2.60" lengthAdjust="spacingAndGlyphs" stroke="#333" stroke-width="0.15">S</text>
<text x="312.64" y="360.90" font-size="6.4" fill="#111" font-family="Liberation Mono, monospace" textLength="13.92" lengthAdjust="spacingAndGlyphs" stroke="#111" stroke-width="0.2">M00201</text>
<path d="M79.6 364.60V385.30Q79.6 386.80 81.1 386.80H333.6" fill="none" stroke="#5a5a5a" stroke-width="0.9" />
<rect x="91.35" y="385.80" width="4.80" height="2.00" fill="#fff" />
<line x1="91.25" y1="384.20" x2="91.25" y2="389.40" stroke="#5a5a5a" stroke-width="1.0" />
<line x1="96.25" y1="384.20" x2="96.25" y2="389.40" stroke="#5a5a5a" stroke-width="1.0" />
<line x1="92.25" y1="389.40" x2="95.25" y2="384.20" stroke="#5a5a5a" stroke-width="0.8" />
<text x="86.79" y="383.10" font-size="6.4" fill="#111" font-family="Liberation Mono, monospace" textLength="13.92" lengthAdjust="spacingAndGlyphs" stroke="#111" stroke-width="0.2">M00200</text>
<rect x="119.50" y="385.80" width="4.80" height="2.00" fill="#fff" />
<line x1="119.40" y1="384.20" x2="119.40" y2="389.40" stroke="#5a5a5a" stroke-width="1.0" />
<line x1="124.40" y1="384.20" x2="124.40" y2="389.40" stroke="#5a5a5a" stroke-width="1.0" />
<text x="114.94" y="383.10" font-size="6.4" fill="#111" font-family="Liberation Mono, monospace" textLength="13.92" lengthAdjust="spacingAndGlyphs" stroke="#111" stroke-width="0.2">M00201</text>
<rect x="316.60" y="385.80" width="6.00" height="2.00" fill="#fff" />
<path d="M317.60 384.20Q315.20 386.80 317.60 389.40" fill="none" stroke="#5a5a5a" stroke-width="0.9" />
<path d="M321.60 384.20Q324.00 386.80 321.60 389.40" fill="none" stroke="#5a5a5a" stroke-width="0.9" />
<text x="318.30" y="388.70" font-size="5.2" fill="#333" font-family="Liberation Mono, monospace" textLength="2.60" lengthAdjust="spacingAndGlyphs" stroke="#333" stroke-width="0.15">R</text>
<text x="312.64" y="383.10" font-size="6.4" fill="#111" font-family="Liberation Mono, monospace" textLength="13.92" lengthAdjust="spacingAndGlyphs" stroke="#111" stroke-width="0.2">M00201</text>
<line x1="51.00" y1="402.75" x2="82.40" y2="402.75" stroke="#5a5a5a" stroke-width="0.9" />
<rect x="63.20" y="401.75" width="4.80" height="2.00" fill="#fff" />
<line x1="63.10" y1="400.15" x2="63.10" y2="405.35" stroke="#5a5a5a" stroke-width="1.0" />
<line x1="68.10" y1="400.15" x2="68.10" y2="405.35" stroke="#5a5a5a" stroke-width="1.0" />
<text x="58.64" y="399.05" font-size="6.4" fill="#111" font-family="Liberation Mono, monospace" textLength="13.92" lengthAdjust="spacingAndGlyphs" stroke="#111" stroke-width="0.2">F00099</text>
<line x1="82.40" y1="397.35" x2="82.40" y2="406.15" stroke="#5a5a5a" stroke-width="1.0" />
<g fill="none" stroke="#36aa46" stroke-width="0.69" opacity="1"><path d="M55.55 405.72H57.60V407.65H55.55ZM58.70 405.35V409.95M58.70 407.42H59.57M55.86 408.57V409.72H58.04"/></g>
<g fill="none" stroke="#36aa46" stroke-width="0.69" opacity="1"><path d="M60.04 405.81H63.53M61.79 405.81L60.26 407.65M61.79 406.04L63.45 407.65M59.60 408.39H63.97M61.79 408.39V409.95"/></g>
<text x="66.40" y="409.75" font-size="5.8" fill="#36aa46" font-family="Liberation Mono, monospace" textLength="5.40" lengthAdjust="spacingAndGlyphs" stroke="#36aa46" stroke-width="0.2">ON</text>
<text x="91.45" y="402.65" font-size="5.6" fill="#5a5a5a" font-family="Liberation Mono, monospace" textLength="4.60" lengthAdjust="spacingAndGlyphs" stroke="#5a5a5a" stroke-width="0.2">&lt;&gt;</text>
<text x="114.94" y="402.65" font-size="6.4" fill="#111" font-family="Liberation Mono, monospace" textLength="13.92" lengthAdjust="spacingAndGlyphs" stroke="#111" stroke-width="0.2">D00038</text>
<text x="143.09" y="402.65" font-size="6.4" fill="#111" font-family="Liberation Mono, monospace" textLength="13.92" lengthAdjust="spacingAndGlyphs" stroke="#111" stroke-width="0.2">D00040</text>
<text x="114.00" y="410.25" font-size="5.8" fill="#36aa46" font-family="Liberation Mono, monospace" textLength="15.80" lengthAdjust="spacingAndGlyphs" stroke="#36aa46" stroke-width="0.2">TC#2_SV</text>
<text x="141.85" y="410.25" font-size="5.8" fill="#36aa46" font-family="Liberation Mono, monospace" textLength="18.40" lengthAdjust="spacingAndGlyphs" stroke="#36aa46" stroke-width="0.2">TC#2_SSV</text>
<line x1="162.00" y1="397.35" x2="162.00" y2="406.15" stroke="#5a5a5a" stroke-width="1.0" />
<line x1="162.00" y1="402.75" x2="333.60" y2="402.75" stroke="#5a5a5a" stroke-width="0.9" />
<rect x="175.80" y="401.75" width="4.80" height="2.00" fill="#fff" />
<line x1="175.70" y1="400.15" x2="175.70" y2="405.35" stroke="#5a5a5a" stroke-width="1.0" />
<line x1="180.70" y1="400.15" x2="180.70" y2="405.35" stroke="#5a5a5a" stroke-width="1.0" />
<text x="171.24" y="399.05" font-size="6.4" fill="#111" font-family="Liberation Mono, monospace" textLength="13.92" lengthAdjust="spacingAndGlyphs" stroke="#111" stroke-width="0.2">M00020</text>
<text x="170.60" y="410.25" font-size="5.8" fill="#36aa46" font-family="Liberation Mono, monospace" textLength="16.40" lengthAdjust="spacingAndGlyphs" stroke="#36aa46" stroke-width="0.2">D1#2.0 -</text>
<text x="177.20" y="414.65" font-size="5.8" fill="#36aa46" font-family="Liberation Mono, monospace" textLength="6.40" lengthAdjust="spacingAndGlyphs" stroke="#36aa46" stroke-width="0.2">R/L</text>
<rect x="316.60" y="401.75" width="6.00" height="2.00" fill="#fff" />
<path d="M317.60 400.15Q315.20 402.75 317.60 405.35" fill="none" stroke="#5a5a5a" stroke-width="0.9" />
<path d="M321.60 400.15Q324.00 402.75 321.60 405.35" fill="none" stroke="#5a5a5a" stroke-width="0.9" />
<text x="318.30" y="404.65" font-size="5.2" fill="#333" font-family="Liberation Mono, monospace" textLength="2.60" lengthAdjust="spacingAndGlyphs" stroke="#333" stroke-width="0.15">S</text>
<text x="312.64" y="399.05" font-size="6.4" fill="#111" font-family="Liberation Mono, monospace" textLength="13.92" lengthAdjust="spacingAndGlyphs" stroke="#111" stroke-width="0.2">M00202</text>
<path d="M79.6 402.75V423.45Q79.6 424.95 81.1 424.95H333.6" fill="none" stroke="#5a5a5a" stroke-width="0.9" />
<rect x="91.35" y="423.95" width="4.80" height="2.00" fill="#fff" />
<line x1="91.25" y1="422.35" x2="91.25" y2="427.55" stroke="#5a5a5a" stroke-width="1.0" />
<line x1="96.25" y1="422.35" x2="96.25" y2="427.55" stroke="#5a5a5a" stroke-width="1.0" />
<line x1="92.25" y1="427.55" x2="95.25" y2="422.35" stroke="#5a5a5a" stroke-width="0.8" />
<text x="86.79" y="421.25" font-size="6.4" fill="#111" font-family="Liberation Mono, monospace" textLength="13.92" lengthAdjust="spacingAndGlyphs" stroke="#111" stroke-width="0.2">M00200</text>
<rect x="119.50" y="423.95" width="4.80" height="2.00" fill="#fff" />
<line x1="119.40" y1="422.35" x2="119.40" y2="427.55" stroke="#5a5a5a" stroke-width="1.0" />
<line x1="124.40" y1="422.35" x2="124.40" y2="427.55" stroke="#5a5a5a" stroke-width="1.0" />
<text x="114.94" y="421.25" font-size="6.4" fill="#111" font-family="Liberation Mono, monospace" textLength="13.92" lengthAdjust="spacingAndGlyphs" stroke="#111" stroke-width="0.2">M00202</text>
<rect x="316.60" y="423.95" width="6.00" height="2.00" fill="#fff" />
<path d="M317.60 422.35Q315.20 424.95 317.60 427.55" fill="none" stroke="#5a5a5a" stroke-width="0.9" />
<path d="M321.60 422.35Q324.00 424.95 321.60 427.55" fill="none" stroke="#5a5a5a" stroke-width="0.9" />
<text x="318.30" y="426.85" font-size="5.2" fill="#333" font-family="Liberation Mono, monospace" textLength="2.60" lengthAdjust="spacingAndGlyphs" stroke="#333" stroke-width="0.15">R</text>
<text x="312.64" y="421.25" font-size="6.4" fill="#111" font-family="Liberation Mono, monospace" textLength="13.92" lengthAdjust="spacingAndGlyphs" stroke="#111" stroke-width="0.2">M00202</text>
<line x1="51.00" y1="440.90" x2="82.40" y2="440.90" stroke="#5a5a5a" stroke-width="0.9" />
<rect x="63.20" y="439.90" width="4.80" height="2.00" fill="#fff" />
<line x1="63.10" y1="438.30" x2="63.10" y2="443.50" stroke="#5a5a5a" stroke-width="1.0" />
<line x1="68.10" y1="438.30" x2="68.10" y2="443.50" stroke="#5a5a5a" stroke-width="1.0" />
<text x="58.64" y="437.20" font-size="6.4" fill="#111" font-family="Liberation Mono, monospace" textLength="13.92" lengthAdjust="spacingAndGlyphs" stroke="#111" stroke-width="0.2">F00099</text>
<line x1="82.40" y1="435.50" x2="82.40" y2="444.30" stroke="#5a5a5a" stroke-width="1.0" />
<g fill="none" stroke="#36aa46" stroke-width="0.69" opacity="1"><path d="M55.55 443.87H57.60V445.80H55.55ZM58.70 443.50000000000006V448.10M58.70 445.57H59.57M55.86 446.72V447.87H58.04"/></g>
<g fill="none" stroke="#36aa46" stroke-width="0.69" opacity="1"><path d="M60.04 443.96H63.53M61.79 443.96L60.26 445.80M61.79 444.19L63.45 445.80M59.60 446.54H63.97M61.79 446.54V448.10"/></g>
<text x="66.40" y="447.90" font-size="5.8" fill="#36aa46" font-family="Liberation Mono, monospace" textLength="5.40" lengthAdjust="spacingAndGlyphs" stroke="#36aa46" stroke-width="0.2">ON</text>
<text x="91.45" y="440.80" font-size="5.6" fill="#5a5a5a" font-family="Liberation Mono, monospace" textLength="4.60" lengthAdjust="spacingAndGlyphs" stroke="#5a5a5a" stroke-width="0.2">&lt;&gt;</text>
<text x="114.94" y="440.80" font-size="6.4" fill="#111" font-family="Liberation Mono, monospace" textLength="13.92" lengthAdjust="spacingAndGlyphs" stroke="#111" stroke-width="0.2">D00044</text>
<text x="143.09" y="440.80" font-size="6.4" fill="#111" font-family="Liberation Mono, monospace" textLength="13.92" lengthAdjust="spacingAndGlyphs" stroke="#111" stroke-width="0.2">D00046</text>
<text x="114.00" y="448.40" font-size="5.8" fill="#36aa46" font-family="Liberation Mono, monospace" textLength="15.80" lengthAdjust="spacingAndGlyphs" stroke="#36aa46" stroke-width="0.2">TC#3_SV</text>
<text x="141.85" y="448.40" font-size="5.8" fill="#36aa46" font-family="Liberation Mono, monospace" textLength="18.40" lengthAdjust="spacingAndGlyphs" stroke="#36aa46" stroke-width="0.2">TC#3_SSV</text>
<line x1="162.00" y1="435.50" x2="162.00" y2="444.30" stroke="#5a5a5a" stroke-width="1.0" />
<line x1="162.00" y1="440.90" x2="333.60" y2="440.90" stroke="#5a5a5a" stroke-width="0.9" />
<rect x="175.80" y="439.90" width="4.80" height="2.00" fill="#fff" />
<line x1="175.70" y1="438.30" x2="175.70" y2="443.50" stroke="#5a5a5a" stroke-width="1.0" />
<line x1="180.70" y1="438.30" x2="180.70" y2="443.50" stroke="#5a5a5a" stroke-width="1.0" />
<text x="171.24" y="437.20" font-size="6.4" fill="#111" font-family="Liberation Mono, monospace" textLength="13.92" lengthAdjust="spacingAndGlyphs" stroke="#111" stroke-width="0.2">M00020</text>
<text x="170.60" y="448.40" font-size="5.8" fill="#36aa46" font-family="Liberation Mono, monospace" textLength="16.40" lengthAdjust="spacingAndGlyphs" stroke="#36aa46" stroke-width="0.2">D1#3.0 -</text>
<text x="177.20" y="452.80" font-size="5.8" fill="#36aa46" font-family="Liberation Mono, monospace" textLength="6.40" lengthAdjust="spacingAndGlyphs" stroke="#36aa46" stroke-width="0.2">R/L</text>
<rect x="316.60" y="439.90" width="6.00" height="2.00" fill="#fff" />
<path d="M317.60 438.30Q315.20 440.90 317.60 443.50" fill="none" stroke="#5a5a5a" stroke-width="0.9" />
<path d="M321.60 438.30Q324.00 440.90 321.60 443.50" fill="none" stroke="#5a5a5a" stroke-width="0.9" />
<text x="318.30" y="442.80" font-size="5.2" fill="#333" font-family="Liberation Mono, monospace" textLength="2.60" lengthAdjust="spacingAndGlyphs" stroke="#333" stroke-width="0.15">S</text>
<text x="312.64" y="437.20" font-size="6.4" fill="#111" font-family="Liberation Mono, monospace" textLength="13.92" lengthAdjust="spacingAndGlyphs" stroke="#111" stroke-width="0.2">M00203</text>
<path d="M79.6 440.90V461.60Q79.6 463.10 81.1 463.10H333.6" fill="none" stroke="#5a5a5a" stroke-width="0.9" />
<rect x="91.35" y="462.10" width="4.80" height="2.00" fill="#fff" />
<line x1="91.25" y1="460.50" x2="91.25" y2="465.70" stroke="#5a5a5a" stroke-width="1.0" />
<line x1="96.25" y1="460.50" x2="96.25" y2="465.70" stroke="#5a5a5a" stroke-width="1.0" />
<line x1="92.25" y1="465.70" x2="95.25" y2="460.50" stroke="#5a5a5a" stroke-width="0.8" />
<text x="86.79" y="459.40" font-size="6.4" fill="#111" font-family="Liberation Mono, monospace" textLength="13.92" lengthAdjust="spacingAndGlyphs" stroke="#111" stroke-width="0.2">M00200</text>
<rect x="119.50" y="462.10" width="4.80" height="2.00" fill="#fff" />
<line x1="119.40" y1="460.50" x2="119.40" y2="465.70" stroke="#5a5a5a" stroke-width="1.0" />
<line x1="124.40" y1="460.50" x2="124.40" y2="465.70" stroke="#5a5a5a" stroke-width="1.0" />
<text x="114.94" y="459.40" font-size="6.4" fill="#111" font-family="Liberation Mono, monospace" textLength="13.92" lengthAdjust="spacingAndGlyphs" stroke="#111" stroke-width="0.2">M00203</text>
<rect x="316.60" y="462.10" width="6.00" height="2.00" fill="#fff" />
<path d="M317.60 460.50Q315.20 463.10 317.60 465.70" fill="none" stroke="#5a5a5a" stroke-width="0.9" />
<path d="M321.60 460.50Q324.00 463.10 321.60 465.70" fill="none" stroke="#5a5a5a" stroke-width="0.9" />
<text x="318.30" y="465.00" font-size="5.2" fill="#333" font-family="Liberation Mono, monospace" textLength="2.60" lengthAdjust="spacingAndGlyphs" stroke="#333" stroke-width="0.15">R</text>
<text x="312.64" y="459.40" font-size="6.4" fill="#111" font-family="Liberation Mono, monospace" textLength="13.92" lengthAdjust="spacingAndGlyphs" stroke="#111" stroke-width="0.2">M00203</text>
<line x1="51.00" y1="479.05" x2="82.40" y2="479.05" stroke="#5a5a5a" stroke-width="0.9" />
<rect x="63.20" y="478.05" width="4.80" height="2.00" fill="#fff" />
<line x1="63.10" y1="476.45" x2="63.10" y2="481.65" stroke="#5a5a5a" stroke-width="1.0" />
<line x1="68.10" y1="476.45" x2="68.10" y2="481.65" stroke="#5a5a5a" stroke-width="1.0" />
<text x="58.64" y="475.35" font-size="6.4" fill="#111" font-family="Liberation Mono, monospace" textLength="13.92" lengthAdjust="spacingAndGlyphs" stroke="#111" stroke-width="0.2">F00099</text>
<line x1="82.40" y1="473.65" x2="82.40" y2="482.45" stroke="#5a5a5a" stroke-width="1.0" />
<g fill="none" stroke="#36aa46" stroke-width="0.69" opacity="1"><path d="M55.55 482.02H57.60V483.95H55.55ZM58.70 481.65000000000003V486.25M58.70 483.72H59.57M55.86 484.87V486.02H58.04"/></g>
<g fill="none" stroke="#36aa46" stroke-width="0.69" opacity="1"><path d="M60.04 482.11H63.53M61.79 482.11L60.26 483.95M61.79 482.34L63.45 483.95M59.60 484.69H63.97M61.79 484.69V486.25"/></g>
<text x="66.40" y="486.05" font-size="5.8" fill="#36aa46" font-family="Liberation Mono, monospace" textLength="5.40" lengthAdjust="spacingAndGlyphs" stroke="#36aa46" stroke-width="0.2">ON</text>
<text x="91.45" y="478.95" font-size="5.6" fill="#5a5a5a" font-family="Liberation Mono, monospace" textLength="4.60" lengthAdjust="spacingAndGlyphs" stroke="#5a5a5a" stroke-width="0.2">&lt;&gt;</text>
<text x="114.94" y="478.95" font-size="6.4" fill="#111" font-family="Liberation Mono, monospace" textLength="13.92" lengthAdjust="spacingAndGlyphs" stroke="#111" stroke-width="0.2">D00050</text>
<text x="143.09" y="478.95" font-size="6.4" fill="#111" font-family="Liberation Mono, monospace" textLength="13.92" lengthAdjust="spacingAndGlyphs" stroke="#111" stroke-width="0.2">D00052</text>
<text x="114.00" y="486.55" font-size="5.8" fill="#36aa46" font-family="Liberation Mono, monospace" textLength="15.80" lengthAdjust="spacingAndGlyphs" stroke="#36aa46" stroke-width="0.2">TC#4_SV</text>
<text x="141.85" y="486.55" font-size="5.8" fill="#36aa46" font-family="Liberation Mono, monospace" textLength="18.40" lengthAdjust="spacingAndGlyphs" stroke="#36aa46" stroke-width="0.2">TC#4_SSV</text>
<line x1="162.00" y1="473.65" x2="162.00" y2="482.45" stroke="#5a5a5a" stroke-width="1.0" />
<line x1="162.00" y1="479.05" x2="333.60" y2="479.05" stroke="#5a5a5a" stroke-width="0.9" />
<rect x="175.80" y="478.05" width="4.80" height="2.00" fill="#fff" />
<line x1="175.70" y1="476.45" x2="175.70" y2="481.65" stroke="#5a5a5a" stroke-width="1.0" />
<line x1="180.70" y1="476.45" x2="180.70" y2="481.65" stroke="#5a5a5a" stroke-width="1.0" />
<text x="171.24" y="475.35" font-size="6.4" fill="#111" font-family="Liberation Mono, monospace" textLength="13.92" lengthAdjust="spacingAndGlyphs" stroke="#111" stroke-width="0.2">M00020</text>
<text x="170.60" y="486.55" font-size="5.8" fill="#36aa46" font-family="Liberation Mono, monospace" textLength="16.40" lengthAdjust="spacingAndGlyphs" stroke="#36aa46" stroke-width="0.2">D1#4.0 -</text>
<text x="177.20" y="490.95" font-size="5.8" fill="#36aa46" font-family="Liberation Mono, monospace" textLength="6.40" lengthAdjust="spacingAndGlyphs" stroke="#36aa46" stroke-width="0.2">R/L</text>
<rect x="316.60" y="478.05" width="6.00" height="2.00" fill="#fff" />
<path d="M317.60 476.45Q315.20 479.05 317.60 481.65" fill="none" stroke="#5a5a5a" stroke-width="0.9" />
<path d="M321.60 476.45Q324.00 479.05 321.60 481.65" fill="none" stroke="#5a5a5a" stroke-width="0.9" />
<text x="318.30" y="480.95" font-size="5.2" fill="#333" font-family="Liberation Mono, monospace" textLength="2.60" lengthAdjust="spacingAndGlyphs" stroke="#333" stroke-width="0.15">S</text>
<text x="312.64" y="475.35" font-size="6.4" fill="#111" font-family="Liberation Mono, monospace" textLength="13.92" lengthAdjust="spacingAndGlyphs" stroke="#111" stroke-width="0.2">M00204</text>
<path d="M79.6 479.05V499.75Q79.6 501.25 81.1 501.25H333.6" fill="none" stroke="#5a5a5a" stroke-width="0.9" />
<rect x="91.35" y="500.25" width="4.80" height="2.00" fill="#fff" />
<line x1="91.25" y1="498.65" x2="91.25" y2="503.85" stroke="#5a5a5a" stroke-width="1.0" />
<line x1="96.25" y1="498.65" x2="96.25" y2="503.85" stroke="#5a5a5a" stroke-width="1.0" />
<line x1="92.25" y1="503.85" x2="95.25" y2="498.65" stroke="#5a5a5a" stroke-width="0.8" />
<text x="86.79" y="497.55" font-size="6.4" fill="#111" font-family="Liberation Mono, monospace" textLength="13.92" lengthAdjust="spacingAndGlyphs" stroke="#111" stroke-width="0.2">M00200</text>
<rect x="119.50" y="500.25" width="4.80" height="2.00" fill="#fff" />
<line x1="119.40" y1="498.65" x2="119.40" y2="503.85" stroke="#5a5a5a" stroke-width="1.0" />
<line x1="124.40" y1="498.65" x2="124.40" y2="503.85" stroke="#5a5a5a" stroke-width="1.0" />
<text x="114.94" y="497.55" font-size="6.4" fill="#111" font-family="Liberation Mono, monospace" textLength="13.92" lengthAdjust="spacingAndGlyphs" stroke="#111" stroke-width="0.2">M00204</text>
<rect x="316.60" y="500.25" width="6.00" height="2.00" fill="#fff" />
<path d="M317.60 498.65Q315.20 501.25 317.60 503.85" fill="none" stroke="#5a5a5a" stroke-width="0.9" />
<path d="M321.60 498.65Q324.00 501.25 321.60 503.85" fill="none" stroke="#5a5a5a" stroke-width="0.9" />
<text x="318.30" y="503.15" font-size="5.2" fill="#333" font-family="Liberation Mono, monospace" textLength="2.60" lengthAdjust="spacingAndGlyphs" stroke="#333" stroke-width="0.15">R</text>
<text x="312.64" y="497.55" font-size="6.4" fill="#111" font-family="Liberation Mono, monospace" textLength="13.92" lengthAdjust="spacingAndGlyphs" stroke="#111" stroke-width="0.2">M00204</text>
<line x1="51.00" y1="517.20" x2="82.40" y2="517.20" stroke="#5a5a5a" stroke-width="0.9" />
<rect x="63.20" y="516.20" width="4.80" height="2.00" fill="#fff" />
<line x1="63.10" y1="514.60" x2="63.10" y2="519.80" stroke="#5a5a5a" stroke-width="1.0" />
<line x1="68.10" y1="514.60" x2="68.10" y2="519.80" stroke="#5a5a5a" stroke-width="1.0" />
<text x="58.64" y="513.50" font-size="6.4" fill="#111" font-family="Liberation Mono, monospace" textLength="13.92" lengthAdjust="spacingAndGlyphs" stroke="#111" stroke-width="0.2">F00099</text>
<line x1="82.40" y1="511.80" x2="82.40" y2="520.60" stroke="#5a5a5a" stroke-width="1.0" />
<g fill="none" stroke="#36aa46" stroke-width="0.69" opacity="1"><path d="M55.55 520.17H57.60V522.10H55.55ZM58.70 519.8000000000001V524.40M58.70 521.87H59.57M55.86 523.02V524.17H58.04"/></g>
<g fill="none" stroke="#36aa46" stroke-width="0.69" opacity="1"><path d="M60.04 520.26H63.53M61.79 520.26L60.26 522.10M61.79 520.49L63.45 522.10M59.60 522.84H63.97M61.79 522.84V524.40"/></g>
<text x="66.40" y="524.20" font-size="5.8" fill="#36aa46" font-family="Liberation Mono, monospace" textLength="5.40" lengthAdjust="spacingAndGlyphs" stroke="#36aa46" stroke-width="0.2">ON</text>
<text x="91.45" y="517.10" font-size="5.6" fill="#5a5a5a" font-family="Liberation Mono, monospace" textLength="4.60" lengthAdjust="spacingAndGlyphs" stroke="#5a5a5a" stroke-width="0.2">&lt;&gt;</text>
<text x="114.94" y="517.10" font-size="6.4" fill="#111" font-family="Liberation Mono, monospace" textLength="13.92" lengthAdjust="spacingAndGlyphs" stroke="#111" stroke-width="0.2">D00056</text>
<text x="143.09" y="517.10" font-size="6.4" fill="#111" font-family="Liberation Mono, monospace" textLength="13.92" lengthAdjust="spacingAndGlyphs" stroke="#111" stroke-width="0.2">D00058</text>
<text x="114.00" y="524.70" font-size="5.8" fill="#36aa46" font-family="Liberation Mono, monospace" textLength="15.80" lengthAdjust="spacingAndGlyphs" stroke="#36aa46" stroke-width="0.2">TC#5_SV</text>
<text x="141.85" y="524.70" font-size="5.8" fill="#36aa46" font-family="Liberation Mono, monospace" textLength="18.40" lengthAdjust="spacingAndGlyphs" stroke="#36aa46" stroke-width="0.2">TC#5_SSV</text>
<line x1="162.00" y1="511.80" x2="162.00" y2="520.60" stroke="#5a5a5a" stroke-width="1.0" />
<line x1="162.00" y1="517.20" x2="333.60" y2="517.20" stroke="#5a5a5a" stroke-width="0.9" />
<rect x="175.80" y="516.20" width="4.80" height="2.00" fill="#fff" />
<line x1="175.70" y1="514.60" x2="175.70" y2="519.80" stroke="#5a5a5a" stroke-width="1.0" />
<line x1="180.70" y1="514.60" x2="180.70" y2="519.80" stroke="#5a5a5a" stroke-width="1.0" />
<text x="171.24" y="513.50" font-size="6.4" fill="#111" font-family="Liberation Mono, monospace" textLength="13.92" lengthAdjust="spacingAndGlyphs" stroke="#111" stroke-width="0.2">M00020</text>
<text x="170.60" y="524.70" font-size="5.8" fill="#36aa46" font-family="Liberation Mono, monospace" textLength="16.40" lengthAdjust="spacingAndGlyphs" stroke="#36aa46" stroke-width="0.2">D1#5.0 -</text>
<text x="177.20" y="529.10" font-size="5.8" fill="#36aa46" font-family="Liberation Mono, monospace" textLength="6.40" lengthAdjust="spacingAndGlyphs" stroke="#36aa46" stroke-width="0.2">R/L</text>
<rect x="316.60" y="516.20" width="6.00" height="2.00" fill="#fff" />
<path d="M317.60 514.60Q315.20 517.20 317.60 519.80" fill="none" stroke="#5a5a5a" stroke-width="0.9" />
<path d="M321.60 514.60Q324.00 517.20 321.60 519.80" fill="none" stroke="#5a5a5a" stroke-width="0.9" />
<text x="318.30" y="519.10" font-size="5.2" fill="#333" font-family="Liberation Mono, monospace" textLength="2.60" lengthAdjust="spacingAndGlyphs" stroke="#333" stroke-width="0.15">S</text>
<text x="312.64" y="513.50" font-size="6.4" fill="#111" font-family="Liberation Mono, monospace" textLength="13.92" lengthAdjust="spacingAndGlyphs" stroke="#111" stroke-width="0.2">M00205</text>
<line x1="79.60" y1="517.20" x2="79.60" y2="529.00" stroke="#5a5a5a" stroke-width="0.9" />
<rect x="354.40" y="308.40" width="8.20" height="221.00" fill="#f3f3f3" />
<path d="M357.0 314.0l1.6-2.2l1.6 2.2z" fill="#666" />
<path d="M357.0 524.4l1.6 2.2l1.6-2.2z" fill="#666" />
<rect x="355.20" y="317.40" width="6.60" height="38.60" fill="#e6e6e6" stroke="#a3a3a3" stroke-width="0.6" rx="1.2" />
<line x1="357.00" y1="335.80" x2="360.20" y2="335.80" stroke="#8a8a8a" stroke-width="0.4" />
<line x1="357.00" y1="337.00" x2="360.20" y2="337.00" stroke="#8a8a8a" stroke-width="0.4" />
<line x1="357.00" y1="338.20" x2="360.20" y2="338.20" stroke="#8a8a8a" stroke-width="0.4" />
<rect x="27.80" y="529.60" width="334.80" height="7.00" fill="#f3f3f3" />
<path d="M31.6 531.6l-2 1.5l2 1.5z" fill="#666" />
<path d="M350.6 531.6l2 1.5l-2 1.5z" fill="#666" />
<rect x="34.60" y="530.40" width="200.00" height="5.60" fill="#e4e4e4" stroke="#a3a3a3" stroke-width="0.6" rx="1.2" />
<rect x="154.40" y="404.30" width="211.60" height="136.30" fill="#000" rx="2" opacity="0.1" />
<rect x="155.40" y="404.90" width="209.20" height="134.50" fill="#bad3ee" rx="1.2" />
<rect x="155.70" y="405.20" width="208.60" height="133.90" fill="none" stroke="#d3e2f4" stroke-width="0.6" rx="1.2" />
<rect x="156.00" y="405.50" width="208.00" height="11.00" fill="url(#tb7)" />
<path d="M158.6 413.8l1.0-4.6l2.6 1.0l1.6 3.6z" fill="#c8b060" stroke="#555" stroke-width="0.5" />
<rect x="158.60" y="412.60" width="5.20" height="1.60" fill="#444" />
<text x="166.60" y="413.60" font-size="6.4" fill="#222" font-family="Liberation Sans, sans-serif" textLength="6.00" lengthAdjust="spacingAndGlyphs" stroke="#222" stroke-width="0.15">AI(</text>
<g fill="none" stroke="#222" stroke-width="0.72" opacity="1"><path d="M173.16 408.98H175.31V411.00H173.16ZM176.45 408.6V413.40M176.45 410.76H177.36M173.48 411.96V413.16H175.76"/></g>
<g fill="none" stroke="#222" stroke-width="0.72" opacity="1"><path d="M177.36 409.08H181.00M179.18 409.08L177.58 411.00M179.18 409.32L180.91 411.00M176.90 411.77H181.46M179.18 411.77V413.40"/></g>
<g fill="none" stroke="#222" stroke-width="0.72" opacity="1"><circle cx="182.46" cy="410.42" r="0.96"/><path d="M181.23 408.98H183.74M184.65 408.6V411.58M183.51 410.04H184.65"/><circle cx="183.28" cy="412.63" r="0.72"/></g>
<g fill="none" stroke="#222" stroke-width="0.72" opacity="1"><path d="M185.46 408.98H187.61V411.00H185.46ZM188.75 408.6V413.40M188.75 410.76H189.66M185.78 411.96V413.16H188.06"/></g>
<text x="189.60" y="413.60" font-size="6.4" fill="#222" font-family="Liberation Sans, sans-serif" textLength="1.80" lengthAdjust="spacingAndGlyphs" stroke="#222" stroke-width="0.15">)</text>
<rect x="325.50" y="407.40" width="11.00" height="6.00" fill="#a3bfe2" stroke="#7696c0" stroke-width="0.6" rx="1.2" />
<rect x="326.00" y="407.90" width="10.00" height="2.70" fill="#cfdff2" rx="0.8" />
<rect x="337.80" y="407.40" width="11.00" height="6.00" fill="#a3bfe2" stroke="#7696c0" stroke-width="0.6" rx="1.2" />
<rect x="338.30" y="407.90" width="10.00" height="2.70" fill="#cfdff2" rx="0.8" />
<rect x="329.00" y="410.40" width="4.00" height="1.60" fill="#eef2f8" stroke="#5f7696" stroke-width="0.45" />
<rect x="341.40" y="409.10" width="3.80" height="2.60" fill="#e4ecf6" stroke="#5f7696" stroke-width="0.6" />
<rect x="350.00" y="407.40" width="11.60" height="6.00" fill="#c23a2e" stroke="#8f3a36" stroke-width="0.6" rx="1.2" />
<rect x="350.50" y="407.90" width="10.60" height="2.70" fill="#de877c" rx="0.8" />
<path d="M354.50 409.40L357.10 411.40M357.10 409.40L354.50 411.40" fill="none" stroke="#6a2a26" stroke-width="1.9" />
<path d="M354.50 409.40L357.10 411.40M357.10 409.40L354.50 411.40" fill="none" stroke="#fff" stroke-width="1.0" />
<rect x="157.80" y="416.20" width="204.20" height="120.80" fill="#f0f0f0" />
<rect x="158.00" y="416.40" width="204.00" height="107.52" fill="#fff" />
<rect x="158.00" y="416.40" width="204.00" height="7.20" fill="#ececec" />
<rect x="158.00" y="423.60" width="14.60" height="100.32" fill="#ececec" />
<rect x="250.80" y="423.60" width="101.80" height="94.05" fill="#eeeeee" />
<line x1="158.00" y1="416.40" x2="158.00" y2="523.92" stroke="#8f8f8f" stroke-width="0.6" />
<line x1="172.60" y1="416.40" x2="172.60" y2="523.92" stroke="#8f8f8f" stroke-width="0.6" />
<line x1="211.40" y1="416.40" x2="211.40" y2="523.92" stroke="#8f8f8f" stroke-width="0.6" />
<line x1="250.80" y1="416.40" x2="250.80" y2="523.92" stroke="#8f8f8f" stroke-width="0.6" />
<line x1="279.40" y1="416.40" x2="279.40" y2="523.92" stroke="#8f8f8f" stroke-width="0.6" />
<line x1="310.80" y1="416.40" x2="310.80" y2="523.92" stroke="#8f8f8f" stroke-width="0.6" />
<line x1="327.00" y1="416.40" x2="327.00" y2="523.92" stroke="#8f8f8f" stroke-width="0.6" />
<line x1="352.60" y1="416.40" x2="352.60" y2="523.92" stroke="#8f8f8f" stroke-width="0.6" />
<line x1="172.60" y1="416.40" x2="172.60" y2="423.60" stroke="#555" stroke-width="0.9" />
<line x1="211.40" y1="416.40" x2="211.40" y2="423.60" stroke="#555" stroke-width="0.9" />
<line x1="250.80" y1="416.40" x2="250.80" y2="423.60" stroke="#555" stroke-width="0.9" />
<line x1="279.40" y1="416.40" x2="279.40" y2="423.60" stroke="#555" stroke-width="0.9" />
<line x1="310.80" y1="416.40" x2="310.80" y2="423.60" stroke="#555" stroke-width="0.9" />
<line x1="327.00" y1="416.40" x2="327.00" y2="423.60" stroke="#555" stroke-width="0.9" />
<line x1="352.60" y1="416.40" x2="352.60" y2="423.60" stroke="#555" stroke-width="0.9" />
<line x1="158.00" y1="416.40" x2="362.00" y2="416.40" stroke="#777" stroke-width="0.7" />
<line x1="158.00" y1="423.60" x2="362.00" y2="423.60" stroke="#777" stroke-width="0.8" />
<line x1="158.00" y1="429.87" x2="362.00" y2="429.87" stroke="#a6a6a6" stroke-width="0.55" />
<line x1="158.00" y1="436.14" x2="362.00" y2="436.14" stroke="#a6a6a6" stroke-width="0.55" />
<line x1="158.00" y1="442.41" x2="362.00" y2="442.41" stroke="#a6a6a6" stroke-width="0.55" />
<line x1="158.00" y1="448.68" x2="362.00" y2="448.68" stroke="#a6a6a6" stroke-width="0.55" />
<line x1="158.00" y1="454.95" x2="362.00" y2="454.95" stroke="#a6a6a6" stroke-width="0.55" />
<line x1="158.00" y1="461.22" x2="362.00" y2="461.22" stroke="#a6a6a6" stroke-width="0.55" />
<line x1="158.00" y1="467.49" x2="362.00" y2="467.49" stroke="#a6a6a6" stroke-width="0.55" />
<line x1="158.00" y1="473.76" x2="362.00" y2="473.76" stroke="#a6a6a6" stroke-width="0.55" />
<line x1="158.00" y1="480.03" x2="362.00" y2="480.03" stroke="#a6a6a6" stroke-width="0.55" />
<line x1="158.00" y1="486.30" x2="362.00" y2="486.30" stroke="#a6a6a6" stroke-width="0.55" />
<line x1="158.00" y1="492.57" x2="362.00" y2="492.57" stroke="#a6a6a6" stroke-width="0.55" />
<line x1="158.00" y1="498.84" x2="362.00" y2="498.84" stroke="#a6a6a6" stroke-width="0.55" />
<line x1="158.00" y1="505.11" x2="362.00" y2="505.11" stroke="#a6a6a6" stroke-width="0.55" />
<line x1="158.00" y1="511.38" x2="362.00" y2="511.38" stroke="#a6a6a6" stroke-width="0.55" />
<line x1="158.00" y1="517.65" x2="362.00" y2="517.65" stroke="#a6a6a6" stroke-width="0.55" />
<line x1="158.00" y1="523.92" x2="362.00" y2="523.92" stroke="#a6a6a6" stroke-width="0.55" />
<g fill="none" stroke="#111" stroke-width="0.72" opacity="1"><circle cx="182.86" cy="419.42" r="0.96"/><path d="M181.63 417.98H184.14M185.05 417.6V420.58M183.91 419.04H185.05"/><circle cx="183.68" cy="421.63" r="0.72"/></g>
<g fill="none" stroke="#111" stroke-width="0.72" opacity="1"><path d="M186.36 417.98H188.51V420.00H186.36ZM189.65 417.6V422.40M189.65 419.76H190.56M186.68 420.96V422.16H188.96"/></g>
<g fill="none" stroke="#111" stroke-width="0.72" opacity="1"><path d="M193.86 418.08H197.50M195.68 418.08L194.08 420.00M195.68 418.32L197.41 420.00M193.40 420.77H197.96M195.68 420.77V422.40"/></g>
<g fill="none" stroke="#111" stroke-width="0.72" opacity="1"><circle cx="199.46" cy="419.42" r="0.96"/><path d="M198.23 417.98H200.74M201.65 417.6V420.58M200.51 419.04H201.65"/><circle cx="200.28" cy="421.63" r="0.72"/></g>
<g fill="none" stroke="#111" stroke-width="0.72" opacity="1"><circle cx="227.46" cy="419.42" r="0.96"/><path d="M226.23 417.98H228.74M229.65 417.6V420.58M228.51 419.04H229.65"/><circle cx="228.28" cy="421.63" r="0.72"/></g>
<g fill="none" stroke="#111" stroke-width="0.72" opacity="1"><path d="M230.96 417.98H233.11V420.00H230.96ZM234.25 417.6V422.40M234.25 419.76H235.16M231.28 420.96V422.16H233.56"/></g>
<g fill="none" stroke="#111" stroke-width="0.72" opacity="1"><path d="M260.96 417.98H263.11V420.00H260.96ZM264.25 417.6V422.40M264.25 419.76H265.16M261.28 420.96V422.16H263.56"/></g>
<g fill="none" stroke="#111" stroke-width="0.72" opacity="1"><path d="M265.66 418.08H269.30M267.48 418.08L265.88 420.00M267.48 418.32L269.21 420.00M265.20 420.77H269.76M267.48 420.77V422.40"/></g>
<g fill="none" stroke="#111" stroke-width="0.72" opacity="1"><path d="M286.36 417.98H288.51V420.00H286.36ZM289.65 417.6V422.40M289.65 419.76H290.56M286.68 420.96V422.16H288.96"/></g>
<g fill="none" stroke="#111" stroke-width="0.72" opacity="1"><path d="M290.96 418.08H294.60M292.78 418.08L291.18 420.00M292.78 418.32L294.51 420.00M290.50 420.77H295.06M292.78 420.77V422.40"/></g>
<g fill="none" stroke="#111" stroke-width="0.72" opacity="1"><circle cx="296.46" cy="419.42" r="0.96"/><path d="M295.23 417.98H297.74M298.65 417.6V420.58M297.51 419.04H298.65"/><circle cx="297.28" cy="421.63" r="0.72"/></g>
<g fill="none" stroke="#111" stroke-width="0.72" opacity="1"><path d="M299.86 417.98H302.01V420.00H299.86ZM303.15 417.6V422.40M303.15 419.76H304.06M300.18 420.96V422.16H302.46"/></g>
<g fill="none" stroke="#111" stroke-width="0.72" opacity="1"><path d="M314.86 418.08H318.50M316.68 418.08L315.08 420.00M316.68 418.32L318.41 420.00M314.40 420.77H318.96M316.68 420.77V422.40"/></g>
<g fill="none" stroke="#111" stroke-width="0.72" opacity="1"><circle cx="320.36" cy="419.42" r="0.96"/><path d="M319.13 417.98H321.64M322.55 417.6V420.58M321.41 419.04H322.55"/><circle cx="321.18" cy="421.63" r="0.72"/></g>
<g fill="none" stroke="#111" stroke-width="0.72" opacity="1"><path d="M329.96 417.98H332.11V420.00H329.96ZM333.25 417.6V422.40M333.25 419.76H334.16M330.28 420.96V422.16H332.56"/></g>
<g fill="none" stroke="#111" stroke-width="0.72" opacity="1"><path d="M334.46 418.08H338.10M336.28 418.08L334.68 420.00M336.28 418.32L338.01 420.00M334.00 420.77H338.56M336.28 420.77V422.40"/></g>
<g fill="none" stroke="#111" stroke-width="0.72" opacity="1"><circle cx="342.06" cy="419.42" r="0.96"/><path d="M340.83 417.98H343.34M344.25 417.6V420.58M343.11 419.04H344.25"/><circle cx="342.88" cy="421.63" r="0.72"/></g>
<g fill="none" stroke="#111" stroke-width="0.72" opacity="1"><path d="M345.36 417.98H347.51V420.00H345.36ZM348.65 417.6V422.40M348.65 419.76H349.56M345.68 420.96V422.16H347.96"/></g>
<text x="159.20" y="428.67" font-size="6.0" fill="#333" font-family="Liberation Mono, monospace" textLength="2.40" lengthAdjust="spacingAndGlyphs" stroke="#333" stroke-width="0.1">1</text>
<text x="174.00" y="428.67" font-size="6.0" fill="#333" font-family="Liberation Mono, monospace" textLength="27.40" lengthAdjust="spacingAndGlyphs" stroke="#333" stroke-width="0.14">VAR_EXTERNAL</text>
<text x="213.80" y="428.67" font-size="6.0" fill="#333" font-family="Liberation Mono, monospace" textLength="24.64" lengthAdjust="spacingAndGlyphs" stroke="#333" stroke-width="0.14">_06_CH0_ACT</text>
<text x="252.40" y="428.67" font-size="6.0" fill="#333" font-family="Liberation Mono, monospace" textLength="6.60" lengthAdjust="spacingAndGlyphs" stroke="#333" stroke-width="0.14">BIT</text>
<text x="281.40" y="428.67" font-size="6.0" fill="#333" font-family="Liberation Mono, monospace" textLength="17.76" lengthAdjust="spacingAndGlyphs" stroke="#333" stroke-width="0.14">U06.01.0</text>
<rect x="337.60" y="424.47" width="3.60" height="3.60" fill="#fff" stroke="#666" stroke-width="0.6" />
<path d="M338.2 426.07l1 1.2l1.6-2.4" fill="none" stroke="#111" stroke-width="0.8" />
<text x="354.20" y="428.67" font-size="6.0" fill="#333" font-family="Liberation Mono, monospace" textLength="4.20" lengthAdjust="spacingAndGlyphs" stroke="#333" stroke-width="0.2">Ch</text>
<g fill="none" stroke="#333" stroke-width="0.66" opacity="1"><path d="M358.82 424.71H362.16M360.49 424.71L359.03 426.47M360.49 424.93L362.08 426.47M358.40 427.17H362.58M360.49 427.17V428.67"/></g>
<text x="159.20" y="434.94" font-size="6.0" fill="#333" font-family="Liberation Mono, monospace" textLength="2.40" lengthAdjust="spacingAndGlyphs" stroke="#333" stroke-width="0.1">2</text>
<text x="174.00" y="434.94" font-size="6.0" fill="#333" font-family="Liberation Mono, monospace" textLength="27.40" lengthAdjust="spacingAndGlyphs" stroke="#333" stroke-width="0.14">VAR_EXTERNAL</text>
<text x="213.80" y="434.94" font-size="6.0" fill="#333" font-family="Liberation Mono, monospace" textLength="26.88" lengthAdjust="spacingAndGlyphs" stroke="#333" stroke-width="0.14">_06_CH0_DATA</text>
<text x="252.40" y="434.94" font-size="6.0" fill="#333" font-family="Liberation Mono, monospace" textLength="9.60" lengthAdjust="spacingAndGlyphs" stroke="#333" stroke-width="0.14">WORD</text>
<text x="281.40" y="434.94" font-size="6.0" fill="#333" font-family="Liberation Mono, monospace" textLength="13.32" lengthAdjust="spacingAndGlyphs" stroke="#333" stroke-width="0.14">U06.02</text>
<rect x="337.60" y="430.74" width="3.60" height="3.60" fill="#fff" stroke="#666" stroke-width="0.6" />
<path d="M338.2 432.34l1 1.2l1.6-2.4" fill="none" stroke="#111" stroke-width="0.8" />
<text x="354.20" y="434.94" font-size="6.0" fill="#333" font-family="Liberation Mono, monospace" textLength="4.20" lengthAdjust="spacingAndGlyphs" stroke="#333" stroke-width="0.2">Ch</text>
<g fill="none" stroke="#333" stroke-width="0.66" opacity="1"><path d="M358.82 430.98H362.16M360.49 430.98L359.03 432.74M360.49 431.20L362.08 432.74M358.40 433.44H362.58M360.49 433.44V434.94"/></g>
<text x="159.20" y="441.21" font-size="6.0" fill="#333" font-family="Liberation Mono, monospace" textLength="2.40" lengthAdjust="spacingAndGlyphs" stroke="#333" stroke-width="0.1">3</text>
<text x="174.00" y="441.21" font-size="6.0" fill="#333" font-family="Liberation Mono, monospace" textLength="27.40" lengthAdjust="spacingAndGlyphs" stroke="#333" stroke-width="0.14">VAR_EXTERNAL</text>
<text x="213.80" y="441.21" font-size="6.0" fill="#333" font-family="Liberation Mono, monospace" textLength="24.64" lengthAdjust="spacingAndGlyphs" stroke="#333" stroke-width="0.14">_06_CH1_ACT</text>
<text x="252.40" y="441.21" font-size="6.0" fill="#333" font-family="Liberation Mono, monospace" textLength="6.60" lengthAdjust="spacingAndGlyphs" stroke="#333" stroke-width="0.14">BIT</text>
<text x="281.40" y="441.21" font-size="6.0" fill="#333" font-family="Liberation Mono, monospace" textLength="17.76" lengthAdjust="spacingAndGlyphs" stroke="#333" stroke-width="0.14">U06.01.1</text>
<rect x="337.60" y="437.01" width="3.60" height="3.60" fill="#fff" stroke="#666" stroke-width="0.6" />
<path d="M338.2 438.61l1 1.2l1.6-2.4" fill="none" stroke="#111" stroke-width="0.8" />
<text x="354.20" y="441.21" font-size="6.0" fill="#333" font-family="Liberation Mono, monospace" textLength="4.20" lengthAdjust="spacingAndGlyphs" stroke="#333" stroke-width="0.2">Ch</text>
<g fill="none" stroke="#333" stroke-width="0.66" opacity="1"><path d="M358.82 437.25H362.16M360.49 437.25L359.03 439.01M360.49 437.47L362.08 439.01M358.40 439.71H362.58M360.49 439.71V441.21"/></g>
<text x="159.20" y="447.48" font-size="6.0" fill="#333" font-family="Liberation Mono, monospace" textLength="2.40" lengthAdjust="spacingAndGlyphs" stroke="#333" stroke-width="0.1">4</text>
<text x="174.00" y="447.48" font-size="6.0" fill="#333" font-family="Liberation Mono, monospace" textLength="27.40" lengthAdjust="spacingAndGlyphs" stroke="#333" stroke-width="0.14">VAR_EXTERNAL</text>
<text x="213.80" y="447.48" font-size="6.0" fill="#333" font-family="Liberation Mono, monospace" textLength="26.88" lengthAdjust="spacingAndGlyphs" stroke="#333" stroke-width="0.14">_06_CH1_DATA</text>
<text x="252.40" y="447.48" font-size="6.0" fill="#333" font-family="Liberation Mono, monospace" textLength="9.60" lengthAdjust="spacingAndGlyphs" stroke="#333" stroke-width="0.14">WORD</text>
<text x="281.40" y="447.48" font-size="6.0" fill="#333" font-family="Liberation Mono, monospace" textLength="13.32" lengthAdjust="spacingAndGlyphs" stroke="#333" stroke-width="0.14">U06.03</text>
<rect x="337.60" y="443.28" width="3.60" height="3.60" fill="#fff" stroke="#666" stroke-width="0.6" />
<path d="M338.2 444.88l1 1.2l1.6-2.4" fill="none" stroke="#111" stroke-width="0.8" />
<text x="354.20" y="447.48" font-size="6.0" fill="#333" font-family="Liberation Mono, monospace" textLength="4.20" lengthAdjust="spacingAndGlyphs" stroke="#333" stroke-width="0.2">Ch</text>
<g fill="none" stroke="#333" stroke-width="0.66" opacity="1"><path d="M358.82 443.52H362.16M360.49 443.52L359.03 445.28M360.49 443.74L362.08 445.28M358.40 445.98H362.58M360.49 445.98V447.48"/></g>
<text x="159.20" y="453.75" font-size="6.0" fill="#333" font-family="Liberation Mono, monospace" textLength="2.40" lengthAdjust="spacingAndGlyphs" stroke="#333" stroke-width="0.1">5</text>
<text x="174.00" y="453.75" font-size="6.0" fill="#333" font-family="Liberation Mono, monospace" textLength="27.40" lengthAdjust="spacingAndGlyphs" stroke="#333" stroke-width="0.14">VAR_EXTERNAL</text>
<text x="213.80" y="453.75" font-size="6.0" fill="#333" font-family="Liberation Mono, monospace" textLength="15.68" lengthAdjust="spacingAndGlyphs" stroke="#333" stroke-width="0.14">_06_RDY</text>
<text x="252.40" y="453.75" font-size="6.0" fill="#333" font-family="Liberation Mono, monospace" textLength="6.60" lengthAdjust="spacingAndGlyphs" stroke="#333" stroke-width="0.14">BIT</text>
<text x="281.40" y="453.75" font-size="6.0" fill="#333" font-family="Liberation Mono, monospace" textLength="17.76" lengthAdjust="spacingAndGlyphs" stroke="#333" stroke-width="0.14">U06.00.F</text>
<rect x="337.60" y="449.55" width="3.60" height="3.60" fill="#fff" stroke="#666" stroke-width="0.6" />
<path d="M338.2 451.15l1 1.2l1.6-2.4" fill="none" stroke="#111" stroke-width="0.8" />
<text x="354.20" y="453.75" font-size="6.0" fill="#333" font-family="Liberation Mono, monospace" textLength="4.20" lengthAdjust="spacingAndGlyphs" stroke="#333" stroke-width="0.2">Ch</text>
<g fill="none" stroke="#333" stroke-width="0.66" opacity="1"><path d="M358.82 449.79H362.16M360.49 449.79L359.03 451.55M360.49 450.01L362.08 451.55M358.40 452.25H362.58M360.49 452.25V453.75"/></g>
<text x="159.20" y="460.02" font-size="6.0" fill="#333" font-family="Liberation Mono, monospace" textLength="2.40" lengthAdjust="spacingAndGlyphs" stroke="#333" stroke-width="0.1">6</text>
<text x="174.00" y="460.02" font-size="6.0" fill="#333" font-family="Liberation Mono, monospace" textLength="27.40" lengthAdjust="spacingAndGlyphs" stroke="#333" stroke-width="0.14">VAR_EXTERNAL</text>
<text x="213.80" y="460.02" font-size="6.0" fill="#333" font-family="Liberation Mono, monospace" textLength="26.88" lengthAdjust="spacingAndGlyphs" stroke="#333" stroke-width="0.14">_07_CH0_TEMP</text>
<text x="252.40" y="460.02" font-size="6.0" fill="#333" font-family="Liberation Mono, monospace" textLength="9.60" lengthAdjust="spacingAndGlyphs" stroke="#333" stroke-width="0.14">WORD</text>
<text x="281.40" y="460.02" font-size="6.0" fill="#333" font-family="Liberation Mono, monospace" textLength="13.32" lengthAdjust="spacingAndGlyphs" stroke="#333" stroke-width="0.14">U07.04</text>
<rect x="337.60" y="455.82" width="3.60" height="3.60" fill="#fff" stroke="#666" stroke-width="0.6" />
<path d="M338.2 457.42l1 1.2l1.6-2.4" fill="none" stroke="#111" stroke-width="0.8" />
<g fill="none" stroke="#333" stroke-width="0.69" opacity="1"><path d="M354.55 455.79H356.60V457.72H354.55ZM357.70 455.42V460.02M357.70 457.49H358.57M354.86 458.64V459.79H357.04"/></g>
<g fill="none" stroke="#333" stroke-width="0.69" opacity="1"><path d="M359.04 455.88H362.53M360.79 455.88L359.26 457.72M360.79 456.11L362.45 457.72M358.60 458.46H362.97M360.79 458.46V460.02"/></g>
<text x="159.20" y="466.29" font-size="6.0" fill="#333" font-family="Liberation Mono, monospace" textLength="2.40" lengthAdjust="spacingAndGlyphs" stroke="#333" stroke-width="0.1">7</text>
<text x="174.00" y="466.29" font-size="6.0" fill="#333" font-family="Liberation Mono, monospace" textLength="27.40" lengthAdjust="spacingAndGlyphs" stroke="#333" stroke-width="0.14">VAR_EXTERNAL</text>
<text x="213.80" y="466.29" font-size="6.0" fill="#333" font-family="Liberation Mono, monospace" textLength="26.88" lengthAdjust="spacingAndGlyphs" stroke="#333" stroke-width="0.14">_07_CH1_TEMP</text>
<text x="252.40" y="466.29" font-size="6.0" fill="#333" font-family="Liberation Mono, monospace" textLength="9.60" lengthAdjust="spacingAndGlyphs" stroke="#333" stroke-width="0.14">WORD</text>
<text x="281.40" y="466.29" font-size="6.0" fill="#333" font-family="Liberation Mono, monospace" textLength="13.32" lengthAdjust="spacingAndGlyphs" stroke="#333" stroke-width="0.14">U07.05</text>
<rect x="337.60" y="462.09" width="3.60" height="3.60" fill="#fff" stroke="#666" stroke-width="0.6" />
<path d="M338.2 463.69l1 1.2l1.6-2.4" fill="none" stroke="#111" stroke-width="0.8" />
<g fill="none" stroke="#333" stroke-width="0.69" opacity="1"><path d="M354.55 462.06H356.60V463.99H354.55ZM357.70 461.69V466.29M357.70 463.76H358.57M354.86 464.91V466.06H357.04"/></g>
<g fill="none" stroke="#333" stroke-width="0.69" opacity="1"><path d="M359.04 462.15H362.53M360.79 462.15L359.26 463.99M360.79 462.38L362.45 463.99M358.60 464.73H362.97M360.79 464.73V466.29"/></g>
<text x="159.20" y="472.56" font-size="6.0" fill="#333" font-family="Liberation Mono, monospace" textLength="2.40" lengthAdjust="spacingAndGlyphs" stroke="#333" stroke-width="0.1">8</text>
<text x="174.00" y="472.56" font-size="6.0" fill="#333" font-family="Liberation Mono, monospace" textLength="27.40" lengthAdjust="spacingAndGlyphs" stroke="#333" stroke-width="0.14">VAR_EXTERNAL</text>
<text x="213.80" y="472.56" font-size="6.0" fill="#333" font-family="Liberation Mono, monospace" textLength="26.88" lengthAdjust="spacingAndGlyphs" stroke="#333" stroke-width="0.14">_07_CH2_TEMP</text>
<text x="252.40" y="472.56" font-size="6.0" fill="#333" font-family="Liberation Mono, monospace" textLength="9.60" lengthAdjust="spacingAndGlyphs" stroke="#333" stroke-width="0.14">WORD</text>
<text x="281.40" y="472.56" font-size="6.0" fill="#333" font-family="Liberation Mono, monospace" textLength="13.32" lengthAdjust="spacingAndGlyphs" stroke="#333" stroke-width="0.14">U07.06</text>
<rect x="337.60" y="468.36" width="3.60" height="3.60" fill="#fff" stroke="#666" stroke-width="0.6" />
<path d="M338.2 469.96l1 1.2l1.6-2.4" fill="none" stroke="#111" stroke-width="0.8" />
<g fill="none" stroke="#333" stroke-width="0.69" opacity="1"><path d="M354.55 468.33H356.60V470.26H354.55ZM357.70 467.96V472.56M357.70 470.03H358.57M354.86 471.18V472.33H357.04"/></g>
<g fill="none" stroke="#333" stroke-width="0.69" opacity="1"><path d="M359.04 468.42H362.53M360.79 468.42L359.26 470.26M360.79 468.65L362.45 470.26M358.60 471.00H362.97M360.79 471.00V472.56"/></g>
<text x="159.20" y="478.83" font-size="6.0" fill="#333" font-family="Liberation Mono, monospace" textLength="2.40" lengthAdjust="spacingAndGlyphs" stroke="#333" stroke-width="0.1">9</text>
<text x="174.00" y="478.83" font-size="6.0" fill="#333" font-family="Liberation Mono, monospace" textLength="27.40" lengthAdjust="spacingAndGlyphs" stroke="#333" stroke-width="0.14">VAR_EXTERNAL</text>
<text x="213.80" y="478.83" font-size="6.0" fill="#333" font-family="Liberation Mono, monospace" textLength="26.88" lengthAdjust="spacingAndGlyphs" stroke="#333" stroke-width="0.14">_07_CH3_TEMP</text>
<text x="252.40" y="478.83" font-size="6.0" fill="#333" font-family="Liberation Mono, monospace" textLength="9.60" lengthAdjust="spacingAndGlyphs" stroke="#333" stroke-width="0.14">WORD</text>
<text x="281.40" y="478.83" font-size="6.0" fill="#333" font-family="Liberation Mono, monospace" textLength="13.32" lengthAdjust="spacingAndGlyphs" stroke="#333" stroke-width="0.14">U07.07</text>
<rect x="337.60" y="474.63" width="3.60" height="3.60" fill="#fff" stroke="#666" stroke-width="0.6" />
<path d="M338.2 476.23l1 1.2l1.6-2.4" fill="none" stroke="#111" stroke-width="0.8" />
<g fill="none" stroke="#333" stroke-width="0.69" opacity="1"><path d="M354.55 474.60H356.60V476.53H354.55ZM357.70 474.23V478.83M357.70 476.30H358.57M354.86 477.45V478.60H357.04"/></g>
<g fill="none" stroke="#333" stroke-width="0.69" opacity="1"><path d="M359.04 474.69H362.53M360.79 474.69L359.26 476.53M360.79 474.92L362.45 476.53M358.60 477.27H362.97M360.79 477.27V478.83"/></g>
<text x="159.20" y="485.10" font-size="6.0" fill="#333" font-family="Liberation Mono, monospace" textLength="4.80" lengthAdjust="spacingAndGlyphs" stroke="#333" stroke-width="0.1">10</text>
<text x="174.00" y="485.10" font-size="6.0" fill="#333" font-family="Liberation Mono, monospace" textLength="27.40" lengthAdjust="spacingAndGlyphs" stroke="#333" stroke-width="0.14">VAR_EXTERNAL</text>
<text x="213.80" y="485.10" font-size="6.0" fill="#333" font-family="Liberation Mono, monospace" textLength="15.68" lengthAdjust="spacingAndGlyphs" stroke="#333" stroke-width="0.14">_07_RDY</text>
<text x="252.40" y="485.10" font-size="6.0" fill="#333" font-family="Liberation Mono, monospace" textLength="6.60" lengthAdjust="spacingAndGlyphs" stroke="#333" stroke-width="0.14">BIT</text>
<text x="281.40" y="485.10" font-size="6.0" fill="#333" font-family="Liberation Mono, monospace" textLength="17.76" lengthAdjust="spacingAndGlyphs" stroke="#333" stroke-width="0.14">U07.00.F</text>
<rect x="337.60" y="480.90" width="3.60" height="3.60" fill="#fff" stroke="#666" stroke-width="0.6" />
<path d="M338.2 482.50l1 1.2l1.6-2.4" fill="none" stroke="#111" stroke-width="0.8" />
<g fill="none" stroke="#333" stroke-width="0.69" opacity="1"><path d="M354.55 480.87H356.60V482.80H354.55ZM357.70 480.5V485.10M357.70 482.57H358.57M354.86 483.72V484.87H357.04"/></g>
<g fill="none" stroke="#333" stroke-width="0.69" opacity="1"><path d="M359.04 480.96H362.53M360.79 480.96L359.26 482.80M360.79 481.19L362.45 482.80M358.60 483.54H362.97M360.79 483.54V485.10"/></g>
<text x="159.20" y="491.37" font-size="6.0" fill="#333" font-family="Liberation Mono, monospace" textLength="4.80" lengthAdjust="spacingAndGlyphs" stroke="#333" stroke-width="0.1">11</text>
<text x="174.00" y="491.37" font-size="6.0" fill="#333" font-family="Liberation Mono, monospace" textLength="27.40" lengthAdjust="spacingAndGlyphs" stroke="#333" stroke-width="0.14">VAR_EXTERNAL</text>
<text x="213.80" y="491.37" font-size="6.0" fill="#333" font-family="Liberation Mono, monospace" textLength="26.88" lengthAdjust="spacingAndGlyphs" stroke="#333" stroke-width="0.14">_08_CH0_TEMP</text>
<text x="252.40" y="491.37" font-size="6.0" fill="#333" font-family="Liberation Mono, monospace" textLength="9.60" lengthAdjust="spacingAndGlyphs" stroke="#333" stroke-width="0.14">WORD</text>
<text x="281.40" y="491.37" font-size="6.0" fill="#333" font-family="Liberation Mono, monospace" textLength="13.32" lengthAdjust="spacingAndGlyphs" stroke="#333" stroke-width="0.14">U08.04</text>
<rect x="337.60" y="487.17" width="3.60" height="3.60" fill="#fff" stroke="#666" stroke-width="0.6" />
<path d="M338.2 488.77l1 1.2l1.6-2.4" fill="none" stroke="#111" stroke-width="0.8" />
<g fill="none" stroke="#333" stroke-width="0.69" opacity="1"><path d="M354.55 487.14H356.60V489.07H354.55ZM357.70 486.77000000000004V491.37M357.70 488.84H358.57M354.86 489.99V491.14H357.04"/></g>
<g fill="none" stroke="#333" stroke-width="0.69" opacity="1"><path d="M359.04 487.23H362.53M360.79 487.23L359.26 489.07M360.79 487.46L362.45 489.07M358.60 489.81H362.97M360.79 489.81V491.37"/></g>
<text x="159.20" y="497.64" font-size="6.0" fill="#333" font-family="Liberation Mono, monospace" textLength="4.80" lengthAdjust="spacingAndGlyphs" stroke="#333" stroke-width="0.1">12</text>
<text x="174.00" y="497.64" font-size="6.0" fill="#333" font-family="Liberation Mono, monospace" textLength="27.40" lengthAdjust="spacingAndGlyphs" stroke="#333" stroke-width="0.14">VAR_EXTERNAL</text>
<text x="213.80" y="497.64" font-size="6.0" fill="#333" font-family="Liberation Mono, monospace" textLength="26.88" lengthAdjust="spacingAndGlyphs" stroke="#333" stroke-width="0.14">_08_CH1_TEMP</text>
<text x="252.40" y="497.64" font-size="6.0" fill="#333" font-family="Liberation Mono, monospace" textLength="9.60" lengthAdjust="spacingAndGlyphs" stroke="#333" stroke-width="0.14">WORD</text>
<text x="281.40" y="497.64" font-size="6.0" fill="#333" font-family="Liberation Mono, monospace" textLength="13.32" lengthAdjust="spacingAndGlyphs" stroke="#333" stroke-width="0.14">U08.05</text>
<rect x="337.60" y="493.44" width="3.60" height="3.60" fill="#fff" stroke="#666" stroke-width="0.6" />
<path d="M338.2 495.04l1 1.2l1.6-2.4" fill="none" stroke="#111" stroke-width="0.8" />
<g fill="none" stroke="#333" stroke-width="0.69" opacity="1"><path d="M354.55 493.41H356.60V495.34H354.55ZM357.70 493.04V497.64M357.70 495.11H358.57M354.86 496.26V497.41H357.04"/></g>
<g fill="none" stroke="#333" stroke-width="0.69" opacity="1"><path d="M359.04 493.50H362.53M360.79 493.50L359.26 495.34M360.79 493.73L362.45 495.34M358.60 496.08H362.97M360.79 496.08V497.64"/></g>
<text x="159.20" y="503.91" font-size="6.0" fill="#333" font-family="Liberation Mono, monospace" textLength="4.80" lengthAdjust="spacingAndGlyphs" stroke="#333" stroke-width="0.1">13</text>
<text x="174.00" y="503.91" font-size="6.0" fill="#333" font-family="Liberation Mono, monospace" textLength="27.40" lengthAdjust="spacingAndGlyphs" stroke="#333" stroke-width="0.14">VAR_EXTERNAL</text>
<text x="213.80" y="503.91" font-size="6.0" fill="#333" font-family="Liberation Mono, monospace" textLength="26.88" lengthAdjust="spacingAndGlyphs" stroke="#333" stroke-width="0.14">_08_CH2_TEMP</text>
<text x="252.40" y="503.91" font-size="6.0" fill="#333" font-family="Liberation Mono, monospace" textLength="9.60" lengthAdjust="spacingAndGlyphs" stroke="#333" stroke-width="0.14">WORD</text>
<text x="281.40" y="503.91" font-size="6.0" fill="#333" font-family="Liberation Mono, monospace" textLength="13.32" lengthAdjust="spacingAndGlyphs" stroke="#333" stroke-width="0.14">U08.06</text>
<rect x="337.60" y="499.71" width="3.60" height="3.60" fill="#fff" stroke="#666" stroke-width="0.6" />
<path d="M338.2 501.31l1 1.2l1.6-2.4" fill="none" stroke="#111" stroke-width="0.8" />
<g fill="none" stroke="#333" stroke-width="0.69" opacity="1"><path d="M354.55 499.68H356.60V501.61H354.55ZM357.70 499.31V503.91M357.70 501.38H358.57M354.86 502.53V503.68H357.04"/></g>
<g fill="none" stroke="#333" stroke-width="0.69" opacity="1"><path d="M359.04 499.77H362.53M360.79 499.77L359.26 501.61M360.79 500.00L362.45 501.61M358.60 502.35H362.97M360.79 502.35V503.91"/></g>
<text x="159.20" y="510.18" font-size="6.0" fill="#333" font-family="Liberation Mono, monospace" textLength="4.80" lengthAdjust="spacingAndGlyphs" stroke="#333" stroke-width="0.1">14</text>
<text x="174.00" y="510.18" font-size="6.0" fill="#333" font-family="Liberation Mono, monospace" textLength="27.40" lengthAdjust="spacingAndGlyphs" stroke="#333" stroke-width="0.14">VAR_EXTERNAL</text>
<text x="213.80" y="510.18" font-size="6.0" fill="#333" font-family="Liberation Mono, monospace" textLength="26.88" lengthAdjust="spacingAndGlyphs" stroke="#333" stroke-width="0.14">_08_CH3_TEMP</text>
<text x="252.40" y="510.18" font-size="6.0" fill="#333" font-family="Liberation Mono, monospace" textLength="9.60" lengthAdjust="spacingAndGlyphs" stroke="#333" stroke-width="0.14">WORD</text>
<text x="281.40" y="510.18" font-size="6.0" fill="#333" font-family="Liberation Mono, monospace" textLength="13.32" lengthAdjust="spacingAndGlyphs" stroke="#333" stroke-width="0.14">U08.07</text>
<rect x="337.60" y="505.98" width="3.60" height="3.60" fill="#fff" stroke="#666" stroke-width="0.6" />
<path d="M338.2 507.58l1 1.2l1.6-2.4" fill="none" stroke="#111" stroke-width="0.8" />
<g fill="none" stroke="#333" stroke-width="0.69" opacity="1"><path d="M354.55 505.95H356.60V507.88H354.55ZM357.70 505.58V510.18M357.70 507.65H358.57M354.86 508.80V509.95H357.04"/></g>
<g fill="none" stroke="#333" stroke-width="0.69" opacity="1"><path d="M359.04 506.04H362.53M360.79 506.04L359.26 507.88M360.79 506.27L362.45 507.88M358.60 508.62H362.97M360.79 508.62V510.18"/></g>
<text x="159.20" y="516.45" font-size="6.0" fill="#333" font-family="Liberation Mono, monospace" textLength="4.80" lengthAdjust="spacingAndGlyphs" stroke="#333" stroke-width="0.1">15</text>
<text x="174.00" y="516.45" font-size="6.0" fill="#333" font-family="Liberation Mono, monospace" textLength="27.40" lengthAdjust="spacingAndGlyphs" stroke="#333" stroke-width="0.14">VAR_EXTERNAL</text>
<text x="213.80" y="516.45" font-size="6.0" fill="#333" font-family="Liberation Mono, monospace" textLength="15.68" lengthAdjust="spacingAndGlyphs" stroke="#333" stroke-width="0.14">_08_RDY</text>
<text x="252.40" y="516.45" font-size="6.0" fill="#333" font-family="Liberation Mono, monospace" textLength="6.60" lengthAdjust="spacingAndGlyphs" stroke="#333" stroke-width="0.14">BIT</text>
<text x="281.40" y="516.45" font-size="6.0" fill="#333" font-family="Liberation Mono, monospace" textLength="17.76" lengthAdjust="spacingAndGlyphs" stroke="#333" stroke-width="0.14">U08.00.F</text>
<rect x="337.60" y="512.25" width="3.60" height="3.60" fill="#fff" stroke="#666" stroke-width="0.6" />
<path d="M338.2 513.85l1 1.2l1.6-2.4" fill="none" stroke="#111" stroke-width="0.8" />
<g fill="none" stroke="#333" stroke-width="0.69" opacity="1"><path d="M354.55 512.22H356.60V514.15H354.55ZM357.70 511.8499999999999V516.45M357.70 513.92H358.57M354.86 515.07V516.22H357.04"/></g>
<g fill="none" stroke="#333" stroke-width="0.69" opacity="1"><path d="M359.04 512.31H362.53M360.79 512.31L359.26 514.15M360.79 512.54L362.45 514.15M358.60 514.89H362.97M360.79 514.89V516.45"/></g>
<text x="159.20" y="522.72" font-size="6.0" fill="#333" font-family="Liberation Mono, monospace" textLength="4.80" lengthAdjust="spacingAndGlyphs" stroke="#333" stroke-width="0.1">16</text>
<rect x="172.90" y="517.85" width="38.40" height="6.07" fill="#fff" stroke="#111" stroke-width="1" />
<path d="M206.6 519.72h2.6l-1.3 1.8z" fill="#222" />
<rect x="337.60" y="518.52" width="3.60" height="3.60" fill="#fff" stroke="#666" stroke-width="0.6" />
<rect x="157.80" y="529.60" width="204.20" height="7.20" fill="#f1f1f1" />
<path d="M161.6 531.8l-2 1.5l2 1.5z" fill="#555" />
<path d="M357.6 531.8l2 1.5l-2 1.5z" fill="#555" />
<rect x="165.00" y="530.60" width="80.60" height="5.40" fill="#e2e2e2" stroke="#a0a0a0" stroke-width="0.6" rx="1.2" />
<line x1="203.80" y1="531.80" x2="203.80" y2="534.80" stroke="#8a8a8a" stroke-width="0.4" />
<line x1="205.00" y1="531.80" x2="205.00" y2="534.80" stroke="#8a8a8a" stroke-width="0.4" />
<line x1="206.20" y1="531.80" x2="206.20" y2="534.80" stroke="#8a8a8a" stroke-width="0.4" />
<rect x="14.00" y="14.00" width="360.60" height="239.80" fill="#585858" />
<rect x="14.40" y="14.40" width="359.80" height="239.00" fill="none" stroke="#2c2c2c" stroke-width="0.9" />
<rect x="14.80" y="14.80" width="359.00" height="5.20" fill="#4c4c4c" />
<line x1="14.80" y1="19.60" x2="373.80" y2="19.60" stroke="#464646" stroke-width="0.7" />
<rect x="15.80" y="15.40" width="2.60" height="4.20" fill="#3a6fd8" />
<rect x="16.40" y="16.20" width="1.40" height="1.20" fill="#bcd3ff" />
<text x="20.40" y="19.40" font-size="4.6" fill="#e8e8e8" font-weight="bold" textLength="25.40" lengthAdjust="spacingAndGlyphs" stroke="#e8e8e8" stroke-width="0.1">I-Cube Designer</text>
<line x1="352.20" y1="19.00" x2="354.80" y2="19.00" stroke="#d0d0d0" stroke-width="0.8" />
<rect x="360.00" y="16.20" width="2.60" height="2.40" fill="none" stroke="#d0d0d0" stroke-width="0.6" />
<rect x="359.20" y="17.00" width="2.60" height="2.40" fill="#4c4c4c" stroke="#d0d0d0" stroke-width="0.6" />
<path d="M367.2 16.4l2.6 2.8m0-2.8l-2.6 2.8" fill="none" stroke="#d8d8d8" stroke-width="0.8" />
<text x="16.20" y="25.40" font-size="4.4" fill="#b4b4b4" textLength="4.20" lengthAdjust="spacingAndGlyphs">File</text>
<text x="23.00" y="25.40" font-size="4.4" fill="#b4b4b4" textLength="5.20" lengthAdjust="spacingAndGlyphs">Edit</text>
<text x="31.60" y="25.40" font-size="4.4" fill="#b4b4b4" textLength="8.60" lengthAdjust="spacingAndGlyphs">Layout</text>
<text x="43.60" y="25.40" font-size="4.4" fill="#b4b4b4" textLength="6.80" lengthAdjust="spacingAndGlyphs">View</text>
<text x="54.00" y="25.40" font-size="4.4" fill="#b4b4b4" textLength="4.80" lengthAdjust="spacingAndGlyphs">Help</text>
<rect x="16.60" y="27.60" width="209.60" height="8.00" fill="#5d5d5d" rx="1" />
<rect x="16.60" y="36.20" width="152.00" height="8.00" fill="#5d5d5d" rx="1" />
<rect x="16.60" y="44.80" width="120.00" height="10.20" fill="#5d5d5d" rx="1" />
<rect x="20.00" y="29.70" width="2.40" height="3.80" fill="#f4f4f4" opacity="1.0" />
<rect x="23.50" y="30.50" width="2.60" height="2.80" fill="#bdbdbd" opacity="0.9" />
<rect x="30.70" y="29.70" width="1.40" height="3.80" fill="#ededed" opacity="1.0" />
<rect x="32.60" y="30.10" width="0.80" height="3.00" fill="#6f9ad8" opacity="0.9" />
<rect x="36.40" y="29.70" width="2.00" height="3.80" fill="#e4e4e4" opacity="1.0" />
<circle cx="44.80" cy="31.60" r="2.10" fill="#e8542a"/>
<path d="M44.0 30.5l2.0 1.1l-2.0 1.1z" fill="#fff3e0" />
<text x="47.80" y="33.10" font-size="4.2" fill="#cfcfcf" textLength="6.40" lengthAdjust="spacingAndGlyphs" stroke="#cfcfcf" stroke-width="0.1">EDIT</text>
<rect x="56.20" y="29.90" width="1.20" height="3.40" fill="#6f9ad8" opacity="1.0" />
<rect x="63.40" y="30.00" width="2.00" height="3.20" fill="#c8c8c8" opacity="0.7" />
<rect x="69.60" y="30.00" width="2.00" height="3.20" fill="#c8c8c8" opacity="0.7" />
<rect x="76.10" y="30.00" width="2.40" height="3.20" fill="#e0e0e0" opacity="0.9" />
<rect x="82.20" y="30.00" width="2.60" height="3.20" fill="#f2f2f2" opacity="1" />
<rect x="87.60" y="30.00" width="2.80" height="3.20" fill="#cfcfcf" opacity="0.9" />
<rect x="97.40" y="30.00" width="2.60" height="3.20" fill="#dadada" opacity="0.9" />
<rect x="103.80" y="30.00" width="2.60" height="3.20" fill="#d0d0d0" opacity="0.9" />
<rect x="110.20" y="30.00" width="2.80" height="3.20" fill="#c6c6c6" opacity="0.8" />
<rect x="116.10" y="30.00" width="2.20" height="3.20" fill="#bdbdbd" opacity="0.75" />
<rect x="121.30" y="30.00" width="2.60" height="3.20" fill="#c6c6c6" opacity="0.8" />
<rect x="127.00" y="30.00" width="1.60" height="3.20" fill="#aaa" opacity="0.7" />
<rect x="131.20" y="30.00" width="1.60" height="3.20" fill="#aaa" opacity="0.7" />
<rect x="135.50" y="30.00" width="2.20" height="3.20" fill="#c0c0c0" opacity="0.8" />
<rect x="143.20" y="30.00" width="2.80" height="3.20" fill="#dcdcdc" opacity="0.95" />
<rect x="148.80" y="30.00" width="2.80" height="3.20" fill="#dcdcdc" opacity="0.95" />
<rect x="155.20" y="30.00" width="2.00" height="3.20" fill="#e6e6e6" opacity="0.95" />
<rect x="162.60" y="30.00" width="2.40" height="3.20" fill="#bbb" opacity="0.7" />
<rect x="168.00" y="30.00" width="2.00" height="3.20" fill="#ccc" opacity="0.8" />
<rect x="174.70" y="30.00" width="2.60" height="3.20" fill="#e0e0e0" opacity="0.95" />
<rect x="180.10" y="30.00" width="2.60" height="3.20" fill="#e0e0e0" opacity="0.95" />
<rect x="185.90" y="30.00" width="2.60" height="3.20" fill="#e0e0e0" opacity="0.95" />
<rect x="191.10" y="30.00" width="2.20" height="3.20" fill="#e6e6e6" opacity="0.95" />
<rect x="194.80" y="30.00" width="2.00" height="3.20" fill="#e6e6e6" opacity="0.95" />
<rect x="202.20" y="30.00" width="1.60" height="3.20" fill="#9a9a9a" opacity="0.8" />
<rect x="208.40" y="30.00" width="2.40" height="3.20" fill="#a6a6a6" opacity="0.8" />
<rect x="214.60" y="30.00" width="2.40" height="3.20" fill="#a0a0a0" opacity="0.8" />
<rect x="220.30" y="30.00" width="2.20" height="3.20" fill="#a0a0a0" opacity="0.8" />
<path d="M76.1 29.8l2.4 3.6m0-3.6l-2.4 3.6" fill="none" stroke="#585858" stroke-width="0.6" />
<path d="M19.4 38.5h1.8l-0.9 1.4z" fill="#aaa" />
<rect x="23.80" y="38.00" width="7.40" height="3.80" fill="#fafafa" stroke="#777" stroke-width="0.4" />
<path d="M33.6 39.3h1.8l-0.9 1.3z" fill="#aaa" />
<path d="M39.4 41.5l1.6-3.4" fill="none" stroke="#ddd" stroke-width="0.9" />
<rect x="44.80" y="38.00" width="6.80" height="3.80" fill="#0a0a0a" stroke="#8a8a8a" stroke-width="0.4" />
<path d="M53.6 39.3h1.8l-0.9 1.3z" fill="#aaa" />
<line x1="57.80" y1="38.30" x2="57.80" y2="41.90" stroke="#999" stroke-width="0.6" />
<path d="M65.6 39.3h1.8l-0.9 1.3z" fill="#aaa" />
<line x1="70.60" y1="39.90" x2="82.00" y2="39.90" stroke="#0c0c0c" stroke-width="1.2" />
<path d="M83.6 39.3h1.8l-0.9 1.3z" fill="#aaa" />
<rect x="88.40" y="37.10" width="34.00" height="5.60" fill="#545454" stroke="#666" stroke-width="0.5" />
<text x="92.80" y="41.40" font-size="4.4" fill="#a4a4a4" textLength="6.20" lengthAdjust="spacingAndGlyphs">Arial</text>
<path d="M112.4 39.3h1.8l-0.9 1.3z" fill="#aaa" />
<text x="118.40" y="41.40" font-size="4.2" fill="#a4a4a4" textLength="3.00" lengthAdjust="spacingAndGlyphs">14</text>
<path d="M123.6 39.3h1.8l-0.9 1.3z" fill="#aaa" />
<rect x="129.90" y="38.10" width="2.60" height="3.60" fill="none" stroke="#cfcfcf" stroke-width="0.6" opacity="0.55" />
<rect x="135.30" y="38.10" width="2.60" height="3.60" fill="none" stroke="#cfcfcf" stroke-width="0.6" opacity="0.75" />
<rect x="140.30" y="38.10" width="2.60" height="3.60" fill="none" stroke="#cfcfcf" stroke-width="0.6" opacity="0.8" />
<rect x="147.30" y="38.10" width="2.60" height="3.60" fill="none" stroke="#cfcfcf" stroke-width="0.6" opacity="0.75" />
<rect x="152.70" y="38.10" width="2.60" height="3.60" fill="none" stroke="#cfcfcf" stroke-width="0.6" opacity="0.7" />
<rect x="158.30" y="38.10" width="2.60" height="3.60" fill="none" stroke="#cfcfcf" stroke-width="0.6" opacity="0.75" />
<rect x="163.30" y="38.10" width="2.60" height="3.60" fill="none" stroke="#cfcfcf" stroke-width="0.6" opacity="0.7" />
<rect x="19.80" y="48.40" width="2.80" height="3.80" fill="none" stroke="#d0d0d0" stroke-width="0.6" opacity="0.18" />
<rect x="25.20" y="48.40" width="2.80" height="3.80" fill="none" stroke="#d0d0d0" stroke-width="0.6" opacity="0.3" />
<rect x="31.00" y="48.40" width="2.80" height="3.80" fill="none" stroke="#d0d0d0" stroke-width="0.6" opacity="0.3" />
<rect x="36.80" y="48.40" width="2.80" height="3.80" fill="none" stroke="#d0d0d0" stroke-width="0.6" opacity="0.3" />
<rect x="43.00" y="48.70" width="3.20" height="3.00" fill="#bcbcbc" opacity="0.8" />
<rect x="49.90" y="48.90" width="2.60" height="2.60" fill="#b0b0b0" opacity="0.8" />
<rect x="55.50" y="48.40" width="1.80" height="3.60" fill="#b8b8b8" opacity="0.9" />
<rect x="61.90" y="48.00" width="3.00" height="4.40" fill="#cfcfcf" opacity="0.8" />
<rect x="69.00" y="48.50" width="1.20" height="3.40" fill="#999" opacity="0.7" />
<rect x="74.10" y="48.10" width="2.20" height="4.20" fill="#fafafa" opacity="1" />
<rect x="79.20" y="48.10" width="2.80" height="4.20" fill="#dedede" opacity="0.9" />
<rect x="86.10" y="48.10" width="2.60" height="4.20" fill="#f2f2f2" opacity="1" />
<rect x="91.90" y="48.10" width="2.60" height="4.20" fill="#ececec" opacity="1" />
<rect x="97.50" y="48.20" width="2.20" height="4.00" fill="#d4d4d4" opacity="0.95" />
<rect x="104.20" y="48.10" width="2.40" height="4.20" fill="#f2f2f2" opacity="1" />
<rect x="111.10" y="48.40" width="1.00" height="3.60" fill="#d0d0d0" opacity="0.9" />
<rect x="116.40" y="48.40" width="1.20" height="3.60" fill="#d0d0d0" opacity="0.9" />
<rect x="124.20" y="48.10" width="2.00" height="4.20" fill="#ececec" opacity="1" />
<rect x="128.60" y="48.10" width="2.00" height="4.20" fill="#ececec" opacity="1" />
<rect x="14.80" y="55.60" width="57.40" height="4.80" fill="#525252" />
<text x="16.00" y="59.20" font-size="4.2" fill="#f0f0f0" font-weight="bold" textLength="22.40" lengthAdjust="spacingAndGlyphs" stroke="#f0f0f0" stroke-width="0.05">Object Explorer</text>
<path d="M61.4 57.4h1.8l-0.9 1.3z" fill="#ccc" />
<path d="M67.0 58.8l1.8-2" fill="none" stroke="#ccc" stroke-width="0.6" />
<rect x="15.20" y="60.30" width="56.60" height="167.90" fill="#fdfdfd" />
<rect x="15.20" y="60.30" width="7.60" height="167.90" fill="#e9e9e9" />
<rect x="15.60" y="60.80" width="6.60" height="4.23" fill="#f6f6f6" stroke="#c4c4c4" stroke-width="0.3" />
<path d="M15.8 62.90q2.0-2.4 4.2 0q-2.2 2.0-4.2 0z" fill="#333" />
<rect x="19.60" y="61.30" width="2.40" height="1.20" fill="#d0d0d0" />
<rect x="27.60" y="61.30" width="3.20" height="3.20" fill="#a8a8a8" stroke="#777" stroke-width="0.4" />
<line x1="27.60" y1="62.90" x2="30.80" y2="62.90" stroke="#666" stroke-width="0.3" />
<text x="32.80" y="64.40" font-size="4.3" fill="#2a2a2a" textLength="18.00" lengthAdjust="spacingAndGlyphs" stroke="#2a2a2a" stroke-width="0.1">rectangle_28</text>
<rect x="15.60" y="66.03" width="6.60" height="4.23" fill="#f6f6f6" stroke="#c4c4c4" stroke-width="0.3" />
<path d="M15.8 68.13q2.0-2.4 4.2 0q-2.2 2.0-4.2 0z" fill="#333" />
<rect x="19.60" y="66.53" width="2.40" height="1.20" fill="#d0d0d0" />
<text x="28.40" y="69.83" font-size="4.6" fill="#555" textLength="2.20" lengthAdjust="spacingAndGlyphs" stroke="#555" stroke-width="0.2">A</text>
<text x="32.80" y="69.63" font-size="4.3" fill="#2a2a2a" textLength="10.50" lengthAdjust="spacingAndGlyphs" stroke="#2a2a2a" stroke-width="0.1">text_46</text>
<rect x="15.60" y="71.26" width="6.60" height="4.23" fill="#f6f6f6" stroke="#c4c4c4" stroke-width="0.3" />
<path d="M15.8 73.36q2.0-2.4 4.2 0q-2.2 2.0-4.2 0z" fill="#333" />
<rect x="19.60" y="71.76" width="2.40" height="1.20" fill="#d0d0d0" />
<rect x="27.80" y="71.96" width="2.80" height="2.80" fill="#a8a8a8" stroke="#667" stroke-width="0.4" />
<text x="32.80" y="74.86" font-size="4.3" fill="#2a2a2a" textLength="13.50" lengthAdjust="spacingAndGlyphs" stroke="#2a2a2a" stroke-width="0.1">ellipse_7</text>
<rect x="15.60" y="76.49" width="6.60" height="4.23" fill="#f6f6f6" stroke="#c4c4c4" stroke-width="0.3" />
<path d="M15.8 78.59q2.0-2.4 4.2 0q-2.2 2.0-4.2 0z" fill="#333" />
<rect x="19.60" y="76.99" width="2.40" height="1.20" fill="#d0d0d0" />
<rect x="27.60" y="76.99" width="3.20" height="3.20" fill="#a8a8a8" stroke="#777" stroke-width="0.4" />
<line x1="27.60" y1="78.59" x2="30.80" y2="78.59" stroke="#666" stroke-width="0.3" />
<text x="32.80" y="80.09" font-size="4.3" fill="#2a2a2a" textLength="18.00" lengthAdjust="spacingAndGlyphs" stroke="#2a2a2a" stroke-width="0.1">rectangle_29</text>
<rect x="15.60" y="81.72" width="6.60" height="4.23" fill="#f6f6f6" stroke="#c4c4c4" stroke-width="0.3" />
<path d="M15.8 83.82q2.0-2.4 4.2 0q-2.2 2.0-4.2 0z" fill="#333" />
<rect x="19.60" y="82.22" width="2.40" height="1.20" fill="#d0d0d0" />
<text x="28.40" y="85.52" font-size="4.6" fill="#555" textLength="2.20" lengthAdjust="spacingAndGlyphs" stroke="#555" stroke-width="0.2">A</text>
<text x="32.80" y="85.32" font-size="4.3" fill="#2a2a2a" textLength="10.50" lengthAdjust="spacingAndGlyphs" stroke="#2a2a2a" stroke-width="0.1">text_66</text>
<rect x="15.60" y="86.95" width="6.60" height="4.23" fill="#f6f6f6" stroke="#c4c4c4" stroke-width="0.3" />
<path d="M15.8 89.05q2.0-2.4 4.2 0q-2.2 2.0-4.2 0z" fill="#333" />
<rect x="19.60" y="87.45" width="2.40" height="1.20" fill="#d0d0d0" />
<rect x="27.60" y="87.45" width="3.20" height="3.20" fill="#a8a8a8" stroke="#777" stroke-width="0.4" />
<line x1="27.60" y1="89.05" x2="30.80" y2="89.05" stroke="#666" stroke-width="0.3" />
<text x="32.80" y="90.55" font-size="4.3" fill="#2a2a2a" textLength="19.50" lengthAdjust="spacingAndGlyphs" stroke="#2a2a2a" stroke-width="0.1">rectangle_141</text>
<rect x="15.60" y="92.18" width="6.60" height="4.23" fill="#f6f6f6" stroke="#c4c4c4" stroke-width="0.3" />
<path d="M15.8 94.28q2.0-2.4 4.2 0q-2.2 2.0-4.2 0z" fill="#333" />
<rect x="19.60" y="92.68" width="2.40" height="1.20" fill="#d0d0d0" />
<text x="28.40" y="95.98" font-size="4.6" fill="#555" textLength="2.20" lengthAdjust="spacingAndGlyphs" stroke="#555" stroke-width="0.2">A</text>
<text x="32.80" y="95.78" font-size="4.3" fill="#2a2a2a" textLength="10.50" lengthAdjust="spacingAndGlyphs" stroke="#2a2a2a" stroke-width="0.1">text_68</text>
<rect x="15.60" y="97.41" width="6.60" height="4.23" fill="#f6f6f6" stroke="#c4c4c4" stroke-width="0.3" />
<path d="M15.8 99.51q2.0-2.4 4.2 0q-2.2 2.0-4.2 0z" fill="#333" />
<rect x="19.60" y="97.91" width="2.40" height="1.20" fill="#d0d0d0" />
<rect x="27.80" y="98.11" width="2.80" height="2.80" fill="#a8a8a8" stroke="#667" stroke-width="0.4" />
<g fill="none" stroke="#222" stroke-width="0.57" opacity="0.95"><path d="M33.09 97.91H34.79V99.51H33.09ZM35.69 97.61V101.41M35.69 99.32H36.41M33.34 100.27V101.22H35.15"/></g>
<g fill="none" stroke="#222" stroke-width="0.57" opacity="0.95"><path d="M36.36 97.99H39.25M37.80 97.99L36.54 99.51M37.80 98.18L39.18 99.51M36.00 100.12H39.61M37.80 100.12V101.41"/></g>
<g fill="none" stroke="#222" stroke-width="0.57" opacity="0.95"><circle cx="40.36" cy="99.05" r="0.76"/><path d="M39.38 97.91H41.37M42.09 97.61V99.97M41.19 98.75H42.09"/><circle cx="41.00" cy="100.80" r="0.57"/></g>
<text x="42.60" y="101.01" font-size="4.3" fill="#2a2a2a" textLength="4.60" lengthAdjust="spacingAndGlyphs" stroke="#2a2a2a" stroke-width="0.1">_31</text>
<rect x="15.60" y="102.64" width="6.60" height="4.23" fill="#f6f6f6" stroke="#c4c4c4" stroke-width="0.3" />
<path d="M15.8 104.74q2.0-2.4 4.2 0q-2.2 2.0-4.2 0z" fill="#333" />
<rect x="19.60" y="103.14" width="2.40" height="1.20" fill="#d0d0d0" />
<rect x="27.60" y="103.14" width="3.20" height="3.20" fill="#a8a8a8" stroke="#777" stroke-width="0.4" />
<line x1="27.60" y1="104.74" x2="30.80" y2="104.74" stroke="#666" stroke-width="0.3" />
<text x="32.80" y="106.24" font-size="4.3" fill="#2a2a2a" textLength="19.50" lengthAdjust="spacingAndGlyphs" stroke="#2a2a2a" stroke-width="0.1">rectangle_145</text>
<rect x="15.60" y="107.87" width="6.60" height="4.23" fill="#f6f6f6" stroke="#c4c4c4" stroke-width="0.3" />
<path d="M15.8 109.97q2.0-2.4 4.2 0q-2.2 2.0-4.2 0z" fill="#333" />
<rect x="19.60" y="108.37" width="2.40" height="1.20" fill="#d0d0d0" />
<text x="28.40" y="111.67" font-size="4.6" fill="#555" textLength="2.20" lengthAdjust="spacingAndGlyphs" stroke="#555" stroke-width="0.2">A</text>
<text x="32.80" y="111.47" font-size="4.3" fill="#2a2a2a" textLength="10.50" lengthAdjust="spacingAndGlyphs" stroke="#2a2a2a" stroke-width="0.1">text_69</text>
<rect x="15.60" y="113.10" width="6.60" height="4.23" fill="#f6f6f6" stroke="#c4c4c4" stroke-width="0.3" />
<path d="M15.8 115.20q2.0-2.4 4.2 0q-2.2 2.0-4.2 0z" fill="#333" />
<rect x="19.60" y="113.60" width="2.40" height="1.20" fill="#d0d0d0" />
<text x="28.40" y="116.90" font-size="4.6" fill="#555" textLength="2.20" lengthAdjust="spacingAndGlyphs" stroke="#555" stroke-width="0.2">A</text>
<text x="32.80" y="116.70" font-size="4.3" fill="#2a2a2a" textLength="10.50" lengthAdjust="spacingAndGlyphs" stroke="#2a2a2a" stroke-width="0.1">text_46</text>
<rect x="15.60" y="118.33" width="6.60" height="4.23" fill="#f6f6f6" stroke="#c4c4c4" stroke-width="0.3" />
<path d="M15.8 120.43q2.0-2.4 4.2 0q-2.2 2.0-4.2 0z" fill="#333" />
<rect x="19.60" y="118.83" width="2.40" height="1.20" fill="#d0d0d0" />
<text x="28.40" y="122.13" font-size="4.6" fill="#555" textLength="2.20" lengthAdjust="spacingAndGlyphs" stroke="#555" stroke-width="0.2">A</text>
<text x="32.80" y="121.93" font-size="4.3" fill="#2a2a2a" textLength="9.00" lengthAdjust="spacingAndGlyphs" stroke="#2a2a2a" stroke-width="0.1">text_7</text>
<rect x="15.60" y="123.56" width="6.60" height="4.23" fill="#f6f6f6" stroke="#c4c4c4" stroke-width="0.3" />
<path d="M15.8 125.66q2.0-2.4 4.2 0q-2.2 2.0-4.2 0z" fill="#333" />
<rect x="19.60" y="124.06" width="2.40" height="1.20" fill="#d0d0d0" />
<text x="28.40" y="127.36" font-size="4.6" fill="#555" textLength="2.20" lengthAdjust="spacingAndGlyphs" stroke="#555" stroke-width="0.2">A</text>
<text x="32.80" y="127.16" font-size="4.3" fill="#2a2a2a" textLength="9.00" lengthAdjust="spacingAndGlyphs" stroke="#2a2a2a" stroke-width="0.1">text_0</text>
<rect x="15.60" y="128.79" width="6.60" height="4.23" fill="#f6f6f6" stroke="#c4c4c4" stroke-width="0.3" />
<path d="M15.8 130.89q2.0-2.4 4.2 0q-2.2 2.0-4.2 0z" fill="#333" />
<rect x="19.60" y="129.29" width="2.40" height="1.20" fill="#d0d0d0" />
<text x="28.40" y="132.59" font-size="4.6" fill="#555" textLength="2.20" lengthAdjust="spacingAndGlyphs" stroke="#555" stroke-width="0.2">A</text>
<text x="32.80" y="132.39" font-size="4.3" fill="#2a2a2a" textLength="9.00" lengthAdjust="spacingAndGlyphs" stroke="#2a2a2a" stroke-width="0.1">text_4</text>
<rect x="15.60" y="134.02" width="6.60" height="4.23" fill="#f6f6f6" stroke="#c4c4c4" stroke-width="0.3" />
<path d="M15.8 136.12q2.0-2.4 4.2 0q-2.2 2.0-4.2 0z" fill="#333" />
<rect x="19.60" y="134.52" width="2.40" height="1.20" fill="#d0d0d0" />
<text x="28.40" y="137.82" font-size="4.6" fill="#555" textLength="2.20" lengthAdjust="spacingAndGlyphs" stroke="#555" stroke-width="0.2">A</text>
<text x="32.80" y="137.62" font-size="4.3" fill="#2a2a2a" textLength="9.00" lengthAdjust="spacingAndGlyphs" stroke="#2a2a2a" stroke-width="0.1">text_3</text>
<rect x="15.60" y="139.25" width="6.60" height="4.23" fill="#f6f6f6" stroke="#c4c4c4" stroke-width="0.3" />
<path d="M15.8 141.35q2.0-2.4 4.2 0q-2.2 2.0-4.2 0z" fill="#333" />
<rect x="19.60" y="139.75" width="2.40" height="1.20" fill="#d0d0d0" />
<text x="28.40" y="143.05" font-size="4.6" fill="#555" textLength="2.20" lengthAdjust="spacingAndGlyphs" stroke="#555" stroke-width="0.2">A</text>
<text x="32.80" y="142.85" font-size="4.3" fill="#2a2a2a" textLength="9.00" lengthAdjust="spacingAndGlyphs" stroke="#2a2a2a" stroke-width="0.1">text_2</text>
<rect x="15.60" y="144.48" width="6.60" height="4.23" fill="#f6f6f6" stroke="#c4c4c4" stroke-width="0.3" />
<path d="M15.8 146.58q2.0-2.4 4.2 0q-2.2 2.0-4.2 0z" fill="#333" />
<rect x="19.60" y="144.98" width="2.40" height="1.20" fill="#d0d0d0" />
<text x="28.40" y="148.28" font-size="4.6" fill="#555" textLength="2.20" lengthAdjust="spacingAndGlyphs" stroke="#555" stroke-width="0.2">A</text>
<text x="32.80" y="148.08" font-size="4.3" fill="#2a2a2a" textLength="10.50" lengthAdjust="spacingAndGlyphs" stroke="#2a2a2a" stroke-width="0.1">text_33</text>
<rect x="15.60" y="149.71" width="6.60" height="4.23" fill="#f6f6f6" stroke="#c4c4c4" stroke-width="0.3" />
<path d="M15.8 151.81q2.0-2.4 4.2 0q-2.2 2.0-4.2 0z" fill="#333" />
<rect x="19.60" y="150.21" width="2.40" height="1.20" fill="#d0d0d0" />
<text x="28.40" y="153.51" font-size="4.6" fill="#555" textLength="2.20" lengthAdjust="spacingAndGlyphs" stroke="#555" stroke-width="0.2">A</text>
<text x="32.80" y="153.31" font-size="4.3" fill="#2a2a2a" textLength="9.00" lengthAdjust="spacingAndGlyphs" stroke="#2a2a2a" stroke-width="0.1">text_4</text>
<rect x="15.60" y="154.94" width="6.60" height="4.23" fill="#f6f6f6" stroke="#c4c4c4" stroke-width="0.3" />
<path d="M15.8 157.04q2.0-2.4 4.2 0q-2.2 2.0-4.2 0z" fill="#333" />
<rect x="19.60" y="155.44" width="2.40" height="1.20" fill="#d0d0d0" />
<rect x="27.60" y="155.44" width="3.20" height="3.20" fill="#a8a8a8" stroke="#777" stroke-width="0.4" />
<line x1="27.60" y1="157.04" x2="30.80" y2="157.04" stroke="#666" stroke-width="0.3" />
<text x="32.80" y="158.54" font-size="4.3" fill="#2a2a2a" textLength="16.50" lengthAdjust="spacingAndGlyphs" stroke="#2a2a2a" stroke-width="0.1">rectangle_1</text>
<rect x="15.60" y="160.17" width="6.60" height="4.23" fill="#f6f6f6" stroke="#c4c4c4" stroke-width="0.3" />
<path d="M15.8 162.27q2.0-2.4 4.2 0q-2.2 2.0-4.2 0z" fill="#333" />
<rect x="19.60" y="160.67" width="2.40" height="1.20" fill="#d0d0d0" />
<rect x="27.60" y="160.67" width="3.20" height="3.20" fill="#a8a8a8" stroke="#777" stroke-width="0.4" />
<line x1="27.60" y1="162.27" x2="30.80" y2="162.27" stroke="#666" stroke-width="0.3" />
<text x="32.80" y="163.77" font-size="4.3" fill="#2a2a2a" textLength="16.50" lengthAdjust="spacingAndGlyphs" stroke="#2a2a2a" stroke-width="0.1">rectangle_4</text>
<rect x="15.60" y="165.40" width="6.60" height="4.23" fill="#f6f6f6" stroke="#c4c4c4" stroke-width="0.3" />
<path d="M15.8 167.50q2.0-2.4 4.2 0q-2.2 2.0-4.2 0z" fill="#333" />
<rect x="19.60" y="165.90" width="2.40" height="1.20" fill="#d0d0d0" />
<rect x="27.60" y="165.90" width="3.20" height="3.20" fill="#a8a8a8" stroke="#777" stroke-width="0.4" />
<line x1="27.60" y1="167.50" x2="30.80" y2="167.50" stroke="#666" stroke-width="0.3" />
<text x="32.80" y="169.00" font-size="4.3" fill="#2a2a2a" textLength="16.50" lengthAdjust="spacingAndGlyphs" stroke="#2a2a2a" stroke-width="0.1">rectangle_1</text>
<rect x="15.60" y="170.63" width="6.60" height="4.23" fill="#f6f6f6" stroke="#c4c4c4" stroke-width="0.3" />
<path d="M15.8 172.73q2.0-2.4 4.2 0q-2.2 2.0-4.2 0z" fill="#333" />
<rect x="19.60" y="171.13" width="2.40" height="1.20" fill="#d0d0d0" />
<rect x="27.60" y="171.13" width="3.20" height="3.20" fill="#a8a8a8" stroke="#777" stroke-width="0.4" />
<line x1="27.60" y1="172.73" x2="30.80" y2="172.73" stroke="#666" stroke-width="0.3" />
<text x="32.80" y="174.23" font-size="4.3" fill="#2a2a2a" textLength="16.50" lengthAdjust="spacingAndGlyphs" stroke="#2a2a2a" stroke-width="0.1">rectangle_4</text>
<rect x="15.60" y="175.86" width="6.60" height="4.23" fill="#f6f6f6" stroke="#c4c4c4" stroke-width="0.3" />
<path d="M15.8 177.96q2.0-2.4 4.2 0q-2.2 2.0-4.2 0z" fill="#333" />
<rect x="19.60" y="176.36" width="2.40" height="1.20" fill="#d0d0d0" />
<rect x="27.60" y="176.36" width="3.20" height="3.20" fill="#a8a8a8" stroke="#777" stroke-width="0.4" />
<line x1="27.60" y1="177.96" x2="30.80" y2="177.96" stroke="#666" stroke-width="0.3" />
<text x="32.80" y="179.46" font-size="4.3" fill="#2a2a2a" textLength="16.50" lengthAdjust="spacingAndGlyphs" stroke="#2a2a2a" stroke-width="0.1">rectangle_7</text>
<rect x="15.60" y="181.09" width="6.60" height="4.23" fill="#f6f6f6" stroke="#c4c4c4" stroke-width="0.3" />
<path d="M15.8 183.19q2.0-2.4 4.2 0q-2.2 2.0-4.2 0z" fill="#333" />
<rect x="19.60" y="181.59" width="2.40" height="1.20" fill="#d0d0d0" />
<rect x="27.60" y="181.59" width="3.20" height="3.20" fill="#a8a8a8" stroke="#777" stroke-width="0.4" />
<line x1="27.60" y1="183.19" x2="30.80" y2="183.19" stroke="#666" stroke-width="0.3" />
<text x="32.80" y="184.69" font-size="4.3" fill="#2a2a2a" textLength="19.50" lengthAdjust="spacingAndGlyphs" stroke="#2a2a2a" stroke-width="0.1">rectangle_889</text>
<rect x="15.60" y="186.32" width="6.60" height="4.23" fill="#f6f6f6" stroke="#c4c4c4" stroke-width="0.3" />
<path d="M15.8 188.42q2.0-2.4 4.2 0q-2.2 2.0-4.2 0z" fill="#333" />
<rect x="19.60" y="186.82" width="2.40" height="1.20" fill="#d0d0d0" />
<rect x="27.60" y="186.82" width="3.20" height="3.20" fill="#a8a8a8" stroke="#777" stroke-width="0.4" />
<line x1="27.60" y1="188.42" x2="30.80" y2="188.42" stroke="#666" stroke-width="0.3" />
<text x="32.80" y="189.92" font-size="4.3" fill="#2a2a2a" textLength="18.00" lengthAdjust="spacingAndGlyphs" stroke="#2a2a2a" stroke-width="0.1">rectangle_89</text>
<rect x="22.90" y="191.15" width="45.00" height="5.13" fill="#8fd0ee" />
<rect x="15.60" y="191.55" width="6.60" height="4.23" fill="#f6f6f6" stroke="#c4c4c4" stroke-width="0.3" />
<path d="M15.8 193.65q2.0-2.4 4.2 0q-2.2 2.0-4.2 0z" fill="#333" />
<rect x="19.60" y="192.05" width="2.40" height="1.20" fill="#d0d0d0" />
<rect x="27.80" y="192.25" width="2.80" height="2.80" fill="#8aa0c0" stroke="#667" stroke-width="0.4" />
<text x="32.80" y="195.15" font-size="4.3" fill="#2a2a2a" textLength="10.50" lengthAdjust="spacingAndGlyphs" stroke="#2a2a2a" stroke-width="0.1">image_1</text>
<rect x="15.60" y="196.78" width="6.60" height="4.23" fill="#f6f6f6" stroke="#c4c4c4" stroke-width="0.3" />
<path d="M15.8 198.88q2.0-2.4 4.2 0q-2.2 2.0-4.2 0z" fill="#333" />
<rect x="19.60" y="197.28" width="2.40" height="1.20" fill="#d0d0d0" />
<rect x="27.60" y="197.28" width="3.20" height="3.20" fill="#a8a8a8" stroke="#777" stroke-width="0.4" />
<line x1="27.60" y1="198.88" x2="30.80" y2="198.88" stroke="#666" stroke-width="0.3" />
<text x="32.80" y="200.38" font-size="4.3" fill="#2a2a2a" textLength="18.00" lengthAdjust="spacingAndGlyphs" stroke="#2a2a2a" stroke-width="0.1">rectangle_11</text>
<rect x="15.60" y="202.01" width="6.60" height="4.23" fill="#f6f6f6" stroke="#c4c4c4" stroke-width="0.3" />
<path d="M15.8 204.11q2.0-2.4 4.2 0q-2.2 2.0-4.2 0z" fill="#333" />
<rect x="19.60" y="202.51" width="2.40" height="1.20" fill="#d0d0d0" />
<rect x="27.80" y="202.71" width="2.80" height="2.80" fill="#8aa0c0" stroke="#667" stroke-width="0.4" />
<text x="23.60" y="205.71" font-size="4.2" fill="#666" textLength="1.80" lengthAdjust="spacingAndGlyphs" stroke="#666" stroke-width="0.22">+</text>
<text x="32.80" y="205.61" font-size="4.3" fill="#2a2a2a" textLength="10.50" lengthAdjust="spacingAndGlyphs" stroke="#2a2a2a" stroke-width="0.1">group_1</text>
<rect x="15.60" y="207.24" width="6.60" height="4.23" fill="#f6f6f6" stroke="#c4c4c4" stroke-width="0.3" />
<path d="M15.8 209.34q2.0-2.4 4.2 0q-2.2 2.0-4.2 0z" fill="#333" />
<rect x="19.60" y="207.74" width="2.40" height="1.20" fill="#d0d0d0" />
<rect x="27.80" y="207.94" width="2.80" height="2.80" fill="#a8a8a8" stroke="#667" stroke-width="0.4" />
<text x="32.80" y="210.84" font-size="4.3" fill="#2a2a2a" textLength="12.00" lengthAdjust="spacingAndGlyphs" stroke="#2a2a2a" stroke-width="0.1">image_32</text>
<rect x="15.60" y="212.47" width="6.60" height="4.23" fill="#f6f6f6" stroke="#c4c4c4" stroke-width="0.3" />
<path d="M15.8 214.57q2.0-2.4 4.2 0q-2.2 2.0-4.2 0z" fill="#333" />
<rect x="19.60" y="212.97" width="2.40" height="1.20" fill="#d0d0d0" />
<rect x="27.80" y="213.17" width="2.80" height="2.80" fill="#a8a8a8" stroke="#667" stroke-width="0.4" />
<text x="32.80" y="216.07" font-size="4.3" fill="#2a2a2a" textLength="12.00" lengthAdjust="spacingAndGlyphs" stroke="#2a2a2a" stroke-width="0.1">image_59</text>
<rect x="15.60" y="217.70" width="6.60" height="4.23" fill="#f6f6f6" stroke="#c4c4c4" stroke-width="0.3" />
<path d="M15.8 219.80q2.0-2.4 4.2 0q-2.2 2.0-4.2 0z" fill="#333" />
<rect x="19.60" y="218.20" width="2.40" height="1.20" fill="#d0d0d0" />
<rect x="27.80" y="218.40" width="2.80" height="2.80" fill="#a8a8a8" stroke="#667" stroke-width="0.4" />
<g fill="none" stroke="#222" stroke-width="0.57" opacity="0.95"><path d="M33.09 218.20H34.79V219.80H33.09ZM35.69 217.89999999999998V221.70M35.69 219.61H36.41M33.34 220.56V221.51H35.15"/></g>
<g fill="none" stroke="#222" stroke-width="0.57" opacity="0.95"><path d="M36.36 218.28H39.25M37.80 218.28L36.54 219.80M37.80 218.47L39.18 219.80M36.00 220.41H39.61M37.80 220.41V221.70"/></g>
<g fill="none" stroke="#222" stroke-width="0.57" opacity="0.95"><circle cx="40.36" cy="219.34" r="0.76"/><path d="M39.38 218.20H41.37M42.09 217.89999999999998V220.26M41.19 219.04H42.09"/><circle cx="41.00" cy="221.09" r="0.57"/></g>
<text x="42.60" y="221.30" font-size="4.3" fill="#2a2a2a" textLength="4.60" lengthAdjust="spacingAndGlyphs" stroke="#2a2a2a" stroke-width="0.1">_76</text>
<rect x="22.90" y="222.53" width="45.00" height="5.13" fill="#8fd0ee" />
<rect x="15.60" y="222.93" width="6.60" height="4.23" fill="#f6f6f6" stroke="#c4c4c4" stroke-width="0.3" />
<path d="M15.8 225.03q2.0-2.4 4.2 0q-2.2 2.0-4.2 0z" fill="#333" />
<rect x="19.60" y="223.43" width="2.40" height="1.20" fill="#d0d0d0" />
<rect x="27.80" y="223.63" width="2.80" height="2.80" fill="#8aa0c0" stroke="#667" stroke-width="0.4" />
<text x="23.60" y="226.63" font-size="4.2" fill="#666" textLength="1.80" lengthAdjust="spacingAndGlyphs" stroke="#666" stroke-width="0.22">+</text>
<text x="32.80" y="226.53" font-size="4.3" fill="#2a2a2a" textLength="10.50" lengthAdjust="spacingAndGlyphs" stroke="#2a2a2a" stroke-width="0.1">group_1</text>
<rect x="67.90" y="60.30" width="3.90" height="167.90" fill="#f0f0f0" />
<rect x="68.30" y="116.60" width="3.10" height="10.40" fill="#c9c9c9" />
<path d="M69.0 64.6l0.9-1.3l0.9 1.3z" fill="#888" />
<path d="M69.0 224.6l0.9 1.3l0.9-1.3z" fill="#888" />
<rect x="16.40" y="230.40" width="3.20" height="3.40" fill="#6a6a6a" />
<rect x="21.80" y="230.40" width="3.20" height="3.40" fill="#707070" />
<rect x="27.00" y="230.20" width="3.60" height="3.80" fill="#c9c9c9" />
<rect x="27.80" y="231.00" width="2.00" height="2.00" fill="#c03030" />
<rect x="15.20" y="236.60" width="56.80" height="7.60" fill="#525252" />
<rect x="27.00" y="236.60" width="12.00" height="7.60" fill="#5e5e5e" />
<text x="18.60" y="241.60" font-size="3.8" fill="#888" textLength="4.60" lengthAdjust="spacingAndGlyphs" stroke="#888" stroke-width="0.22">Pr..</text>
<text x="29.60" y="241.60" font-size="3.8" fill="#888" textLength="4.60" lengthAdjust="spacingAndGlyphs" stroke="#888" stroke-width="0.22">Pr..</text>
<text x="41.00" y="241.60" font-size="3.8" fill="#888" textLength="4.60" lengthAdjust="spacingAndGlyphs" stroke="#888" stroke-width="0.22">Pr..</text>
<text x="52.40" y="241.60" font-size="3.8" fill="#888" textLength="4.60" lengthAdjust="spacingAndGlyphs" stroke="#888" stroke-width="0.22">Pr..</text>
<text x="63.00" y="241.60" font-size="3.8" fill="#888" textLength="4.60" lengthAdjust="spacingAndGlyphs" stroke="#888" stroke-width="0.22">Pr..</text>
<rect x="14.80" y="245.00" width="359.20" height="8.00" fill="#4f4f4f" />
<text x="16.20" y="250.80" font-size="4.2" fill="#c2c2c2" textLength="53.00" lengthAdjust="spacingAndGlyphs" stroke="#c2c2c2" stroke-width="0.05">Pos: 866 x 375, Size: 140 x 75, Angle: 0</text>
<text x="286.00" y="250.80" font-size="3.8" fill="#a8a8a8" textLength="11.40" lengthAdjust="spacingAndGlyphs" stroke="#a8a8a8" stroke-width="0.22">127 x 375</text>
<text x="313.80" y="250.80" font-size="3.8" fill="#a8a8a8" textLength="5.00" lengthAdjust="spacingAndGlyphs" stroke="#a8a8a8" stroke-width="0.22">97%</text>
<path d="M320.6 250.6a1.6 1.6 0 1 0 0.01 0" fill="#bdbdbd" />
<path d="M336.6 247.4h2.4l-0.6 4.2h-1.6z" fill="#f0f0f0" />
<path d="M365.6 248.0l1 1.6l1-1.6z" fill="#ccc" />
<rect x="370.00" y="247.60" width="3.00" height="3.80" fill="#9ec0ea" />
<rect x="370.60" y="246.80" width="1.80" height="1.40" fill="#e8c070" />
<rect x="73.40" y="55.80" width="244.40" height="5.20" fill="#525252" />
<text x="75.40" y="59.80" font-size="4.2" fill="#d8d8d8" textLength="10.60" lengthAdjust="spacingAndGlyphs" stroke="#d8d8d8" stroke-width="0.05">Design</text>
<rect x="87.60" y="56.60" width="3.60" height="3.80" fill="#e8e8e8" />
<rect x="88.20" y="57.20" width="2.40" height="1.40" fill="#d04a3a" />
<text x="94.40" y="59.80" font-size="4.2" fill="#8a8a8a" textLength="8.60" lengthAdjust="spacingAndGlyphs" stroke="#8a8a8a" stroke-width="0.22">Script</text>
<text x="105.60" y="59.80" font-size="4.2" fill="#d0d0d0" textLength="3.80" lengthAdjust="spacingAndGlyphs" stroke="#d0d0d0" stroke-width="0.1">No</text>
<path d="M111.6 59.8l1.4-3.2" fill="none" stroke="#ddd" stroke-width="0.8" />
<rect x="116.80" y="56.80" width="1.60" height="3.60" fill="#bdbdbd" />
<path d="M311.2 58.2h1.6l-0.8 1.2z" fill="#999" />
<rect x="73.80" y="61.20" width="240.20" height="178.00" fill="url(#grid)" />
<rect x="73.80" y="61.20" width="240.20" height="2.90" fill="#e6e6e6" />
<rect x="73.80" y="64.00" width="240.20" height="27.60" fill="url(#bannerg)" />
<linearGradient id="bannerv" x1="0" x2="0" y1="0" y2="1"><stop offset="0" stop-color="#fff" stop-opacity="0.16"/><stop offset="0.5" stop-color="#fff" stop-opacity="0.02"/><stop offset="1" stop-color="#000" stop-opacity="0.14"/></linearGradient>
<rect x="73.80" y="64.00" width="240.20" height="27.60" fill="url(#bannerv)" />
<path d="M125.6 64.0H314.0V77.8H146.0Q142.0 77.6 139.6 72.6Q136.4 66.2 125.6 64.0z" fill="#5e0a10" />
<path d="M128.6 64.0H314.0V77.4H147.4Q143.6 77.2 141.2 72.2Q138.0 65.8 128.6 64.0z" fill="#b4121b" />
<rect x="73.80" y="91.20" width="240.20" height="1.90" fill="#c4161f" />
<rect x="73.80" y="93.00" width="240.20" height="0.70" fill="#fafafa" />
<rect x="169.00" y="67.00" width="24.20" height="8.80" fill="#5a0a0f" stroke="#74161b" stroke-width="0.5" />
<text x="174.00" y="73.20" font-size="6.8" fill="#f2e4e4" font-weight="bold" font-family="Liberation Serif, serif" textLength="14.40" lengthAdjust="spacingAndGlyphs" stroke="#f2e4e4" stroke-width="0.22">MAIN</text>
<rect x="171.00" y="68.60" width="2.00" height="0.80" fill="#c9a0a0" />
<rect x="189.20" y="68.60" width="2.00" height="0.80" fill="#c9a0a0" />
<rect x="204.40" y="66.40" width="3.00" height="9.80" fill="#c99f86" />
<rect x="208.00" y="66.40" width="3.00" height="9.80" fill="#c99f86" />
<line x1="205.90" y1="66.40" x2="205.90" y2="76.20" stroke="#ecd8c8" stroke-width="0.7" />
<line x1="209.50" y1="66.40" x2="209.50" y2="76.20" stroke="#ecd8c8" stroke-width="0.7" />
<line x1="204.40" y1="75.40" x2="211.00" y2="75.40" stroke="#9a5a40" stroke-width="0.6" />
<text x="213.40" y="74.40" font-size="9.2" fill="#f6f6f6" textLength="17.80" lengthAdjust="spacingAndGlyphs" stroke="#f6f6f6" stroke-width="0.22">R-100</text>
<rect x="234.20" y="67.00" width="9.60" height="8.40" fill="#5a0b10" />
<rect x="245.80" y="67.00" width="9.00" height="8.40" fill="#5a0b10" />
<line x1="200.80" y1="64.40" x2="200.80" y2="77.40" stroke="#8f0d15" stroke-width="0.8" />
<text x="235.60" y="71.40" font-size="3.8" fill="#e8dada" textLength="7.00" lengthAdjust="spacingAndGlyphs" stroke="#e8dada" stroke-width="0.22">SCR1</text>
<text x="247.00" y="71.40" font-size="3.8" fill="#e8dada" textLength="7.00" lengthAdjust="spacingAndGlyphs" stroke="#e8dada" stroke-width="0.22">SCR2</text>
<line x1="260.40" y1="64.00" x2="260.40" y2="77.60" stroke="#8f0d15" stroke-width="0.8" />
<rect x="265.20" y="66.40" width="3.00" height="9.80" fill="#c99f86" />
<rect x="268.80" y="66.40" width="3.00" height="9.80" fill="#c99f86" />
<line x1="266.70" y1="66.40" x2="266.70" y2="76.20" stroke="#ecd8c8" stroke-width="0.7" />
<line x1="270.30" y1="66.40" x2="270.30" y2="76.20" stroke="#ecd8c8" stroke-width="0.7" />
<line x1="265.20" y1="75.40" x2="271.80" y2="75.40" stroke="#9a5a40" stroke-width="0.6" />
<text x="274.20" y="74.40" font-size="9.2" fill="#f6f6f6" textLength="17.80" lengthAdjust="spacingAndGlyphs" stroke="#f6f6f6" stroke-width="0.22">R-200</text>
<rect x="295.00" y="67.00" width="9.40" height="8.40" fill="#5a0b10" />
<rect x="306.20" y="67.00" width="7.80" height="8.40" fill="#5a0b10" />
<text x="296.20" y="71.40" font-size="3.8" fill="#e8dada" textLength="7.00" lengthAdjust="spacingAndGlyphs" stroke="#e8dada" stroke-width="0.22">SCR1</text>
<text x="307.00" y="71.40" font-size="3.8" fill="#e8dada" textLength="6.80" lengthAdjust="spacingAndGlyphs" stroke="#e8dada" stroke-width="0.22">SCR2</text>
<text x="90.60" y="85.20" font-size="7.4" fill="#f4f4f4" font-weight="bold" font-family="Liberation Serif, serif" textLength="38.20" lengthAdjust="spacingAndGlyphs" stroke="#f4f4f4" stroke-width="0.22">MAIN-SCREEN</text>
<line x1="90.60" y1="86.40" x2="128.80" y2="86.40" stroke="#f2f2f2" stroke-width="0.55" />
<path d="M74.4 80.6l1.4 1.6l-1.4 1.6" fill="none" stroke="#222" stroke-width="0.7" />
<line x1="101.60" y1="102.60" x2="313.60" y2="102.60" stroke="#383838" stroke-width="0.9" />
<line x1="101.60" y1="104.20" x2="101.60" y2="125.20" stroke="#2a2a2a" stroke-width="0.9" />
<path d="M101.6 102.2l-1.6 2.8h3.2z" fill="#111" />
<line x1="74.00" y1="127.60" x2="98.00" y2="127.60" stroke="#2a2a2a" stroke-width="0.9" />
<path d="M99.2 127.6l-2.3400000000000003 -1.4400000000000002v2.8800000000000003z" fill="#111" />
<line x1="221.00" y1="125.40" x2="311.00" y2="125.40" stroke="#9a9a9a" stroke-width="0.45" />
<rect x="74.20" y="119.60" width="11.20" height="6.60" fill="#fbfbfb" stroke="#666" stroke-width="0.5" />
<line x1="79.40" y1="119.60" x2="79.40" y2="125.40" stroke="#777" stroke-width="0.4" />
<text x="75.00" y="124.20" font-size="3.4" fill="#555" textLength="3.80" lengthAdjust="spacingAndGlyphs" stroke="#555" stroke-width="0.22">Text</text>
<text x="80.40" y="124.20" font-size="3.4" fill="#555" textLength="3.60" lengthAdjust="spacingAndGlyphs" stroke="#555" stroke-width="0.22">Vol</text>
<rect x="74.20" y="147.80" width="11.20" height="6.60" fill="#fbfbfb" stroke="#666" stroke-width="0.5" />
<line x1="79.40" y1="147.80" x2="79.40" y2="153.60" stroke="#777" stroke-width="0.4" />
<text x="75.00" y="152.40" font-size="3.4" fill="#555" textLength="3.80" lengthAdjust="spacingAndGlyphs" stroke="#555" stroke-width="0.22">Text</text>
<text x="80.40" y="152.40" font-size="3.4" fill="#555" textLength="3.60" lengthAdjust="spacingAndGlyphs" stroke="#555" stroke-width="0.22">Vol</text>
<line x1="74.00" y1="154.60" x2="90.00" y2="154.60" stroke="#2a2a2a" stroke-width="0.8" />
<path d="M91.6 154.6l-2.21 -1.36v2.72z" fill="#111" />
<rect x="74.20" y="170.00" width="11.20" height="5.80" fill="#fbfbfb" stroke="#666" stroke-width="0.5" />
<line x1="79.40" y1="170.00" x2="79.40" y2="175.80" stroke="#777" stroke-width="0.4" />
<text x="75.00" y="174.60" font-size="3.4" fill="#555" textLength="3.80" lengthAdjust="spacingAndGlyphs" stroke="#555" stroke-width="0.22">Text</text>
<text x="80.40" y="174.60" font-size="3.4" fill="#555" textLength="3.60" lengthAdjust="spacingAndGlyphs" stroke="#555" stroke-width="0.22">Vol</text>
<line x1="74.00" y1="177.60" x2="90.00" y2="177.60" stroke="#2a2a2a" stroke-width="0.8" />
<path d="M91.6 177.6l-2.21 -1.36v2.72z" fill="#111" />
<rect x="74.20" y="194.40" width="11.20" height="5.80" fill="#fbfbfb" stroke="#666" stroke-width="0.5" />
<line x1="79.40" y1="194.40" x2="79.40" y2="200.20" stroke="#777" stroke-width="0.4" />
<text x="75.00" y="199.00" font-size="3.4" fill="#555" textLength="3.80" lengthAdjust="spacingAndGlyphs" stroke="#555" stroke-width="0.22">Text</text>
<text x="80.40" y="199.00" font-size="3.4" fill="#555" textLength="3.60" lengthAdjust="spacingAndGlyphs" stroke="#555" stroke-width="0.22">Vol</text>
<line x1="74.00" y1="202.00" x2="90.00" y2="202.00" stroke="#2a2a2a" stroke-width="0.8" />
<path d="M91.6 202.0l-2.21 -1.36v2.72z" fill="#111" />
<rect x="74.20" y="221.00" width="11.20" height="5.80" fill="#fbfbfb" stroke="#666" stroke-width="0.5" />
<line x1="79.40" y1="221.00" x2="79.40" y2="226.80" stroke="#777" stroke-width="0.4" />
<text x="75.00" y="225.60" font-size="3.4" fill="#555" textLength="3.80" lengthAdjust="spacingAndGlyphs" stroke="#555" stroke-width="0.22">Text</text>
<text x="80.40" y="225.60" font-size="3.4" fill="#555" textLength="3.60" lengthAdjust="spacingAndGlyphs" stroke="#555" stroke-width="0.22">Vol</text>
<line x1="74.00" y1="227.60" x2="90.00" y2="227.60" stroke="#2a2a2a" stroke-width="0.8" />
<path d="M91.6 227.6l-2.21 -1.36v2.72z" fill="#111" />
<line x1="91.80" y1="127.60" x2="91.80" y2="239.00" stroke="#2a2a2a" stroke-width="0.6" />
<line x1="96.60" y1="146.40" x2="96.60" y2="239.00" stroke="#2a2a2a" stroke-width="1.1" />
<rect x="96.20" y="144.60" width="12.80" height="1.90" fill="#bcbcbc" stroke="#8a8a8a" stroke-width="0.3" />
<rect x="99.60" y="125.20" width="4.20" height="4.60" fill="#f4f4f4" stroke="#2a2a2a" stroke-width="0.7" />
<line x1="97.80" y1="127.60" x2="99.60" y2="127.60" stroke="#2a2a2a" stroke-width="0.8" />
<circle cx="101.80" cy="131.60" r="1.30" fill="#f4f4f4" stroke="#2a2a2a" stroke-width="0.6"/>
<rect x="109.60" y="119.60" width="6.40" height="1.90" fill="#bdbdbd" stroke="#7a7a7a" stroke-width="0.35" />
<text x="117.00" y="121.60" font-size="4.4" fill="#333" textLength="10.40" lengthAdjust="spacingAndGlyphs" stroke="#333" stroke-width="0.1">VA-01</text>
<rect x="109.60" y="122.00" width="23.80" height="7.20" fill="#fdfdfd" stroke="#5a5a5a" stroke-width="0.55" />
<line x1="114.80" y1="122.00" x2="114.80" y2="129.20" stroke="#6a6a6a" stroke-width="0.5" />
<line x1="128.60" y1="122.00" x2="128.60" y2="129.20" stroke="#6a6a6a" stroke-width="0.5" />
<text x="110.60" y="127.20" font-size="3.3" fill="#6a6a6a" textLength="2.90" lengthAdjust="spacingAndGlyphs">PV</text>
<text x="121.40" y="127.40" font-size="4.0" fill="#3a3a3a" textLength="6.00" lengthAdjust="spacingAndGlyphs" stroke="#3a3a3a" stroke-width="0.05">Text</text>
<text x="129.80" y="127.20" font-size="3.3" fill="#6a6a6a" textLength="2.20" lengthAdjust="spacingAndGlyphs">V</text>
<rect x="105.20" y="131.00" width="16.80" height="6.80" fill="#e2151d" stroke="#9c0c12" stroke-width="0.4" />
<rect x="108.40" y="132.70" width="10.40" height="3.40" fill="#9c9c9c" stroke="#5c5c5c" stroke-width="0.5" rx="1.6" />
<path d="M105.8 131.8l2.2 2.5999999999999996l-2.2 2.5999999999999996M121.4 131.8l-2.2 2.5999999999999996l2.2 2.5999999999999996" fill="none" stroke="#f4c8c8" stroke-width="0.4" />
<path d="M122 134.4H125.8V144.6H112.8V156" fill="none" stroke="#6a6a6a" stroke-width="1.3" />
<path d="M109.6 140.6l-1.52 2.6599999999999997h3.04z" fill="#111" />
<rect x="127.60" y="129.90" width="6.50" height="2.50" fill="#bdbdbd" stroke="#7a7a7a" stroke-width="0.35" />
<rect x="127.60" y="132.40" width="25.20" height="7.40" fill="#fff" stroke="#8c1c1c" stroke-width="1.0" />
<line x1="132.80" y1="132.40" x2="132.80" y2="139.80" stroke="#6a6a6a" stroke-width="0.5" />
<line x1="148.00" y1="132.40" x2="148.00" y2="139.80" stroke="#6a6a6a" stroke-width="0.5" />
<text x="128.60" y="137.80" font-size="3.3" fill="#6a6a6a" textLength="2.90" lengthAdjust="spacingAndGlyphs">PV</text>
<text x="140.80" y="138.00" font-size="4.0" fill="#3a3a3a" textLength="6.00" lengthAdjust="spacingAndGlyphs" stroke="#3a3a3a" stroke-width="0.05">Text</text>
<text x="149.20" y="137.80" font-size="3.3" fill="#6a6a6a" textLength="2.20" lengthAdjust="spacingAndGlyphs">Vol</text>
<rect x="128.60" y="140.70" width="8.00" height="2.50" fill="#bdbdbd" stroke="#7a7a7a" stroke-width="0.35" />
<rect x="128.60" y="143.20" width="24.60" height="8.00" fill="#fdfdfd" stroke="#5a5a5a" stroke-width="0.55" />
<line x1="133.80" y1="143.20" x2="133.80" y2="151.20" stroke="#6a6a6a" stroke-width="0.5" />
<line x1="148.40" y1="143.20" x2="148.40" y2="151.20" stroke="#6a6a6a" stroke-width="0.5" />
<text x="129.60" y="149.20" font-size="3.3" fill="#6a6a6a" textLength="2.90" lengthAdjust="spacingAndGlyphs">PV</text>
<text x="141.20" y="149.40" font-size="4.0" fill="#3a3a3a" textLength="6.00" lengthAdjust="spacingAndGlyphs" stroke="#3a3a3a" stroke-width="0.05"></text>
<text x="149.60" y="149.20" font-size="3.3" fill="#6a6a6a" textLength="2.20" lengthAdjust="spacingAndGlyphs">XX</text>
<line x1="146.20" y1="143.20" x2="146.20" y2="151.20" stroke="#6a6a6a" stroke-width="0.5" />
<path d="M113.6 146.4H128.6" fill="none" stroke="#86aedb" stroke-width="2.0" />
<text x="116.80" y="150.80" font-size="4.2" fill="#333" textLength="10.00" lengthAdjust="spacingAndGlyphs" stroke="#333" stroke-width="0.1">R-100</text>
<text x="117.00" y="154.00" font-size="2.8" fill="#777" textLength="12.00" lengthAdjust="spacingAndGlyphs" stroke="#777" stroke-width="0.22">GTN Reactor</text>
<path d="M113.0 152.6l-1.6 -2.8h3.2z" fill="#111" />
<line x1="150.80" y1="139.80" x2="150.80" y2="215.40" stroke="#4a92d4" stroke-width="1.1" />
<line x1="155.40" y1="143.00" x2="155.40" y2="224.40" stroke="#4a92d4" stroke-width="1.1" />
<path d="M233 131.2H153.6V239" fill="none" stroke="#555" stroke-width="0.7" />
<rect x="167.40" y="132.20" width="7.00" height="1.90" fill="#bdbdbd" stroke="#7a7a7a" stroke-width="0.35" />
<text x="176.00" y="134.00" font-size="4.2" fill="#333" textLength="10.00" lengthAdjust="spacingAndGlyphs" stroke="#333" stroke-width="0.1">VA-02</text>
<rect x="167.20" y="134.80" width="24.60" height="7.80" fill="#fdfdfd" stroke="#5a5a5a" stroke-width="0.55" />
<line x1="172.40" y1="134.80" x2="172.40" y2="142.60" stroke="#6a6a6a" stroke-width="0.5" />
<line x1="187.00" y1="134.80" x2="187.00" y2="142.60" stroke="#6a6a6a" stroke-width="0.5" />
<text x="168.20" y="140.60" font-size="3.3" fill="#6a6a6a" textLength="2.90" lengthAdjust="spacingAndGlyphs">PV</text>
<text x="179.80" y="140.80" font-size="4.0" fill="#3a3a3a" textLength="6.00" lengthAdjust="spacingAndGlyphs" stroke="#3a3a3a" stroke-width="0.05">Text</text>
<text x="188.20" y="140.60" font-size="3.3" fill="#6a6a6a" textLength="2.20" lengthAdjust="spacingAndGlyphs">V</text>
<rect x="157.40" y="143.20" width="23.60" height="8.00" fill="#fdfdfd" stroke="#5a5a5a" stroke-width="0.55" />
<line x1="162.60" y1="143.20" x2="162.60" y2="151.20" stroke="#6a6a6a" stroke-width="0.5" />
<line x1="176.20" y1="143.20" x2="176.20" y2="151.20" stroke="#6a6a6a" stroke-width="0.5" />
<text x="158.40" y="149.20" font-size="3.3" fill="#6a6a6a" textLength="2.90" lengthAdjust="spacingAndGlyphs">PV</text>
<text x="169.00" y="149.40" font-size="4.0" fill="#3a3a3a" textLength="6.00" lengthAdjust="spacingAndGlyphs" stroke="#3a3a3a" stroke-width="0.05">Text</text>
<text x="177.40" y="149.20" font-size="3.3" fill="#6a6a6a" textLength="2.20" lengthAdjust="spacingAndGlyphs">Vol</text>
<path d="M164 152.4l1.6 2.4h8l2-2.6" fill="none" stroke="#444" stroke-width="0.5" />
<circle cx="164.40" cy="154.00" r="0.80" fill="#fff" stroke="#333" stroke-width="0.4"/>
<text x="166.00" y="158.80" font-size="2.8" fill="#666" textLength="11.00" lengthAdjust="spacingAndGlyphs" stroke="#666" stroke-width="0.22">Ctrl Reactor</text>
<rect x="157.60" y="158.90" width="8.00" height="2.50" fill="#bdbdbd" stroke="#7a7a7a" stroke-width="0.35" />
<rect x="157.60" y="161.40" width="23.40" height="7.00" fill="#fdfdfd" stroke="#5a5a5a" stroke-width="0.55" />
<line x1="162.80" y1="161.40" x2="162.80" y2="168.40" stroke="#6a6a6a" stroke-width="0.5" />
<line x1="176.20" y1="161.40" x2="176.20" y2="168.40" stroke="#6a6a6a" stroke-width="0.5" />
<text x="158.60" y="166.40" font-size="3.3" fill="#6a6a6a" textLength="2.90" lengthAdjust="spacingAndGlyphs">PV</text>
<text x="169.00" y="166.60" font-size="4.0" fill="#3a3a3a" textLength="6.00" lengthAdjust="spacingAndGlyphs" stroke="#3a3a3a" stroke-width="0.05">Text</text>
<text x="177.40" y="166.40" font-size="3.3" fill="#6a6a6a" textLength="2.20" lengthAdjust="spacingAndGlyphs">V</text>
<rect x="101.20" y="156.60" width="23.80" height="56.00" fill="#3f3f3f" stroke="#2b2b2b" stroke-width="0.5" rx="0.8" />
<rect x="103.20" y="159.00" width="8.05" height="52.00" fill="url(#tubes)" />
<rect x="103.20" y="159.00" width="8.05" height="52.00" fill="url(#copper)" opacity="0.22" />
<line x1="107.23" y1="159.00" x2="107.23" y2="211.00" stroke="#d8381c" stroke-width="0.5" opacity="0.5" />
<line x1="103.60" y1="159.00" x2="103.60" y2="211.00" stroke="#e24a2a" stroke-width="0.55" opacity="0.75" />
<line x1="110.85" y1="159.00" x2="110.85" y2="211.00" stroke="#e24a2a" stroke-width="0.55" opacity="0.7" />
<rect x="115.78" y="159.00" width="7.62" height="52.00" fill="url(#tubes)" />
<rect x="115.78" y="159.00" width="7.62" height="52.00" fill="url(#copper)" opacity="0.22" />
<line x1="119.59" y1="159.00" x2="119.59" y2="211.00" stroke="#d8381c" stroke-width="0.5" opacity="0.5" />
<line x1="116.18" y1="159.00" x2="116.18" y2="211.00" stroke="#e24a2a" stroke-width="0.55" opacity="0.75" />
<line x1="123.00" y1="159.00" x2="123.00" y2="211.00" stroke="#e24a2a" stroke-width="0.55" opacity="0.7" />
<rect x="111.55" y="155.60" width="3.93" height="62.00" fill="url(#steel)" stroke="#333" stroke-width="0.4" />
<circle cx="113.52" cy="169.48" r="0.70" fill="#222"/>
<circle cx="113.52" cy="184.60" r="0.70" fill="#222"/>
<circle cx="113.52" cy="205.32" r="0.70" fill="#222"/>
<rect x="180.80" y="153.40" width="26.20" height="57.60" fill="#3f3f3f" stroke="#2b2b2b" stroke-width="0.5" rx="0.8" />
<rect x="182.80" y="155.80" width="9.10" height="53.60" fill="url(#tubes)" />
<rect x="182.80" y="155.80" width="9.10" height="53.60" fill="url(#copper)" opacity="0.22" />
<line x1="187.35" y1="155.80" x2="187.35" y2="209.40" stroke="#d8381c" stroke-width="0.5" opacity="0.5" />
<line x1="183.20" y1="155.80" x2="183.20" y2="209.40" stroke="#e24a2a" stroke-width="0.55" opacity="0.75" />
<line x1="191.50" y1="155.80" x2="191.50" y2="209.40" stroke="#e24a2a" stroke-width="0.55" opacity="0.7" />
<rect x="196.82" y="155.80" width="8.58" height="53.60" fill="url(#tubes)" />
<rect x="196.82" y="155.80" width="8.58" height="53.60" fill="url(#copper)" opacity="0.22" />
<line x1="201.11" y1="155.80" x2="201.11" y2="209.40" stroke="#d8381c" stroke-width="0.5" opacity="0.5" />
<line x1="197.22" y1="155.80" x2="197.22" y2="209.40" stroke="#e24a2a" stroke-width="0.55" opacity="0.75" />
<line x1="205.00" y1="155.80" x2="205.00" y2="209.40" stroke="#e24a2a" stroke-width="0.55" opacity="0.7" />
<rect x="192.20" y="152.40" width="4.32" height="63.60" fill="url(#steel)" stroke="#333" stroke-width="0.4" />
<rect x="181.40" y="172.50" width="25.00" height="1.40" fill="#2b2b2b" />
<circle cx="194.36" cy="166.65" r="0.70" fill="#222"/>
<circle cx="194.36" cy="182.20" r="0.70" fill="#222"/>
<circle cx="194.36" cy="203.51" r="0.70" fill="#222"/>
<circle cx="181.00" cy="174.80" r="0.65" fill="#25c8e0"/>
<circle cx="192.20" cy="174.80" r="0.65" fill="#25c8e0"/>
<circle cx="196.52" cy="174.80" r="0.65" fill="#25c8e0"/>
<circle cx="206.60" cy="174.80" r="0.65" fill="#25c8e0"/>
<circle cx="181.00" cy="183.40" r="0.65" fill="#25c8e0"/>
<circle cx="192.20" cy="183.40" r="0.65" fill="#25c8e0"/>
<circle cx="196.52" cy="183.40" r="0.65" fill="#25c8e0"/>
<circle cx="206.60" cy="183.40" r="0.65" fill="#25c8e0"/>
<circle cx="181.00" cy="191.20" r="0.65" fill="#25c8e0"/>
<circle cx="192.20" cy="191.20" r="0.65" fill="#25c8e0"/>
<circle cx="196.52" cy="191.20" r="0.65" fill="#25c8e0"/>
<circle cx="206.60" cy="191.20" r="0.65" fill="#25c8e0"/>
<line x1="113.20" y1="217.60" x2="113.20" y2="226.00" stroke="#2a2a2a" stroke-width="0.7" />
<path d="M113.2 228.0l-1.36 -2.38h2.72z" fill="#111" />
<path d="M113.4 220.6H128.2" fill="none" stroke="#4a92d4" stroke-width="1.0" />
<rect x="110.20" y="230.20" width="5.00" height="5.60" fill="#f4f4f4" stroke="#2a2a2a" stroke-width="0.7" />
<line x1="108.60" y1="231.00" x2="108.60" y2="235.40" stroke="#2a2a2a" stroke-width="0.7" />
<line x1="115.20" y1="233.00" x2="117.20" y2="233.00" stroke="#2a2a2a" stroke-width="0.6" />
<line x1="117.40" y1="233.20" x2="127.00" y2="233.20" stroke="#f0b020" stroke-width="1.0" />
<line x1="122.60" y1="230.60" x2="122.60" y2="239.00" stroke="#2a2a2a" stroke-width="0.9" />
<circle cx="112.80" cy="237.80" r="0.90" fill="#f0b020"/>
<rect x="128.00" y="237.40" width="22.00" height="2.40" fill="#f4f4f4" stroke="#444" stroke-width="0.8" />
<rect x="124.80" y="160.40" width="23.80" height="6.80" fill="#fdfdfd" stroke="#5a5a5a" stroke-width="0.55" />
<line x1="130.00" y1="160.40" x2="130.00" y2="167.20" stroke="#6a6a6a" stroke-width="0.5" />
<line x1="143.80" y1="160.40" x2="143.80" y2="167.20" stroke="#6a6a6a" stroke-width="0.5" />
<path d="M127 161.4v4.6M128.4 161.6h7.6M133.6 165.8h7" fill="none" stroke="#444" stroke-width="0.45" />
<circle cx="136.40" cy="161.80" r="0.80" fill="#fff" stroke="#333" stroke-width="0.4"/>
<circle cx="134.20" cy="165.80" r="0.80" fill="#fff" stroke="#333" stroke-width="0.4"/>
<text x="138.40" y="165.20" font-size="3.6" fill="#444" textLength="4.80" lengthAdjust="spacingAndGlyphs" stroke="#444" stroke-width="0.22">Text</text>
<rect x="124.80" y="177.50" width="8.00" height="2.50" fill="#bdbdbd" stroke="#7a7a7a" stroke-width="0.35" />
<rect x="124.80" y="180.00" width="23.80" height="6.60" fill="#fdfdfd" stroke="#5a5a5a" stroke-width="0.55" />
<line x1="130.00" y1="180.00" x2="130.00" y2="186.60" stroke="#6a6a6a" stroke-width="0.5" />
<line x1="143.80" y1="180.00" x2="143.80" y2="186.60" stroke="#6a6a6a" stroke-width="0.5" />
<text x="125.80" y="184.60" font-size="3.3" fill="#6a6a6a" textLength="2.90" lengthAdjust="spacingAndGlyphs">PV</text>
<text x="136.60" y="184.80" font-size="4.0" fill="#3a3a3a" textLength="6.00" lengthAdjust="spacingAndGlyphs" stroke="#3a3a3a" stroke-width="0.05">Text</text>
<text x="145.00" y="184.60" font-size="3.3" fill="#6a6a6a" textLength="2.20" lengthAdjust="spacingAndGlyphs">V</text>
<rect x="124.80" y="201.90" width="8.00" height="2.50" fill="#bdbdbd" stroke="#7a7a7a" stroke-width="0.35" />
<rect x="124.80" y="204.40" width="23.80" height="6.60" fill="#fdfdfd" stroke="#5a5a5a" stroke-width="0.55" />
<line x1="130.00" y1="204.40" x2="130.00" y2="211.00" stroke="#6a6a6a" stroke-width="0.5" />
<line x1="143.80" y1="204.40" x2="143.80" y2="211.00" stroke="#6a6a6a" stroke-width="0.5" />
<text x="125.80" y="209.00" font-size="3.3" fill="#6a6a6a" textLength="2.90" lengthAdjust="spacingAndGlyphs">PV</text>
<text x="136.60" y="209.20" font-size="4.0" fill="#3a3a3a" textLength="6.00" lengthAdjust="spacingAndGlyphs" stroke="#3a3a3a" stroke-width="0.05">Text</text>
<text x="145.00" y="209.00" font-size="3.3" fill="#6a6a6a" textLength="2.20" lengthAdjust="spacingAndGlyphs">V</text>
<rect x="128.40" y="213.10" width="8.00" height="2.50" fill="#bdbdbd" stroke="#7a7a7a" stroke-width="0.35" />
<rect x="128.40" y="215.60" width="24.80" height="7.40" fill="#fdfdfd" stroke="#5a5a5a" stroke-width="0.55" />
<line x1="133.60" y1="215.60" x2="133.60" y2="223.00" stroke="#6a6a6a" stroke-width="0.5" />
<line x1="148.40" y1="215.60" x2="148.40" y2="223.00" stroke="#6a6a6a" stroke-width="0.5" />
<text x="129.40" y="221.00" font-size="3.3" fill="#6a6a6a" textLength="2.90" lengthAdjust="spacingAndGlyphs">PV</text>
<text x="141.20" y="221.20" font-size="4.0" fill="#3a3a3a" textLength="6.00" lengthAdjust="spacingAndGlyphs" stroke="#3a3a3a" stroke-width="0.05">Tsp</text>
<text x="149.60" y="221.00" font-size="3.3" fill="#6a6a6a" textLength="2.20" lengthAdjust="spacingAndGlyphs">XX</text>
<line x1="146.00" y1="215.60" x2="146.00" y2="223.00" stroke="#6a6a6a" stroke-width="0.5" />
<rect x="157.80" y="177.50" width="8.00" height="2.50" fill="#bdbdbd" stroke="#7a7a7a" stroke-width="0.35" />
<rect x="157.80" y="180.00" width="23.20" height="6.60" fill="#fdfdfd" stroke="#5a5a5a" stroke-width="0.55" />
<line x1="163.00" y1="180.00" x2="163.00" y2="186.60" stroke="#6a6a6a" stroke-width="0.5" />
<line x1="176.20" y1="180.00" x2="176.20" y2="186.60" stroke="#6a6a6a" stroke-width="0.5" />
<text x="158.80" y="184.60" font-size="3.3" fill="#6a6a6a" textLength="2.90" lengthAdjust="spacingAndGlyphs">PV</text>
<text x="169.00" y="184.80" font-size="4.0" fill="#3a3a3a" textLength="6.00" lengthAdjust="spacingAndGlyphs" stroke="#3a3a3a" stroke-width="0.05">Text</text>
<text x="177.40" y="184.60" font-size="3.3" fill="#6a6a6a" textLength="2.20" lengthAdjust="spacingAndGlyphs">V</text>
<rect x="157.80" y="197.10" width="8.00" height="2.50" fill="#bdbdbd" stroke="#7a7a7a" stroke-width="0.35" />
<rect x="157.80" y="199.60" width="23.20" height="6.60" fill="#fdfdfd" stroke="#5a5a5a" stroke-width="0.55" />
<line x1="163.00" y1="199.60" x2="163.00" y2="206.20" stroke="#6a6a6a" stroke-width="0.5" />
<line x1="176.20" y1="199.60" x2="176.20" y2="206.20" stroke="#6a6a6a" stroke-width="0.5" />
<text x="158.80" y="204.20" font-size="3.3" fill="#6a6a6a" textLength="2.90" lengthAdjust="spacingAndGlyphs">PV</text>
<text x="169.00" y="204.40" font-size="4.0" fill="#3a3a3a" textLength="6.00" lengthAdjust="spacingAndGlyphs" stroke="#3a3a3a" stroke-width="0.05">Text</text>
<text x="177.40" y="204.20" font-size="3.3" fill="#6a6a6a" textLength="2.20" lengthAdjust="spacingAndGlyphs">V</text>
<rect x="157.80" y="211.90" width="8.00" height="2.50" fill="#bdbdbd" stroke="#7a7a7a" stroke-width="0.35" />
<rect x="157.80" y="214.40" width="23.20" height="6.80" fill="#fdfdfd" stroke="#5a5a5a" stroke-width="0.55" />
<line x1="163.00" y1="214.40" x2="163.00" y2="221.20" stroke="#6a6a6a" stroke-width="0.5" />
<line x1="176.20" y1="214.40" x2="176.20" y2="221.20" stroke="#6a6a6a" stroke-width="0.5" />
<text x="158.80" y="219.20" font-size="3.3" fill="#6a6a6a" textLength="2.90" lengthAdjust="spacingAndGlyphs">PV</text>
<text x="169.00" y="219.40" font-size="4.0" fill="#3a3a3a" textLength="6.00" lengthAdjust="spacingAndGlyphs" stroke="#3a3a3a" stroke-width="0.05">Text</text>
<text x="177.40" y="219.20" font-size="3.3" fill="#6a6a6a" textLength="2.20" lengthAdjust="spacingAndGlyphs">V</text>
<text x="175.40" y="218.60" font-size="3.6" fill="#333" textLength="1.40" lengthAdjust="spacingAndGlyphs" stroke="#333" stroke-width="0.22">5</text>
<rect x="154.40" y="223.70" width="6.50" height="2.50" fill="#bdbdbd" stroke="#7a7a7a" stroke-width="0.35" />
<rect x="154.40" y="226.20" width="24.40" height="7.40" fill="#fff" stroke="#8c1c1c" stroke-width="1.0" />
<line x1="159.60" y1="226.20" x2="159.60" y2="233.60" stroke="#6a6a6a" stroke-width="0.5" />
<line x1="174.00" y1="226.20" x2="174.00" y2="233.60" stroke="#6a6a6a" stroke-width="0.5" />
<text x="155.40" y="231.60" font-size="3.3" fill="#6a6a6a" textLength="2.90" lengthAdjust="spacingAndGlyphs">Ev</text>
<text x="166.80" y="231.80" font-size="4.0" fill="#3a3a3a" textLength="6.00" lengthAdjust="spacingAndGlyphs" stroke="#3a3a3a" stroke-width="0.05">Text</text>
<text x="175.20" y="231.60" font-size="3.3" fill="#6a6a6a" textLength="2.20" lengthAdjust="spacingAndGlyphs">tv</text>
<path d="M173.6 235.0v3.6M172 236.2h3.4M171.6 237.6h4.2" fill="none" stroke="#333" stroke-width="0.5" />
<path d="M181 217.4H194" fill="none" stroke="#4a92d4" stroke-width="1.0" />
<path d="M181.0 146.2H194.2" fill="none" stroke="#8bbce6" stroke-width="2.4" />
<rect x="196.60" y="115.60" width="6.60" height="1.90" fill="#bdbdbd" stroke="#7a7a7a" stroke-width="0.35" />
<text x="204.60" y="117.60" font-size="4.2" fill="#333" textLength="10.00" lengthAdjust="spacingAndGlyphs" stroke="#333" stroke-width="0.1">VA-02</text>
<rect x="196.40" y="118.20" width="24.80" height="7.20" fill="#fdfdfd" stroke="#5a5a5a" stroke-width="0.55" />
<line x1="201.60" y1="118.20" x2="201.60" y2="125.40" stroke="#6a6a6a" stroke-width="0.5" />
<line x1="216.40" y1="118.20" x2="216.40" y2="125.40" stroke="#6a6a6a" stroke-width="0.5" />
<text x="197.40" y="123.40" font-size="3.3" fill="#6a6a6a" textLength="2.90" lengthAdjust="spacingAndGlyphs">PV</text>
<text x="209.20" y="123.60" font-size="4.0" fill="#3a3a3a" textLength="6.00" lengthAdjust="spacingAndGlyphs" stroke="#3a3a3a" stroke-width="0.05">Text</text>
<text x="217.60" y="123.40" font-size="3.3" fill="#6a6a6a" textLength="2.20" lengthAdjust="spacingAndGlyphs">V</text>
<line x1="181.00" y1="130.60" x2="192.00" y2="130.60" stroke="#555" stroke-width="0.9" />
<circle cx="194.40" cy="130.60" r="2.70" fill="#f2f2f2" stroke="#2a2a2a" stroke-width="0.7"/>
<line x1="191.70" y1="130.60" x2="197.10" y2="130.60" stroke="#2a2a2a" stroke-width="0.5" />
<line x1="194.40" y1="127.90" x2="194.40" y2="133.30" stroke="#2a2a2a" stroke-width="0.5" />
<path d="M192.8 126.4h3.2l-1.6 1.8z" fill="#eee" stroke="#2a2a2a" stroke-width="0.4" />
<rect x="201.00" y="127.00" width="17.80" height="7.00" fill="#e2151d" stroke="#9c0c12" stroke-width="0.4" />
<rect x="204.20" y="128.70" width="11.40" height="3.60" fill="#9c9c9c" stroke="#5c5c5c" stroke-width="0.5" rx="1.6" />
<path d="M201.6 127.8l2.2 2.7l-2.2 2.7M218.20000000000002 127.8l-2.2 2.7l2.2 2.7" fill="none" stroke="#f4c8c8" stroke-width="0.4" />
<line x1="218.80" y1="130.60" x2="229.60" y2="130.60" stroke="#555" stroke-width="1.0" />
<circle cx="232.60" cy="130.60" r="2.90" fill="#f4f4f4" stroke="#2a2a2a" stroke-width="0.8"/>
<rect x="234.60" y="128.00" width="2.80" height="5.20" fill="#f4f4f4" stroke="#2a2a2a" stroke-width="0.7" />
<rect x="231.30" y="126.00" width="2.60" height="1.80" fill="#f4f4f4" stroke="#2a2a2a" stroke-width="0.6" />
<rect x="192.20" y="135.60" width="4.90" height="9.00" fill="#e2151d" stroke="#9c0c12" stroke-width="0.4" />
<rect x="193.20" y="137.10" width="2.90" height="5.80" fill="#c4aaaa" stroke="#6a5050" stroke-width="0.4" rx="1.0" />
<line x1="194.40" y1="145.20" x2="194.40" y2="153.40" stroke="#555" stroke-width="1.2" />
<path d="M212.6 137.4q2.4-1.6 2.6 1.6v4.0q-0.4 1.6-2.2 1.2v-4.6" fill="#e8e8e8" stroke="#444" stroke-width="0.7" />
<path d="M212.6 143.8V147.6H236.8" fill="none" stroke="#555" stroke-width="1.1" />
<line x1="232.80" y1="134.00" x2="232.80" y2="221.20" stroke="#4a4a4a" stroke-width="1.2" />
<line x1="236.80" y1="147.60" x2="236.80" y2="239.00" stroke="#4a4a4a" stroke-width="0.9" />
<rect x="231.60" y="146.40" width="2.40" height="2.40" fill="#333" />
<text x="205.60" y="148.60" font-size="3.6" fill="#888" textLength="1.00" lengthAdjust="spacingAndGlyphs" stroke="#888" stroke-width="0.22">(</text>
<rect x="207.60" y="158.50" width="8.00" height="2.50" fill="#bdbdbd" stroke="#7a7a7a" stroke-width="0.35" />
<rect x="207.60" y="161.00" width="23.60" height="6.40" fill="#fdfdfd" stroke="#5a5a5a" stroke-width="0.55" />
<line x1="212.80" y1="161.00" x2="212.80" y2="167.40" stroke="#6a6a6a" stroke-width="0.5" />
<line x1="226.40" y1="161.00" x2="226.40" y2="167.40" stroke="#6a6a6a" stroke-width="0.5" />
<text x="208.60" y="165.40" font-size="3.3" fill="#6a6a6a" textLength="2.90" lengthAdjust="spacingAndGlyphs">PV</text>
<text x="219.20" y="165.60" font-size="4.0" fill="#3a3a3a" textLength="6.00" lengthAdjust="spacingAndGlyphs" stroke="#3a3a3a" stroke-width="0.05">HHH</text>
<text x="227.60" y="165.40" font-size="3.3" fill="#6a6a6a" textLength="2.20" lengthAdjust="spacingAndGlyphs">V</text>
<rect x="207.60" y="173.90" width="8.00" height="2.50" fill="#bdbdbd" stroke="#7a7a7a" stroke-width="0.35" />
<rect x="207.60" y="176.40" width="23.60" height="6.60" fill="#fdfdfd" stroke="#5a5a5a" stroke-width="0.55" />
<line x1="212.80" y1="176.40" x2="212.80" y2="183.00" stroke="#6a6a6a" stroke-width="0.5" />
<line x1="226.40" y1="176.40" x2="226.40" y2="183.00" stroke="#6a6a6a" stroke-width="0.5" />
<text x="208.60" y="181.00" font-size="3.3" fill="#6a6a6a" textLength="2.90" lengthAdjust="spacingAndGlyphs">PV</text>
<text x="219.20" y="181.20" font-size="4.0" fill="#3a3a3a" textLength="6.00" lengthAdjust="spacingAndGlyphs" stroke="#3a3a3a" stroke-width="0.05">Text</text>
<text x="227.60" y="181.00" font-size="3.3" fill="#6a6a6a" textLength="2.20" lengthAdjust="spacingAndGlyphs">V</text>
<rect x="207.60" y="183.90" width="8.00" height="2.50" fill="#bdbdbd" stroke="#7a7a7a" stroke-width="0.35" />
<rect x="207.60" y="186.40" width="23.60" height="6.40" fill="#fdfdfd" stroke="#5a5a5a" stroke-width="0.55" />
<line x1="212.80" y1="186.40" x2="212.80" y2="192.80" stroke="#6a6a6a" stroke-width="0.5" />
<line x1="226.40" y1="186.40" x2="226.40" y2="192.80" stroke="#6a6a6a" stroke-width="0.5" />
<text x="208.60" y="190.80" font-size="3.3" fill="#6a6a6a" textLength="2.90" lengthAdjust="spacingAndGlyphs">PV</text>
<text x="219.20" y="191.00" font-size="4.0" fill="#3a3a3a" textLength="6.00" lengthAdjust="spacingAndGlyphs" stroke="#3a3a3a" stroke-width="0.05">Text</text>
<text x="227.60" y="190.80" font-size="3.3" fill="#6a6a6a" textLength="2.20" lengthAdjust="spacingAndGlyphs">V</text>
<rect x="207.60" y="197.10" width="8.00" height="2.50" fill="#bdbdbd" stroke="#7a7a7a" stroke-width="0.35" />
<rect x="207.60" y="199.60" width="23.60" height="6.20" fill="#fdfdfd" stroke="#5a5a5a" stroke-width="0.55" />
<line x1="212.80" y1="199.60" x2="212.80" y2="205.80" stroke="#6a6a6a" stroke-width="0.5" />
<line x1="226.40" y1="199.60" x2="226.40" y2="205.80" stroke="#6a6a6a" stroke-width="0.5" />
<text x="208.60" y="203.80" font-size="3.3" fill="#6a6a6a" textLength="2.90" lengthAdjust="spacingAndGlyphs">PV</text>
<text x="219.20" y="204.00" font-size="4.0" fill="#3a3a3a" textLength="6.00" lengthAdjust="spacingAndGlyphs" stroke="#3a3a3a" stroke-width="0.05">Text</text>
<text x="227.60" y="203.80" font-size="3.3" fill="#6a6a6a" textLength="2.20" lengthAdjust="spacingAndGlyphs">V</text>
<line x1="194.60" y1="216.00" x2="194.60" y2="228.40" stroke="#555" stroke-width="1.0" />
<rect x="195.80" y="217.60" width="7.00" height="2.70" fill="#bdbdbd" stroke="#7a7a7a" stroke-width="0.35" />
<text x="205.00" y="219.40" font-size="4.2" fill="#333" textLength="10.40" lengthAdjust="spacingAndGlyphs" stroke="#333" stroke-width="0.1">VA-04</text>
<rect x="195.80" y="220.60" width="23.80" height="6.20" fill="#fdfdfd" stroke="#5a5a5a" stroke-width="0.55" />
<line x1="201.00" y1="220.60" x2="201.00" y2="226.80" stroke="#6a6a6a" stroke-width="0.5" />
<line x1="214.80" y1="220.60" x2="214.80" y2="226.80" stroke="#6a6a6a" stroke-width="0.5" />
<text x="196.80" y="224.80" font-size="3.3" fill="#6a6a6a" textLength="2.90" lengthAdjust="spacingAndGlyphs">PV</text>
<text x="207.60" y="225.00" font-size="4.0" fill="#3a3a3a" textLength="6.00" lengthAdjust="spacingAndGlyphs" stroke="#3a3a3a" stroke-width="0.05">Text</text>
<text x="216.00" y="224.80" font-size="3.3" fill="#6a6a6a" textLength="2.20" lengthAdjust="spacingAndGlyphs">V</text>
<path d="M232.8 221.2H221.2V231.8" fill="none" stroke="#4a4a4a" stroke-width="0.9" />
<line x1="181.00" y1="231.80" x2="190.00" y2="231.80" stroke="#555" stroke-width="0.7" />
<circle cx="194.20" cy="231.80" r="2.80" fill="#f4f4f4" stroke="#2a2a2a" stroke-width="0.8"/>
<rect x="189.60" y="229.40" width="2.40" height="4.80" fill="#f4f4f4" stroke="#2a2a2a" stroke-width="0.6" />
<line x1="194.20" y1="234.60" x2="194.20" y2="239.00" stroke="#2a2a2a" stroke-width="0.6" />
<rect x="201.00" y="227.90" width="17.80" height="7.00" fill="#e2151d" stroke="#9c0c12" stroke-width="0.4" />
<rect x="204.20" y="229.60" width="11.40" height="3.60" fill="#9c9c9c" stroke="#5c5c5c" stroke-width="0.5" rx="1.6" />
<path d="M201.6 228.70000000000002l2.2 2.7l-2.2 2.7M218.20000000000002 228.70000000000002l-2.2 2.7l2.2 2.7" fill="none" stroke="#f4c8c8" stroke-width="0.4" />
<line x1="218.80" y1="231.80" x2="223.00" y2="231.80" stroke="#555" stroke-width="0.9" />
<path d="M223.0 233.0l2.2-2.6l2.4 2.4" fill="none" stroke="#2a2a2a" stroke-width="0.6" />
<circle cx="225.40" cy="231.60" r="1.20" fill="#f4f4f4" stroke="#2a2a2a" stroke-width="0.5"/>
<line x1="227.60" y1="231.80" x2="233.60" y2="231.80" stroke="#555" stroke-width="0.8" />
<circle cx="236.80" cy="232.00" r="2.90" fill="#f4f4f4" stroke="#2a2a2a" stroke-width="0.8"/>
<rect x="238.80" y="229.40" width="2.80" height="5.20" fill="#f4f4f4" stroke="#2a2a2a" stroke-width="0.7" />
<rect x="235.50" y="227.40" width="2.60" height="1.80" fill="#f4f4f4" stroke="#2a2a2a" stroke-width="0.6" />
<rect x="280.80" y="131.60" width="7.00" height="1.90" fill="#bdbdbd" stroke="#7a7a7a" stroke-width="0.35" />
<text x="289.40" y="133.60" font-size="4.2" fill="#333" textLength="10.20" lengthAdjust="spacingAndGlyphs" stroke="#333" stroke-width="0.1">VA-03</text>
<rect x="280.80" y="134.40" width="25.00" height="7.00" fill="#fdfdfd" stroke="#5a5a5a" stroke-width="0.55" />
<line x1="286.00" y1="134.40" x2="286.00" y2="141.40" stroke="#6a6a6a" stroke-width="0.5" />
<line x1="301.00" y1="134.40" x2="301.00" y2="141.40" stroke="#6a6a6a" stroke-width="0.5" />
<text x="281.80" y="139.40" font-size="3.3" fill="#6a6a6a" textLength="2.90" lengthAdjust="spacingAndGlyphs">PV</text>
<text x="293.80" y="139.60" font-size="4.0" fill="#3a3a3a" textLength="6.00" lengthAdjust="spacingAndGlyphs" stroke="#3a3a3a" stroke-width="0.05">Text</text>
<text x="302.20" y="139.40" font-size="3.3" fill="#6a6a6a" textLength="2.20" lengthAdjust="spacingAndGlyphs">V</text>
<rect x="288.60" y="142.60" width="16.00" height="7.40" fill="#e2151d" stroke="#9c0c12" stroke-width="0.4" />
<rect x="291.80" y="144.30" width="9.60" height="4.00" fill="#9c9c9c" stroke="#5c5c5c" stroke-width="0.5" rx="1.6" />
<path d="M289.20000000000005 143.4l2.2 2.9000000000000004l-2.2 2.9000000000000004M304.0 143.4l-2.2 2.9000000000000004l2.2 2.9000000000000004" fill="none" stroke="#f4c8c8" stroke-width="0.4" />
<path d="M304.6 146.2H309.0V127.4" fill="none" stroke="#555" stroke-width="1.0" />
<rect x="307.20" y="118.20" width="4.60" height="3.60" fill="#f4f4f4" stroke="#2a2a2a" stroke-width="0.7" />
<path d="M305.8 123.0l3.6 3.0m0-3.0l-3.6 3.0" fill="none" stroke="#2a2a2a" stroke-width="0.7" />
<circle cx="310.40" cy="124.60" r="1.40" fill="none" stroke="#2a2a2a" stroke-width="0.6"/>
<line x1="288.40" y1="146.40" x2="286.60" y2="146.40" stroke="#555" stroke-width="0.9" />
<line x1="286.40" y1="146.40" x2="286.40" y2="153.20" stroke="#555" stroke-width="1.0" />
<rect x="283.40" y="153.20" width="6.20" height="20.40" fill="#e2151d" stroke="#9c0c12" stroke-width="0.4" />
<rect x="284.40" y="154.70" width="4.20" height="17.20" fill="#c4aaaa" stroke="#6a5050" stroke-width="0.4" rx="1.0" />
<rect x="258.60" y="153.10" width="6.00" height="2.50" fill="#bdbdbd" stroke="#7a7a7a" stroke-width="0.35" />
<rect x="258.60" y="155.60" width="23.80" height="7.00" fill="#fdfdfd" stroke="#5a5a5a" stroke-width="0.55" />
<line x1="263.80" y1="155.60" x2="263.80" y2="162.60" stroke="#6a6a6a" stroke-width="0.5" />
<line x1="277.60" y1="155.60" x2="277.60" y2="162.60" stroke="#6a6a6a" stroke-width="0.5" />
<text x="259.60" y="160.60" font-size="3.3" fill="#6a6a6a" textLength="2.90" lengthAdjust="spacingAndGlyphs">PV</text>
<text x="270.40" y="160.80" font-size="4.0" fill="#3a3a3a" textLength="6.00" lengthAdjust="spacingAndGlyphs" stroke="#3a3a3a" stroke-width="0.05">Text</text>
<text x="278.80" y="160.60" font-size="3.3" fill="#6a6a6a" textLength="2.20" lengthAdjust="spacingAndGlyphs">V</text>
<path d="M286.6 177.8l-1.52 -2.6599999999999997h3.04z" fill="#111" />
<line x1="286.60" y1="178.00" x2="286.60" y2="200.00" stroke="#2a2a2a" stroke-width="0.7" />
<rect x="253.60" y="173.90" width="8.00" height="2.50" fill="#bdbdbd" stroke="#7a7a7a" stroke-width="0.35" />
<rect x="253.60" y="176.40" width="23.40" height="6.60" fill="#fdfdfd" stroke="#5a5a5a" stroke-width="0.55" />
<line x1="258.80" y1="176.40" x2="258.80" y2="183.00" stroke="#6a6a6a" stroke-width="0.5" />
<line x1="272.20" y1="176.40" x2="272.20" y2="183.00" stroke="#6a6a6a" stroke-width="0.5" />
<text x="254.60" y="181.00" font-size="3.3" fill="#6a6a6a" textLength="2.90" lengthAdjust="spacingAndGlyphs">PV</text>
<text x="265.00" y="181.20" font-size="4.0" fill="#3a3a3a" textLength="6.00" lengthAdjust="spacingAndGlyphs" stroke="#3a3a3a" stroke-width="0.05">Text</text>
<text x="273.40" y="181.00" font-size="3.3" fill="#6a6a6a" textLength="2.20" lengthAdjust="spacingAndGlyphs"> </text>
<text x="254.60" y="181.40" font-size="3.6" fill="#d03030" textLength="3.00" lengthAdjust="spacingAndGlyphs" stroke="#d03030" stroke-width="0.1">PV</text>
<rect x="247.80" y="184.70" width="7.40" height="2.50" fill="#bdbdbd" stroke="#7a7a7a" stroke-width="0.35" />
<rect x="247.80" y="187.20" width="24.60" height="6.60" fill="#fdfdfd" stroke="#5a5a5a" stroke-width="0.55" />
<line x1="253.00" y1="187.20" x2="253.00" y2="193.80" stroke="#6a6a6a" stroke-width="0.5" />
<line x1="267.60" y1="187.20" x2="267.60" y2="193.80" stroke="#6a6a6a" stroke-width="0.5" />
<text x="248.80" y="191.80" font-size="3.3" fill="#6a6a6a" textLength="2.90" lengthAdjust="spacingAndGlyphs">PV</text>
<text x="260.40" y="192.00" font-size="4.0" fill="#3a3a3a" textLength="6.00" lengthAdjust="spacingAndGlyphs" stroke="#3a3a3a" stroke-width="0.05">Text</text>
<text x="268.80" y="191.80" font-size="3.3" fill="#6a6a6a" textLength="2.20" lengthAdjust="spacingAndGlyphs">Vol</text>
<line x1="260.00" y1="187.20" x2="260.00" y2="193.80" stroke="#6a6a6a" stroke-width="0.5" />
<rect x="239.20" y="196.70" width="8.00" height="2.50" fill="#bdbdbd" stroke="#7a7a7a" stroke-width="0.35" />
<rect x="239.20" y="199.20" width="23.60" height="6.60" fill="#fdfdfd" stroke="#5a5a5a" stroke-width="0.55" />
<line x1="244.40" y1="199.20" x2="244.40" y2="205.80" stroke="#6a6a6a" stroke-width="0.5" />
<line x1="258.00" y1="199.20" x2="258.00" y2="205.80" stroke="#6a6a6a" stroke-width="0.5" />
<text x="240.20" y="203.80" font-size="3.3" fill="#6a6a6a" textLength="2.90" lengthAdjust="spacingAndGlyphs">PV</text>
<text x="250.80" y="204.00" font-size="4.0" fill="#3a3a3a" textLength="6.00" lengthAdjust="spacingAndGlyphs" stroke="#3a3a3a" stroke-width="0.05">Text</text>
<text x="259.20" y="203.80" font-size="3.3" fill="#6a6a6a" textLength="2.20" lengthAdjust="spacingAndGlyphs">V</text>
<rect x="239.20" y="206.90" width="8.00" height="2.50" fill="#bdbdbd" stroke="#7a7a7a" stroke-width="0.35" />
<rect x="239.20" y="209.40" width="23.60" height="6.60" fill="#fdfdfd" stroke="#5a5a5a" stroke-width="0.55" />
<line x1="244.40" y1="209.40" x2="244.40" y2="216.00" stroke="#6a6a6a" stroke-width="0.5" />
<line x1="258.00" y1="209.40" x2="258.00" y2="216.00" stroke="#6a6a6a" stroke-width="0.5" />
<text x="240.20" y="214.00" font-size="3.3" fill="#6a6a6a" textLength="2.90" lengthAdjust="spacingAndGlyphs">PV</text>
<text x="250.80" y="214.20" font-size="4.0" fill="#3a3a3a" textLength="6.00" lengthAdjust="spacingAndGlyphs" stroke="#3a3a3a" stroke-width="0.05">Text</text>
<text x="259.20" y="214.00" font-size="3.3" fill="#6a6a6a" textLength="2.20" lengthAdjust="spacingAndGlyphs">V</text>
<rect x="239.20" y="217.70" width="8.00" height="2.50" fill="#bdbdbd" stroke="#7a7a7a" stroke-width="0.35" />
<rect x="239.20" y="220.20" width="23.60" height="6.90" fill="#fdfdfd" stroke="#5a5a5a" stroke-width="0.55" />
<line x1="244.40" y1="220.20" x2="244.40" y2="227.10" stroke="#6a6a6a" stroke-width="0.5" />
<line x1="258.00" y1="220.20" x2="258.00" y2="227.10" stroke="#6a6a6a" stroke-width="0.5" />
<text x="240.20" y="225.10" font-size="3.3" fill="#6a6a6a" textLength="2.90" lengthAdjust="spacingAndGlyphs">PV</text>
<text x="250.80" y="225.30" font-size="4.0" fill="#3a3a3a" textLength="6.00" lengthAdjust="spacingAndGlyphs" stroke="#3a3a3a" stroke-width="0.05">Text</text>
<text x="259.20" y="225.10" font-size="3.3" fill="#6a6a6a" textLength="2.20" lengthAdjust="spacingAndGlyphs">V</text>
<rect x="278.00" y="175.80" width="4.80" height="9.40" fill="url(#steel)" stroke="#555" stroke-width="0.4" />
<line x1="278.20" y1="177.40" x2="282.60" y2="177.40" stroke="#666" stroke-width="0.35" />
<line x1="278.20" y1="179.00" x2="282.60" y2="179.00" stroke="#666" stroke-width="0.35" />
<line x1="278.20" y1="180.60" x2="282.60" y2="180.60" stroke="#666" stroke-width="0.35" />
<line x1="278.20" y1="182.20" x2="282.60" y2="182.20" stroke="#666" stroke-width="0.35" />
<line x1="278.20" y1="183.80" x2="282.60" y2="183.80" stroke="#666" stroke-width="0.35" />
<rect x="278.80" y="185.20" width="3.20" height="10.40" fill="#b8b8b8" stroke="#777" stroke-width="0.4" />
<line x1="272.60" y1="190.40" x2="272.60" y2="196.80" stroke="#555" stroke-width="0.6" />
<text x="289.80" y="184.60" font-size="4.0" fill="#333" textLength="9.60" lengthAdjust="spacingAndGlyphs" stroke="#333" stroke-width="0.1">R-404</text>
<text x="289.80" y="187.80" font-size="2.8" fill="#666" textLength="12.40" lengthAdjust="spacingAndGlyphs" stroke="#666" stroke-width="0.22">GTN Reactor</text>
<path d="M289.2 192.4H305.8V239" fill="none" stroke="#333" stroke-width="0.8" />
<linearGradient id="vess" x1="0" x2="1" y1="0" y2="0"><stop offset="0" stop-color="#3a3a3a"/><stop offset="0.5" stop-color="#555"/><stop offset="1" stop-color="#383838"/></linearGradient>
<linearGradient id="rim" x1="0" x2="1" y1="0" y2="0"><stop offset="0" stop-color="#8a8a8a"/><stop offset="0.12" stop-color="#e4e4e4"/><stop offset="0.5" stop-color="#9a9a9a"/><stop offset="0.9" stop-color="#d0d0d0"/><stop offset="1" stop-color="#777"/></linearGradient>
<linearGradient id="jack" x1="0" x2="1" y1="0" y2="0"><stop offset="0" stop-color="#b87a58"/><stop offset="0.5" stop-color="#e2b494"/><stop offset="1" stop-color="#b87a58"/></linearGradient>
<rect x="263.20" y="199.90" width="4.60" height="25.20" fill="url(#jack)" />
<rect x="293.10" y="199.90" width="4.80" height="25.20" fill="url(#jack)" />
<path d="M267.7 198.6H293.1V221.6Q293.1 234.8 280.4 234.8Q267.7 234.8 267.7 221.6z" fill="url(#rim)" stroke="#5a5a5a" stroke-width="0.35" />
<path d="M270.0 199.0H291.6V220.6Q291.6 230.8 280.8 230.8Q270.0 230.8 270.0 220.6z" fill="url(#vess)" />
<linearGradient id="cap" x1="0" x2="0" y1="0" y2="1"><stop offset="0" stop-color="#6a6a6a"/><stop offset="1" stop-color="#2e2e2e"/></linearGradient>
<rect x="265.00" y="196.30" width="30.60" height="2.90" fill="url(#cap)" rx="0.6" />
<line x1="286.60" y1="199.20" x2="286.60" y2="223.80" stroke="#1e1e1e" stroke-width="0.8" />
<line x1="280.40" y1="200.40" x2="280.40" y2="224.40" stroke="#d8261a" stroke-width="0.7" />
<rect x="276.80" y="212.50" width="8.00" height="1.80" fill="#e04a26" />
<rect x="279.60" y="212.50" width="1.60" height="1.80" fill="#5a2a20" />
<rect x="277.40" y="212.90" width="1.40" height="1.00" fill="#f8b070" />
<rect x="282.60" y="212.90" width="1.40" height="1.00" fill="#f8b070" />
<rect x="276.80" y="222.90" width="8.00" height="1.80" fill="#e04a26" />
<rect x="279.60" y="222.90" width="1.60" height="1.80" fill="#5a2a20" />
<rect x="277.40" y="223.30" width="1.40" height="1.00" fill="#f8b070" />
<rect x="282.60" y="223.30" width="1.40" height="1.00" fill="#f8b070" />
<line x1="272.20" y1="205.80" x2="272.20" y2="222.60" stroke="#0c0c0c" stroke-width="1.1" stroke-dasharray="1.2 0.9"/>
<line x1="288.90" y1="205.80" x2="288.90" y2="222.60" stroke="#0c0c0c" stroke-width="1.1" stroke-dasharray="1.2 0.9"/>
<path d="M311.0 231.4l1.2 1.4l-1.2 1.4" fill="none" stroke="#666" stroke-width="0.4" />
<rect x="73.80" y="239.20" width="243.60" height="5.60" fill="#f2f2f2" />
<rect x="73.80" y="239.20" width="40.40" height="5.60" fill="url(#grid)" />
<rect x="114.00" y="239.40" width="152.40" height="5.00" fill="#c9c9c9" />
<rect x="314.00" y="61.20" width="3.40" height="178.00" fill="#ececec" />
<rect x="314.40" y="66.00" width="2.60" height="116.00" fill="#cdcdcd" />
<path d="M311.0 235.6l1.2 1.4l-1.2 1.4" fill="none" stroke="#555" stroke-width="0.5" />
<rect x="319.60" y="55.80" width="54.20" height="5.20" fill="#525252" />
<text x="321.00" y="59.60" font-size="3.8" fill="#a8a8a8" textLength="13.60" lengthAdjust="spacingAndGlyphs" stroke="#a8a8a8" stroke-width="0.22">Properties</text>
<path d="M364.0 58.0h1.6l-0.8 1.2z" fill="#aaa" />
<path d="M369.4 57.4l1.8 2m0-2l-1.8 2" fill="none" stroke="#ccc" stroke-width="0.5" />
<rect x="319.60" y="61.00" width="54.20" height="184.40" fill="#606060" />
<rect x="319.60" y="216.80" width="54.20" height="28.00" fill="#595959" />
<path d="M321.8 64.6l0.9-1.2l0.9 1.2zM321.8 66.0l0.9 1.2l0.9-1.2z" fill="#4a90e8" />
<rect x="327.40" y="63.20" width="1.20" height="4.20" fill="#e05040" />
<rect x="329.00" y="63.20" width="1.40" height="4.20" fill="#5a9ae8" />
<rect x="328.00" y="64.60" width="2.20" height="0.80" fill="#f0d060" />
<rect x="334.00" y="63.20" width="3.00" height="4.20" fill="#dfe8f6" />
<rect x="334.60" y="64.00" width="1.80" height="1.20" fill="#4a7ac8" />
<rect x="340.00" y="63.20" width="3.00" height="4.20" fill="#f0e0b8" />
<rect x="340.60" y="64.00" width="1.80" height="1.40" fill="#e8a030" />
<rect x="321.20" y="70.20" width="51.60" height="4.60" fill="#6b6b6b" />
<text x="324.60" y="73.80" font-size="4.2" fill="#f2f2f2" font-weight="bold" textLength="12.25" lengthAdjust="spacingAndGlyphs" stroke="#f2f2f2" stroke-width="0.05">General</text>
<path d="M369.6 71.8h1.6l-0.8 1.1z" fill="#bbb" />
<rect x="321.20" y="75.40" width="1.60" height="4.60" fill="#6b6b6b" />
<rect x="323.00" y="75.40" width="23.00" height="4.60" fill="#636363" />
<rect x="346.40" y="75.40" width="26.40" height="4.60" fill="#626262" />
<text x="328.00" y="79.00" font-size="4.0" fill="#c4c4c4" textLength="6.80" lengthAdjust="spacingAndGlyphs" stroke="#c4c4c4" stroke-width="0.22">Name</text>
<rect x="321.20" y="81.00" width="51.60" height="4.60" fill="#6b6b6b" />
<text x="324.60" y="84.60" font-size="4.2" fill="#f2f2f2" font-weight="bold" textLength="14.00" lengthAdjust="spacingAndGlyphs" stroke="#f2f2f2" stroke-width="0.05">Security</text>
<path d="M369.6 82.6h1.6l-0.8 1.1z" fill="#bbb" />
<rect x="321.20" y="86.00" width="1.60" height="4.60" fill="#6b6b6b" />
<rect x="323.00" y="86.00" width="23.00" height="4.60" fill="#636363" />
<rect x="346.40" y="86.00" width="26.40" height="4.60" fill="#626262" />
<text x="328.00" y="89.60" font-size="4.0" fill="#c4c4c4" textLength="8.50" lengthAdjust="spacingAndGlyphs" stroke="#c4c4c4" stroke-width="0.22">Level</text>
<text x="347.60" y="89.60" font-size="4.2" fill="#f4f4f4" font-weight="bold" textLength="5.75" lengthAdjust="spacingAndGlyphs" stroke="#f4f4f4" stroke-width="0.22">(All)</text>
<rect x="321.20" y="91.20" width="51.60" height="4.60" fill="#6b6b6b" />
<text x="324.60" y="94.80" font-size="4.2" fill="#f2f2f2" font-weight="bold" textLength="9.40" lengthAdjust="spacingAndGlyphs" stroke="#f2f2f2" stroke-width="0.05">Appear</text>
<path d="M369.6 92.8h1.6l-0.8 1.1z" fill="#bbb" />
<rect x="321.20" y="96.40" width="1.60" height="4.60" fill="#6b6b6b" />
<rect x="323.00" y="96.40" width="23.00" height="4.60" fill="#636363" />
<rect x="346.40" y="96.40" width="26.40" height="4.60" fill="#626262" />
<text x="328.00" y="100.00" font-size="4.0" fill="#c4c4c4" textLength="8.50" lengthAdjust="spacingAndGlyphs" stroke="#c4c4c4" stroke-width="0.22">Angle</text>
<text x="347.60" y="100.00" font-size="4.2" fill="#f4f4f4" font-weight="bold" textLength="1.15" lengthAdjust="spacingAndGlyphs" stroke="#f4f4f4" stroke-width="0.22">0</text>
<rect x="321.20" y="101.80" width="1.60" height="4.60" fill="#6b6b6b" />
<rect x="323.00" y="101.80" width="23.00" height="4.60" fill="#636363" />
<rect x="346.40" y="101.80" width="26.40" height="4.60" fill="#626262" />
<text x="328.00" y="105.40" font-size="4.0" fill="#c4c4c4" textLength="10.20" lengthAdjust="spacingAndGlyphs" stroke="#c4c4c4" stroke-width="0.22">Height</text>
<rect x="321.20" y="106.80" width="1.60" height="4.60" fill="#6b6b6b" />
<rect x="323.00" y="106.80" width="23.00" height="4.60" fill="#636363" />
<rect x="346.40" y="106.80" width="26.40" height="4.60" fill="#626262" />
<text x="328.00" y="110.40" font-size="4.0" fill="#c4c4c4" textLength="8.50" lengthAdjust="spacingAndGlyphs" stroke="#c4c4c4" stroke-width="0.22">Width</text>
<rect x="321.20" y="111.80" width="1.60" height="4.60" fill="#6b6b6b" />
<rect x="323.00" y="111.80" width="23.00" height="4.60" fill="#636363" />
<rect x="346.40" y="111.80" width="26.40" height="4.60" fill="#626262" />
<text x="328.00" y="115.40" font-size="4.0" fill="#c4c4c4" textLength="1.70" lengthAdjust="spacingAndGlyphs" stroke="#c4c4c4" stroke-width="0.22">X</text>
<rect x="321.20" y="116.80" width="1.60" height="4.60" fill="#6b6b6b" />
<rect x="323.00" y="116.80" width="23.00" height="4.60" fill="#636363" />
<rect x="346.40" y="116.80" width="26.40" height="4.60" fill="#626262" />
<text x="328.00" y="120.40" font-size="4.0" fill="#c4c4c4" textLength="1.70" lengthAdjust="spacingAndGlyphs" stroke="#c4c4c4" stroke-width="0.22">Y</text>
<text x="344.80" y="219.60" font-size="3.6" fill="#8a8a8a" textLength="3.00" lengthAdjust="spacingAndGlyphs" stroke="#8a8a8a" stroke-width="0.22">...</text>
<rect x="319.60" y="236.40" width="54.20" height="8.20" fill="#565656" />
<rect x="319.60" y="236.40" width="18.60" height="8.20" fill="#5f5f5f" />
<text x="321.60" y="241.60" font-size="3.8" fill="#e8e8e8" textLength="13.00" lengthAdjust="spacingAndGlyphs" stroke="#e8e8e8" stroke-width="0.05">Properties</text>
<text x="340.60" y="241.60" font-size="3.6" fill="#7e7e7e" textLength="22.00" lengthAdjust="spacingAndGlyphs" stroke="#7e7e7e" stroke-width="0.22">Animation/Events</text>
</g>
</svg></body></html>
